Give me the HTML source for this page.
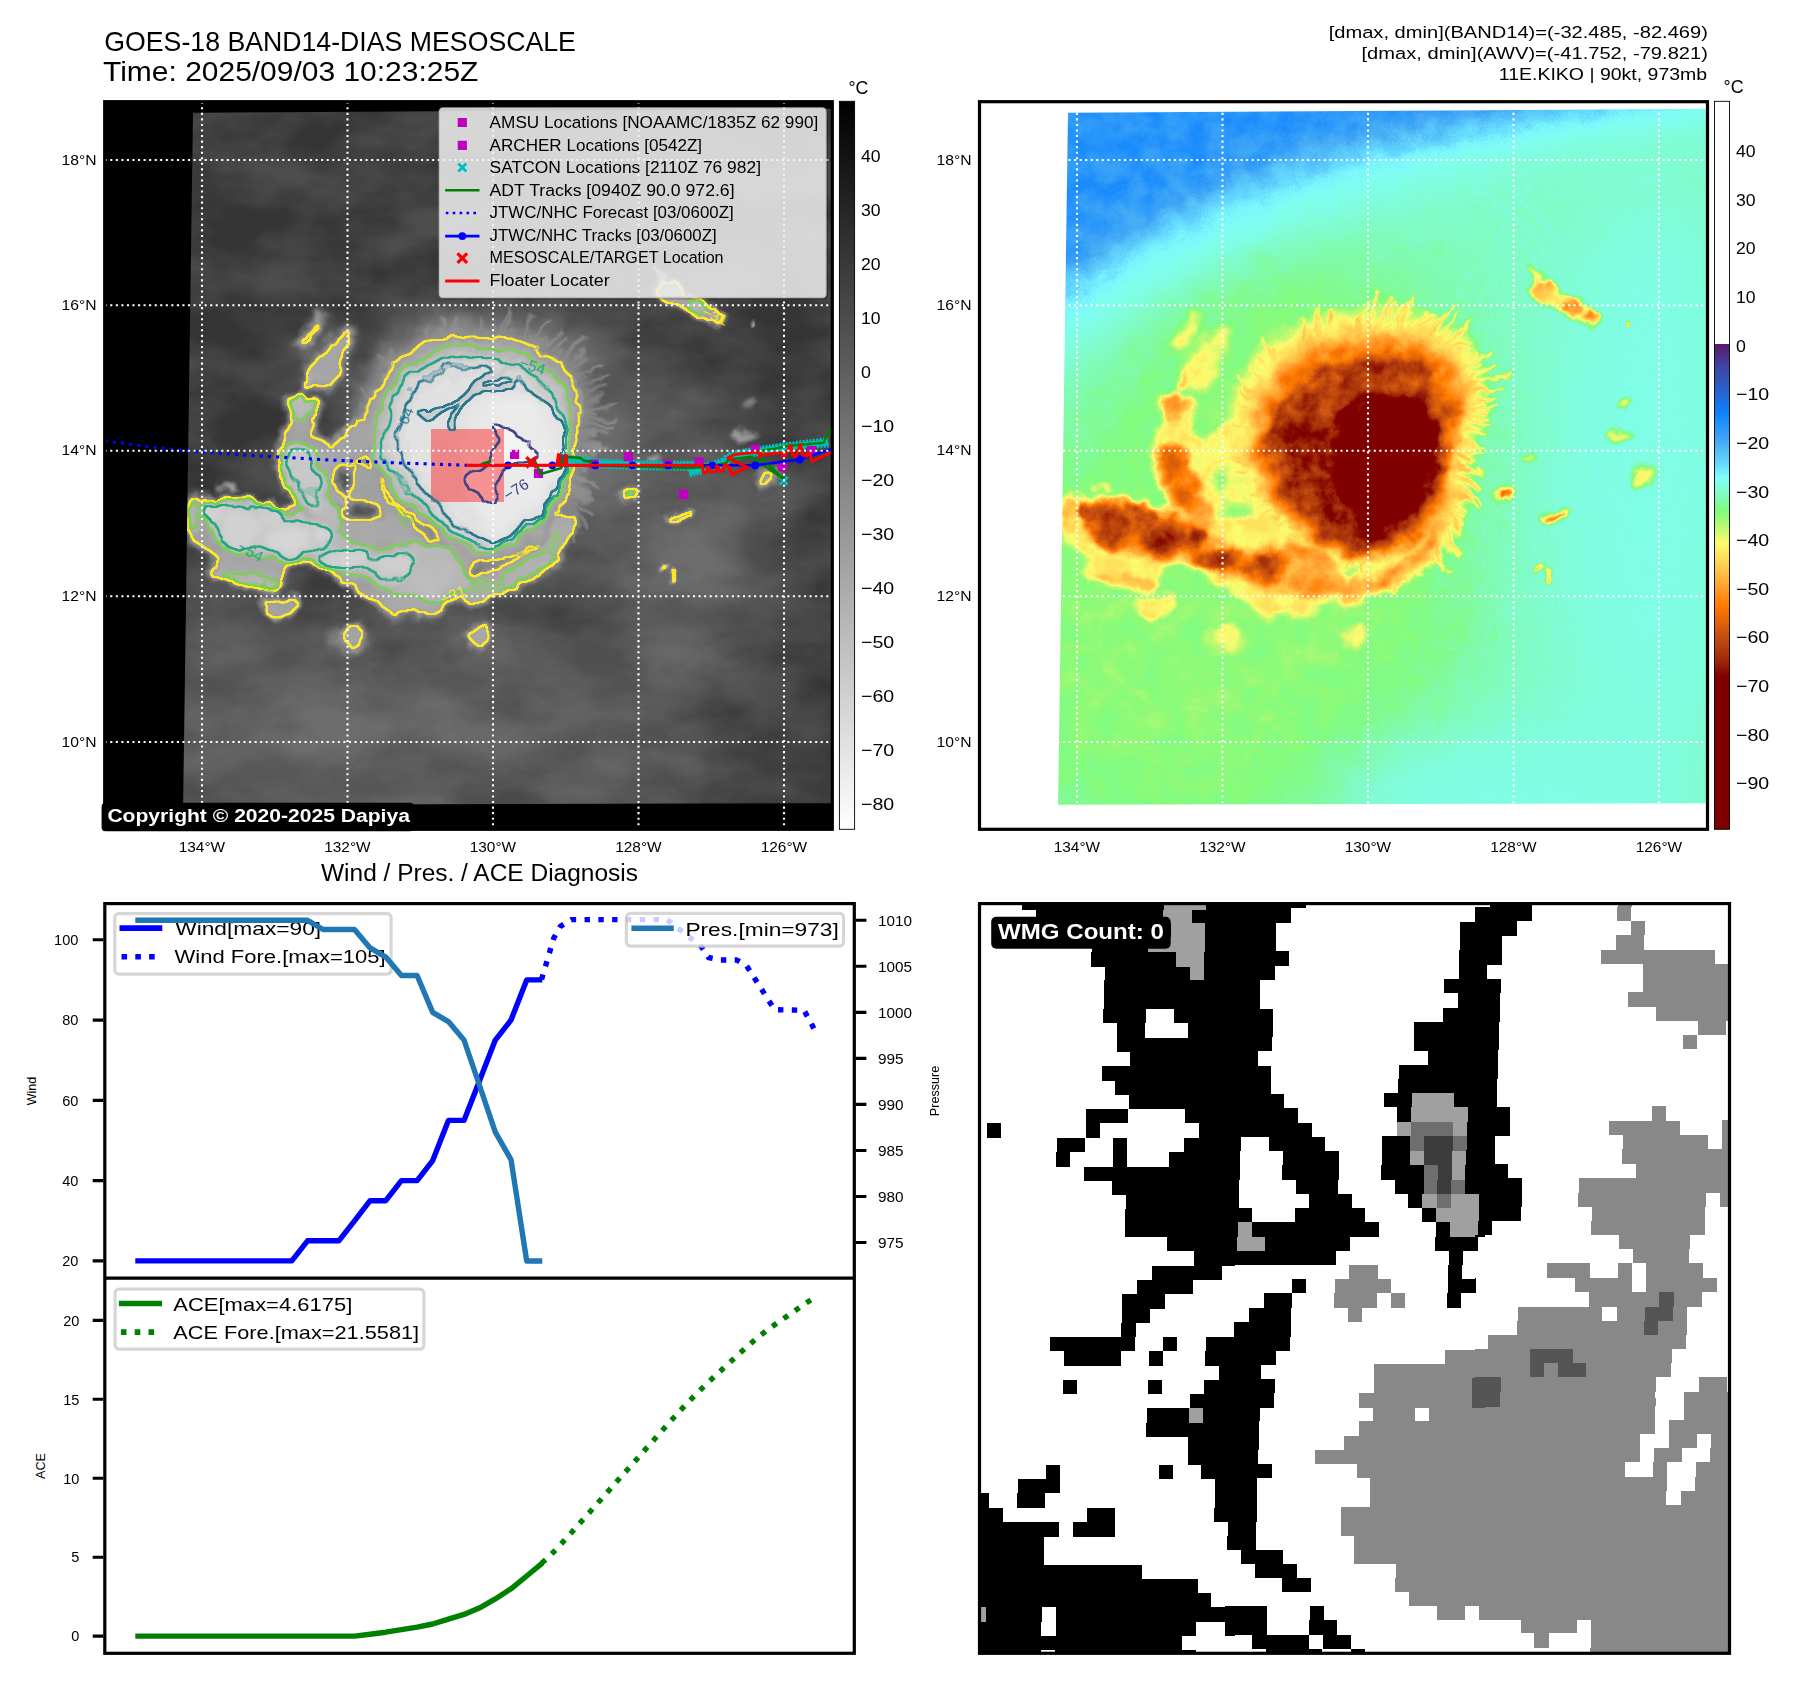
<!DOCTYPE html>
<html><head><meta charset="utf-8"><title>GOES-18 BAND14-DIAS MESOSCALE</title>
<style>html,body{margin:0;padding:0;background:#fff;overflow:hidden}svg{display:block}text{font-family:"Liberation Sans",sans-serif}</style></head><body>
<svg width="1797" height="1690" viewBox="0 0 1797 1690">
<defs><filter id="b1" x="-50%" y="-50%" width="200%" height="200%" color-interpolation-filters="sRGB"><feGaussianBlur stdDeviation="1"/></filter>
<filter id="b1_2" x="-50%" y="-50%" width="200%" height="200%" color-interpolation-filters="sRGB"><feGaussianBlur stdDeviation="1.2"/></filter>
<filter id="b1_5" x="-50%" y="-50%" width="200%" height="200%" color-interpolation-filters="sRGB"><feGaussianBlur stdDeviation="1.5"/></filter>
<filter id="b2" x="-50%" y="-50%" width="200%" height="200%" color-interpolation-filters="sRGB"><feGaussianBlur stdDeviation="2"/></filter>
<filter id="b2_5" x="-50%" y="-50%" width="200%" height="200%" color-interpolation-filters="sRGB"><feGaussianBlur stdDeviation="2.5"/></filter>
<filter id="b3" x="-50%" y="-50%" width="200%" height="200%" color-interpolation-filters="sRGB"><feGaussianBlur stdDeviation="3"/></filter>
<filter id="b4" x="-50%" y="-50%" width="200%" height="200%" color-interpolation-filters="sRGB"><feGaussianBlur stdDeviation="4"/></filter>
<filter id="b6" x="-50%" y="-50%" width="200%" height="200%" color-interpolation-filters="sRGB"><feGaussianBlur stdDeviation="6"/></filter>
<filter id="b7" x="-50%" y="-50%" width="200%" height="200%" color-interpolation-filters="sRGB"><feGaussianBlur stdDeviation="7"/></filter>
<filter id="b12" x="-50%" y="-50%" width="200%" height="200%" color-interpolation-filters="sRGB"><feGaussianBlur stdDeviation="12"/></filter>
<filter id="b20" x="-50%" y="-50%" width="200%" height="200%" color-interpolation-filters="sRGB"><feGaussianBlur stdDeviation="20"/></filter>
<filter id="b30" x="-50%" y="-50%" width="200%" height="200%" color-interpolation-filters="sRGB"><feGaussianBlur stdDeviation="30"/></filter>
<filter id="b40" x="-50%" y="-50%" width="200%" height="200%" color-interpolation-filters="sRGB"><feGaussianBlur stdDeviation="40"/></filter>
<filter id="b60" x="-50%" y="-50%" width="200%" height="200%" color-interpolation-filters="sRGB"><feGaussianBlur stdDeviation="60"/></filter>
<clipPath id="img1"><path d="M193 112.8 L831.5 108.8 L831.5 803.2 L183.1 804.8 Z"/></clipPath>
<clipPath id="ax1"><rect x="104.7" y="101.7" width="727.6" height="727.6"/></clipPath>
<filter id="disp" filterUnits="userSpaceOnUse" x="100" y="98" width="740" height="736" color-interpolation-filters="sRGB"><feTurbulence type="fractalNoise" baseFrequency="0.045" numOctaves="3" seed="2" result="t"/><feDisplacementMap in="SourceGraphic" in2="t" scale="16" xChannelSelector="R" yChannelSelector="G"/></filter>
<filter id="irf" filterUnits="userSpaceOnUse" x="100" y="98" width="740" height="736" color-interpolation-filters="sRGB">
<feTurbulence type="fractalNoise" baseFrequency="0.011 0.02" numOctaves="4" seed="11" result="n"/>
<feColorMatrix in="n" type="matrix" values="2.2 0 0 0 -0.6  2.2 0 0 0 -0.6  2.2 0 0 0 -0.6  0 0 0 0 1" result="ng"/>
<feComposite in="SourceGraphic" in2="ng" operator="arithmetic" k1="-0.13" k2="1.0650" k3="0.13" k4="-0.0650" result="fld"/>
<feGaussianBlur in="fld" stdDeviation="0.8" result="fb"/>
<feColorMatrix in="fb" x="183" y="255" width="610" height="412" type="matrix" values="0 0 0 0 0  0 0 0 0 0  0 0 0 0 0  1 0 0 0 0" result="af"/>
<feComponentTransfer in="af" result="m0"><feFuncA type="linear" slope="120" intercept="-71.500"/></feComponentTransfer>
<feMorphology in="m0" operator="dilate" radius="1" result="d0"/>
<feMorphology in="m0" operator="erode" radius="1" result="e0"/>
<feComposite in="d0" in2="e0" operator="out" result="r0"/>
<feFlood flood-color="#fde725" x="183" y="255" width="610" height="412" result="c0"/>
<feComposite in="c0" in2="r0" operator="in" result="k0"/>
<feComponentTransfer in="af" result="m1"><feFuncA type="linear" slope="120" intercept="-81.278"/></feComponentTransfer>
<feMorphology in="m1" operator="dilate" radius="1" result="d1"/>
<feMorphology in="m1" operator="erode" radius="1" result="e1"/>
<feComposite in="d1" in2="e1" operator="out" result="r1"/>
<feFlood flood-color="#7ad151" x="183" y="255" width="610" height="412" result="c1"/>
<feComposite in="c1" in2="r1" operator="in" result="k1"/>
<feComponentTransfer in="af" result="m2"><feFuncA type="linear" slope="120" intercept="-91.944"/></feComponentTransfer>
<feMorphology in="m2" operator="dilate" radius="1" result="d2"/>
<feMorphology in="m2" operator="erode" radius="1" result="e2"/>
<feComposite in="d2" in2="e2" operator="out" result="r2"/>
<feFlood flood-color="#22a884" x="183" y="255" width="610" height="412" result="c2"/>
<feComposite in="c2" in2="r2" operator="in" result="k2"/>
<feComponentTransfer in="af" result="m3"><feFuncA type="linear" slope="120" intercept="-100.833"/></feComponentTransfer>
<feMorphology in="m3" operator="dilate" radius="1" result="d3"/>
<feMorphology in="m3" operator="erode" radius="1" result="e3"/>
<feComposite in="d3" in2="e3" operator="out" result="r3"/>
<feFlood flood-color="#2a788e" x="183" y="255" width="610" height="412" result="c3"/>
<feComposite in="c3" in2="r3" operator="in" result="k3"/>
<feComponentTransfer in="af" result="m4"><feFuncA type="linear" slope="120" intercept="-111.500"/></feComponentTransfer>
<feMorphology in="m4" operator="dilate" radius="1" result="d4"/>
<feMorphology in="m4" operator="erode" radius="1" result="e4"/>
<feComposite in="d4" in2="e4" operator="out" result="r4"/>
<feFlood flood-color="#414487" x="183" y="255" width="610" height="412" result="c4"/>
<feComposite in="c4" in2="r4" operator="in" result="k4"/>
<feFlood flood-color="#ff0000" flood-opacity="0.4" x="431" y="429.1" width="73" height="72.7" result="pink"/>
<feMerge><feMergeNode in="fld"/><feMergeNode in="pink"/><feMergeNode in="k0"/><feMergeNode in="k1"/><feMergeNode in="k2"/><feMergeNode in="k3"/><feMergeNode in="k4"/></feMerge>
</filter>
<filter id="wvf" filterUnits="userSpaceOnUse" x="100" y="98" width="740" height="736" color-interpolation-filters="sRGB">
<feTurbulence type="fractalNoise" baseFrequency="0.045" numOctaves="4" seed="5" result="n"/>
<feColorMatrix in="n" type="matrix" values="2.2 0 0 0 -0.6  2.2 0 0 0 -0.6  2.2 0 0 0 -0.6  0 0 0 0 1" result="ng"/>
<feComposite in="SourceGraphic" in2="ng" operator="arithmetic" k1="0.26" k2="0.8700" k3="-0.152" k4="0.0760" result="fld"/>
<feComponentTransfer in="fld"><feFuncR type="table" tableValues="1.000 1.000 1.000 1.000 1.000 1.000 1.000 1.000 1.000 1.000 1.000 1.000 1.000 1.000 1.000 1.000 1.000 1.000 1.000 1.000 1.000 1.000 1.000 1.000 1.000 1.000 1.000 1.000 1.000 1.000 1.000 1.000 1.000 1.000 1.000 1.000 1.000 1.000 1.000 1.000 1.000 1.000 1.000 1.000 1.000 1.000 1.000 1.000 1.000 1.000 0.353 0.329 0.306 0.282 0.259 0.235 0.220 0.204 0.188 0.173 0.157 0.127 0.098 0.069 0.039 0.077 0.115 0.153 0.191 0.229 0.267 0.295 0.323 0.351 0.380 0.408 0.445 0.483 0.502 0.502 0.502 0.502 0.502 0.502 0.502 0.537 0.608 0.678 0.749 0.825 0.907 0.988 0.991 0.993 0.996 0.999 1.000 1.000 1.000 1.000 1.000 1.000 1.000 1.000 1.000 0.964 0.928 0.892 0.856 0.820 0.784 0.753 0.722 0.690 0.659 0.627 0.592 0.556 0.520 0.502 0.502 0.502 0.502 0.502 0.502 0.502 0.502 0.502 0.502 0.502 0.502 0.502 0.502 0.502 0.502 0.502"/><feFuncG type="table" tableValues="1.000 1.000 1.000 1.000 1.000 1.000 1.000 1.000 1.000 1.000 1.000 1.000 1.000 1.000 1.000 1.000 1.000 1.000 1.000 1.000 1.000 1.000 1.000 1.000 1.000 1.000 1.000 1.000 1.000 1.000 1.000 1.000 1.000 1.000 1.000 1.000 1.000 1.000 1.000 1.000 1.000 1.000 1.000 1.000 1.000 1.000 1.000 1.000 1.000 1.000 0.102 0.138 0.174 0.210 0.246 0.282 0.304 0.326 0.348 0.370 0.392 0.420 0.447 0.475 0.502 0.529 0.557 0.584 0.612 0.639 0.667 0.706 0.745 0.784 0.824 0.863 0.918 0.973 0.998 0.993 0.988 0.988 0.988 0.988 0.988 0.986 0.982 0.978 0.975 0.976 0.982 0.988 0.950 0.912 0.873 0.835 0.795 0.753 0.711 0.669 0.627 0.590 0.553 0.516 0.478 0.451 0.424 0.396 0.369 0.341 0.314 0.285 0.257 0.229 0.201 0.173 0.123 0.074 0.025 0.000 0.000 0.000 0.000 0.000 0.000 0.000 0.000 0.000 0.000 0.000 0.000 0.000 0.000 0.000 0.000 0.000"/><feFuncB type="table" tableValues="1.000 1.000 1.000 1.000 1.000 1.000 1.000 1.000 1.000 1.000 1.000 1.000 1.000 1.000 1.000 1.000 1.000 1.000 1.000 1.000 1.000 1.000 1.000 1.000 1.000 1.000 1.000 1.000 1.000 1.000 1.000 1.000 1.000 1.000 1.000 1.000 1.000 1.000 1.000 1.000 1.000 1.000 1.000 1.000 1.000 1.000 1.000 1.000 1.000 1.000 0.416 0.464 0.513 0.562 0.610 0.659 0.688 0.717 0.746 0.775 0.804 0.853 0.902 0.951 1.000 0.994 0.988 0.982 0.976 0.971 0.965 0.972 0.979 0.986 0.993 1.000 0.992 0.984 0.952 0.896 0.839 0.759 0.679 0.599 0.519 0.474 0.464 0.454 0.444 0.439 0.439 0.439 0.411 0.383 0.356 0.328 0.300 0.272 0.244 0.216 0.188 0.141 0.094 0.047 0.000 0.010 0.021 0.031 0.042 0.052 0.063 0.056 0.050 0.044 0.038 0.031 0.022 0.013 0.004 0.000 0.000 0.000 0.000 0.000 0.000 0.000 0.000 0.000 0.000 0.000 0.000 0.000 0.000 0.000 0.000 0.000"/></feComponentTransfer>
</filter></defs>
<rect width="1797" height="1690" fill="#fff"/>
<rect x="104.7" y="101.7" width="727.6" height="727.6" fill="#000"/>
<g clip-path="url(#img1)"><g filter="url(#irf)"><g filter="url(#disp)">
<rect x="80" y="78" width="780" height="776" fill="#414141"/>
<g fill="#5b5b5b" filter="url(#b40)"><ellipse cx="330" cy="720" rx="220" ry="100"/><ellipse cx="560" cy="690" rx="170" ry="90"/><ellipse cx="690" cy="520" rx="90" ry="130"/><path d="M170 610H720V830H170Z"/></g>
<g fill="#646464" filter="url(#b30)"><ellipse cx="320" cy="745" rx="160" ry="60"/><ellipse cx="520" cy="660" rx="120" ry="40" transform="rotate(-25 520 660)"/><ellipse cx="690" cy="560" rx="60" ry="90"/></g>
<g fill="#646464" filter="url(#b30)"><ellipse cx="508" cy="445" rx="150" ry="135"/></g>
<g fill="#404040" filter="url(#b30)"><ellipse cx="790" cy="770" rx="70" ry="60"/><ellipse cx="560" cy="610" rx="60" ry="25" transform="rotate(-20 560 610)"/></g>
<g id="clouds_ir">
<g style="mix-blend-mode:lighten" filter="url(#b7)"><path d="M602.2 454.9C601.4 460.0 600.9 464.8 600.2 469.8C599.6 474.7 599.1 479.7 598.3 484.7C597.6 489.7 596.8 494.8 595.6 499.8C594.5 504.9 593.2 510.0 591.4 515.0C589.6 520.0 587.5 525.1 584.8 529.8C582.2 534.5 579.0 539.1 575.6 543.3C572.1 547.5 568.2 551.4 564.1 555.2C560.1 558.9 555.7 562.5 551.1 565.7C546.6 568.8 541.7 571.8 536.7 574.3C531.6 576.8 526.3 579.0 520.9 580.7C515.5 582.4 509.9 583.6 504.2 584.3C498.6 585.0 492.8 585.4 487.2 584.9C481.6 584.4 475.9 583.3 470.5 581.6C465.2 579.9 460.0 577.3 455.1 574.6C450.3 571.9 445.8 568.6 441.5 565.2C437.2 561.9 433.3 558.3 429.6 554.7C425.8 551.2 422.3 547.6 418.7 544.1C415.1 540.7 411.7 537.4 408.0 534.1C404.3 530.8 400.4 527.8 396.5 524.5C392.5 521.2 388.3 518.0 384.2 514.4C380.1 510.7 375.8 506.9 371.8 502.7C367.9 498.4 363.9 493.9 360.4 488.9C357.0 483.9 353.7 478.5 351.1 472.8C348.6 467.2 346.6 461.1 345.2 454.9C343.8 448.7 343.1 442.3 342.7 435.9C342.3 429.4 342.4 422.8 343.0 416.3C343.6 409.7 344.8 403.1 346.4 396.6C348.1 390.1 350.3 383.6 353.0 377.4C355.7 371.2 359.0 365.1 362.7 359.4C366.5 353.7 370.8 348.1 375.5 343.2C380.2 338.2 385.5 333.6 391.1 329.6C396.6 325.6 402.7 322.1 408.8 319.2C415.0 316.2 421.5 313.8 427.9 311.8C434.4 309.8 441.1 308.4 447.6 307.3C454.2 306.2 460.9 305.6 467.5 305.2C474.1 304.8 480.6 304.8 487.2 304.9C493.8 305.0 500.3 305.3 506.8 306.0C513.3 306.6 519.9 307.4 526.4 308.7C532.9 310.0 539.4 311.6 545.7 313.7C552.0 315.9 558.3 318.5 564.1 321.7C570.0 324.9 575.7 328.6 580.8 332.9C585.9 337.2 590.8 342.1 594.7 347.4C598.6 352.8 601.8 358.9 604.3 365.1C606.7 371.3 608.2 378.0 609.1 384.5C610.1 391.0 610.2 397.7 610.1 404.0C609.9 410.3 609.1 416.6 608.2 422.5C607.4 428.4 606.1 434.0 605.1 439.4C604.1 444.8 603.0 449.8 602.2 454.9Z" fill="#555555"/><path d="M599.0 454.9C598.2 459.8 597.8 464.5 597.1 469.4C596.5 474.2 596.1 479.0 595.4 483.9C594.6 488.8 593.9 493.7 592.8 498.7C591.8 503.6 590.5 508.7 588.8 513.6C587.1 518.5 585.1 523.4 582.5 528.1C580.0 532.7 576.9 537.1 573.6 541.3C570.2 545.4 566.4 549.3 562.5 553.0C558.5 556.7 554.3 560.2 549.9 563.4C545.4 566.6 540.7 569.5 535.7 572.1C530.8 574.6 525.6 576.8 520.3 578.5C515.0 580.2 509.5 581.5 504.0 582.2C498.4 583.0 492.7 583.3 487.2 582.9C481.7 582.5 476.0 581.4 470.8 579.7C465.5 578.1 460.3 575.6 455.6 572.9C450.8 570.3 446.3 567.0 442.1 563.8C437.9 560.6 434.0 556.9 430.3 553.5C426.5 550.0 423.1 546.4 419.6 543.1C416.0 539.7 412.6 536.4 408.9 533.2C405.3 529.9 401.5 527.0 397.5 523.7C393.6 520.5 389.5 517.3 385.4 513.7C381.4 510.0 377.2 506.3 373.3 502.1C369.4 497.9 365.5 493.3 362.1 488.4C358.7 483.5 355.5 478.2 353.0 472.6C350.5 467.0 348.6 461.0 347.2 454.9C345.8 448.8 345.1 442.5 344.8 436.2C344.5 429.8 344.6 423.3 345.2 416.8C345.8 410.4 346.9 403.9 348.6 397.5C350.3 391.1 352.4 384.7 355.1 378.7C357.8 372.6 361.1 366.6 364.8 361.0C368.5 355.4 372.7 349.9 377.4 345.1C382.0 340.2 387.2 335.7 392.7 331.8C398.2 327.9 404.2 324.5 410.2 321.6C416.3 318.7 422.7 316.3 429.0 314.4C435.4 312.5 441.9 311.1 448.4 310.1C454.9 309.0 461.4 308.4 467.9 308.1C474.3 307.7 480.8 307.7 487.2 307.9C493.6 308.1 500.0 308.4 506.4 309.1C512.8 309.7 519.2 310.5 525.5 311.8C531.9 313.1 538.2 314.7 544.4 316.8C550.5 319.0 556.7 321.6 562.4 324.7C568.1 327.9 573.7 331.5 578.6 335.7C583.6 340.0 588.3 344.8 592.1 350.0C595.9 355.3 599.0 361.3 601.4 367.3C603.7 373.3 605.1 379.9 606.0 386.3C607.0 392.6 607.0 399.2 606.9 405.3C606.7 411.5 605.8 417.6 605.0 423.3C604.1 429.1 602.8 434.5 601.9 439.8C600.9 445.1 599.8 450.0 599.0 454.9Z" fill="#5a5a5a"/><path d="M595.9 454.9C595.1 459.7 594.6 464.3 594.1 469.0C593.5 473.7 593.1 478.3 592.4 483.1C591.7 487.8 591.1 492.7 590.1 497.5C589.0 502.3 587.9 507.3 586.2 512.1C584.6 516.9 582.7 521.7 580.2 526.3C577.8 530.8 574.8 535.2 571.6 539.3C568.3 543.4 564.7 547.2 560.8 550.9C557.0 554.5 552.9 558.0 548.6 561.2C544.2 564.3 539.6 567.3 534.8 569.8C530.0 572.3 524.9 574.6 519.7 576.3C514.5 578.0 509.1 579.3 503.7 580.1C498.3 580.9 492.6 581.3 487.2 580.9C481.8 580.5 476.2 579.5 471.0 577.9C465.8 576.3 460.7 573.9 456.0 571.3C451.3 568.7 446.9 565.5 442.7 562.3C438.5 559.2 434.7 555.6 431.0 552.2C427.3 548.8 423.9 545.3 420.4 542.0C416.9 538.6 413.5 535.4 409.9 532.2C406.3 529.0 402.5 526.1 398.6 522.9C394.8 519.7 390.7 516.5 386.7 512.9C382.7 509.4 378.6 505.6 374.8 501.5C370.9 497.3 367.1 492.8 363.8 488.0C360.4 483.1 357.3 477.8 354.8 472.3C352.4 466.8 350.5 460.9 349.2 454.9C347.9 448.9 347.2 442.7 346.9 436.4C346.6 430.2 346.7 423.8 347.3 417.4C348.0 411.1 349.1 404.6 350.8 398.4C352.4 392.1 354.6 385.9 357.3 379.9C359.9 373.9 363.2 368.0 366.8 362.5C370.5 357.0 374.7 351.7 379.2 346.9C383.8 342.2 389.0 337.8 394.4 333.9C399.8 330.1 405.7 326.8 411.6 324.0C417.6 321.2 423.8 318.9 430.1 317.0C436.4 315.2 442.8 313.9 449.1 312.8C455.5 311.8 461.9 311.3 468.3 311.0C474.6 310.6 480.9 310.7 487.2 310.9C493.5 311.1 499.7 311.5 506.0 312.1C512.2 312.8 518.5 313.6 524.7 314.9C530.9 316.3 537.1 317.8 543.1 320.0C549.1 322.1 555.1 324.6 560.6 327.8C566.2 330.9 571.6 334.5 576.4 338.6C581.2 342.8 585.8 347.5 589.5 352.6C593.2 357.8 596.2 363.6 598.5 369.5C600.7 375.4 602.1 381.9 602.9 388.1C603.8 394.3 603.9 400.6 603.6 406.7C603.4 412.7 602.6 418.6 601.7 424.2C600.9 429.8 599.6 435.1 598.6 440.2C597.7 445.3 596.6 450.1 595.9 454.9Z" fill="#606060"/><path d="M592.7 454.9C592.0 459.6 591.5 464.0 591.0 468.6C590.4 473.1 590.1 477.7 589.4 482.3C588.8 486.9 588.2 491.6 587.3 496.3C586.3 501.1 585.2 505.9 583.6 510.6C582.1 515.3 580.3 520.1 577.9 524.5C575.6 528.9 572.7 533.2 569.6 537.3C566.5 541.3 562.9 545.1 559.2 548.7C555.5 552.3 551.5 555.8 547.3 558.9C543.0 562.1 538.6 565.0 533.9 567.6C529.2 570.1 524.2 572.3 519.1 574.1C514.1 575.8 508.7 577.2 503.4 578.0C498.1 578.8 492.6 579.2 487.2 578.9C481.8 578.6 476.4 577.6 471.3 576.0C466.1 574.5 461.1 572.2 456.5 569.6C451.8 567.1 447.4 564.0 443.3 560.9C439.2 557.8 435.4 554.3 431.7 551.0C428.0 547.6 424.7 544.2 421.2 540.9C417.7 537.6 414.4 534.4 410.8 531.3C407.2 528.1 403.5 525.2 399.7 522.0C395.9 518.9 391.9 515.7 388.0 512.2C384.0 508.7 380.0 505.0 376.2 500.9C372.5 496.8 368.7 492.3 365.4 487.5C362.2 482.7 359.1 477.5 356.7 472.1C354.3 466.6 352.5 460.8 351.2 454.9C349.9 449.0 349.3 442.9 349.0 436.7C348.7 430.6 348.8 424.2 349.5 418.0C350.2 411.8 351.3 405.4 352.9 399.3C354.6 393.1 356.8 387.0 359.4 381.1C362.1 375.3 365.2 369.5 368.9 364.1C372.5 358.7 376.6 353.5 381.1 348.8C385.7 344.2 390.7 339.9 396.1 336.1C401.4 332.4 407.2 329.1 413.0 326.4C418.9 323.7 425.0 321.5 431.2 319.7C437.3 317.9 443.6 316.6 449.9 315.6C456.1 314.7 462.4 314.2 468.6 313.9C474.9 313.6 481.0 313.7 487.2 313.9C493.4 314.1 499.5 314.5 505.6 315.2C511.7 315.9 517.8 316.8 523.9 318.1C529.9 319.4 536.0 321.0 541.8 323.1C547.6 325.2 553.4 327.7 558.8 330.8C564.3 333.9 569.5 337.4 574.2 341.5C578.9 345.6 583.3 350.2 586.9 355.2C590.5 360.2 593.4 366.0 595.6 371.7C597.7 377.5 599.0 383.8 599.8 389.9C600.7 395.9 600.7 402.1 600.4 408.0C600.2 413.9 599.3 419.6 598.5 425.1C597.6 430.5 596.4 435.7 595.4 440.7C594.4 445.6 593.4 450.2 592.7 454.9Z" fill="#656565"/><path d="M589.5 454.9C588.8 459.4 588.4 463.7 587.9 468.2C587.4 472.6 587.1 477.0 586.5 481.5C585.9 486.0 585.4 490.6 584.5 495.2C583.6 499.8 582.6 504.5 581.1 509.1C579.6 513.7 577.8 518.4 575.6 522.7C573.3 527.1 570.6 531.3 567.6 535.3C564.6 539.2 561.1 543.0 557.5 546.5C553.9 550.1 550.1 553.6 546.0 556.7C541.9 559.8 537.5 562.8 532.9 565.3C528.4 567.8 523.5 570.1 518.5 571.9C513.6 573.6 508.3 575.0 503.1 575.9C497.9 576.7 492.5 577.2 487.2 576.9C481.9 576.6 476.5 575.7 471.5 574.2C466.4 572.7 461.5 570.4 456.9 568.0C452.3 565.5 448.0 562.5 443.9 559.4C439.8 556.4 436.1 553.0 432.5 549.7C428.8 546.5 425.5 543.0 422.0 539.8C418.6 536.6 415.3 533.4 411.8 530.3C408.2 527.2 404.6 524.3 400.8 521.2C397.0 518.1 393.1 515.0 389.2 511.5C385.4 508.0 381.4 504.3 377.7 500.3C374.0 496.2 370.3 491.8 367.1 487.1C363.9 482.3 360.9 477.2 358.5 471.8C356.2 466.5 354.4 460.7 353.2 454.9C352.0 449.1 351.3 443.0 351.1 437.0C350.8 430.9 351.0 424.7 351.7 418.6C352.3 412.5 353.5 406.2 355.1 400.2C356.8 394.2 358.9 388.1 361.6 382.4C364.2 376.6 367.3 370.9 370.9 365.7C374.5 360.4 378.6 355.3 383.0 350.7C387.5 346.2 392.5 341.9 397.7 338.3C403.0 334.6 408.7 331.5 414.4 328.8C420.2 326.2 426.2 324.0 432.3 322.3C438.3 320.5 444.5 319.3 450.6 318.4C456.8 317.5 462.9 317.0 469.0 316.8C475.1 316.5 481.2 316.6 487.2 316.9C493.2 317.2 499.2 317.6 505.2 318.3C511.2 319.0 517.1 319.9 523.0 321.2C528.9 322.5 534.8 324.1 540.5 326.2C546.2 328.3 551.8 330.8 557.1 333.8C562.3 336.9 567.5 340.4 572.0 344.4C576.6 348.4 580.9 352.9 584.3 357.8C587.8 362.7 590.6 368.3 592.7 374.0C594.7 379.6 596.0 385.8 596.7 391.7C597.5 397.5 597.5 403.6 597.2 409.3C597.0 415.0 596.1 420.7 595.2 426.0C594.4 431.2 593.1 436.3 592.2 441.1C591.2 445.9 590.2 450.4 589.5 454.9Z" fill="#6a6a6a"/><path d="M586.4 454.9C585.7 459.3 585.3 463.5 584.8 467.8C584.4 472.1 584.1 476.3 583.5 480.7C583.0 485.1 582.5 489.6 581.7 494.0C580.8 498.5 579.9 503.1 578.5 507.6C577.1 512.1 575.4 516.7 573.3 521.0C571.1 525.2 568.5 529.4 565.6 533.3C562.7 537.2 559.3 540.8 555.9 544.4C552.4 547.9 548.7 551.3 544.7 554.5C540.7 557.6 536.5 560.5 532.0 563.1C527.5 565.6 522.8 567.9 517.9 569.7C513.1 571.4 508.0 572.9 502.8 573.8C497.7 574.6 492.4 575.1 487.2 574.9C482.0 574.7 476.7 573.8 471.7 572.3C466.8 570.9 461.9 568.7 457.3 566.3C452.8 563.9 448.5 561.0 444.5 558.0C440.5 555.0 436.8 551.7 433.2 548.5C429.6 545.3 426.3 541.9 422.9 538.7C419.5 535.5 416.2 532.4 412.7 529.4C409.2 526.3 405.6 523.5 401.9 520.4C398.2 517.3 394.3 514.2 390.5 510.7C386.7 507.3 382.8 503.7 379.1 499.7C375.5 495.6 371.9 491.3 368.8 486.6C365.6 482.0 362.7 476.9 360.4 471.6C358.1 466.3 356.4 460.6 355.2 454.9C354.0 449.2 353.4 443.2 353.2 437.3C352.9 431.3 353.1 425.2 353.8 419.2C354.5 413.1 355.7 407.0 357.3 401.1C358.9 395.2 361.1 389.2 363.7 383.6C366.3 377.9 369.4 372.4 372.9 367.2C376.5 362.1 380.5 357.1 384.9 352.6C389.3 348.1 394.2 344.0 399.4 340.5C404.5 336.9 410.1 333.8 415.8 331.2C421.5 328.6 427.4 326.6 433.4 324.9C439.3 323.2 445.4 322.1 451.4 321.2C457.4 320.3 463.4 319.9 469.4 319.7C475.4 319.5 481.3 319.6 487.2 319.9C493.1 320.2 498.9 320.6 504.8 321.4C510.6 322.1 516.4 323.0 522.2 324.3C527.9 325.7 533.7 327.3 539.2 329.4C544.7 331.5 550.2 333.9 555.3 336.9C560.4 339.9 565.4 343.3 569.8 347.2C574.2 351.1 578.4 355.6 581.7 360.4C585.0 365.2 587.8 370.7 589.8 376.2C591.8 381.7 592.9 387.7 593.6 393.4C594.4 399.2 594.3 405.1 594.0 410.7C593.7 416.2 592.8 421.7 592.0 426.8C591.1 432.0 589.9 436.8 589.0 441.5C588.0 446.2 587.1 450.5 586.4 454.9Z" fill="#707070"/><path d="M583.2 454.9C582.5 459.1 582.2 463.2 581.7 467.3C581.3 471.5 581.0 475.7 580.6 479.9C580.1 484.2 579.7 488.5 578.9 492.9C578.1 497.2 577.2 501.7 575.9 506.1C574.6 510.5 573.0 515.0 571.0 519.2C568.9 523.4 566.4 527.4 563.6 531.3C560.8 535.1 557.6 538.7 554.2 542.2C550.8 545.7 547.2 549.1 543.4 552.2C539.5 555.3 535.4 558.3 531.1 560.8C526.7 563.3 522.1 565.6 517.4 567.4C512.6 569.3 507.6 570.7 502.6 571.6C497.5 572.5 492.3 573.1 487.2 572.9C482.1 572.7 476.9 571.9 472.0 570.5C467.1 569.1 462.3 567.0 457.8 564.7C453.3 562.3 449.1 559.4 445.1 556.5C441.1 553.6 437.5 550.4 433.9 547.2C430.3 544.1 427.1 540.8 423.7 537.6C420.3 534.5 417.1 531.5 413.7 528.4C410.2 525.4 406.6 522.6 403.0 519.5C399.3 516.5 395.5 513.4 391.7 510.0C388.0 506.6 384.2 503.0 380.6 499.1C377.1 495.1 373.5 490.8 370.4 486.2C367.4 481.6 364.5 476.6 362.3 471.3C360.1 466.1 358.4 460.5 357.2 454.9C356.0 449.3 355.5 443.4 355.3 437.5C355.1 431.7 355.3 425.7 356.0 419.7C356.7 413.8 357.8 407.8 359.5 402.0C361.1 396.2 363.2 390.4 365.8 384.8C368.4 379.3 371.5 373.9 375.0 368.8C378.5 363.7 382.4 358.9 386.8 354.5C391.1 350.1 396.0 346.1 401.1 342.6C406.1 339.2 411.6 336.2 417.2 333.7C422.8 331.1 428.6 329.1 434.4 327.5C440.3 325.9 446.2 324.8 452.1 324.0C458.0 323.1 463.9 322.8 469.8 322.6C475.6 322.4 481.4 322.6 487.2 322.9C493.0 323.2 498.7 323.7 504.4 324.5C510.1 325.2 515.8 326.1 521.3 327.5C526.9 328.8 532.5 330.4 537.9 332.5C543.3 334.6 548.6 337.0 553.6 339.9C558.5 342.9 563.4 346.3 567.6 350.1C571.9 353.9 575.9 358.3 579.1 363.0C582.3 367.7 585.0 373.0 586.9 378.4C588.8 383.8 589.9 389.6 590.5 395.2C591.2 400.8 591.1 406.6 590.8 412.0C590.5 417.4 589.6 422.7 588.7 427.7C587.9 432.7 586.6 437.4 585.7 441.9C584.8 446.5 583.9 450.7 583.2 454.9Z" fill="#757575"/><path d="M581.7 454.9C581.1 459.1 580.7 463.0 580.3 467.2C579.8 471.3 579.6 475.3 579.1 479.5C578.7 483.7 578.2 488.0 577.5 492.3C576.7 496.6 575.8 501.0 574.5 505.3C573.2 509.6 571.7 514.1 569.7 518.2C567.6 522.3 565.1 526.3 562.4 530.1C559.6 533.9 556.5 537.4 553.2 540.9C549.9 544.3 546.3 547.7 542.5 550.8C538.7 553.8 534.7 556.7 530.4 559.2C526.1 561.7 521.6 564.0 516.9 565.8C512.2 567.6 507.3 569.1 502.3 570.0C497.4 570.9 492.2 571.4 487.2 571.2C482.2 571.1 477.0 570.2 472.2 568.9C467.4 567.5 462.6 565.4 458.2 563.2C453.8 560.9 449.6 558.0 445.7 555.2C441.7 552.3 438.1 549.1 434.6 546.0C431.1 542.9 427.9 539.7 424.5 536.6C421.2 533.5 418.0 530.5 414.6 527.5C411.2 524.5 407.6 521.7 404.0 518.7C400.4 515.7 396.6 512.7 393.0 509.3C389.3 505.9 385.5 502.4 382.0 498.5C378.5 494.6 374.9 490.3 371.9 485.8C368.9 481.2 366.0 476.3 363.9 471.1C361.7 466.0 360.0 460.5 358.9 454.9C357.7 449.3 357.2 443.5 357.0 437.8C356.8 432.0 357.0 426.0 357.6 420.2C358.3 414.3 359.5 408.4 361.1 402.7C362.7 396.9 364.8 391.2 367.4 385.7C369.9 380.3 373.0 374.9 376.4 369.9C379.9 364.9 383.8 360.1 388.1 355.8C392.4 351.5 397.2 347.5 402.2 344.1C407.2 340.7 412.7 337.8 418.2 335.3C423.7 332.9 429.5 330.9 435.2 329.4C441.0 327.8 446.8 326.7 452.7 326.0C458.5 325.2 464.3 324.8 470.1 324.7C475.8 324.5 481.5 324.7 487.2 325.1C492.9 325.4 498.5 325.9 504.1 326.6C509.7 327.4 515.3 328.3 520.8 329.6C526.3 330.9 531.8 332.5 537.1 334.5C542.3 336.6 547.6 339.0 552.5 341.9C557.3 344.8 562.1 348.1 566.3 351.9C570.5 355.6 574.4 359.9 577.6 364.5C580.8 369.1 583.4 374.4 585.2 379.7C587.1 385.0 588.2 390.7 588.8 396.2C589.5 401.7 589.4 407.4 589.1 412.7C588.8 418.0 587.9 423.2 587.1 428.1C586.3 433.0 585.1 437.7 584.2 442.1C583.3 446.6 582.3 450.7 581.7 454.9Z" fill="#7b7b7b"/><path d="M580.2 454.9C579.6 459.0 579.2 462.9 578.8 467.0C578.4 471.0 578.1 475.0 577.7 479.1C577.2 483.3 576.8 487.5 576.0 491.7C575.3 495.9 574.4 500.3 573.2 504.5C571.9 508.8 570.4 513.1 568.4 517.2C566.4 521.2 563.9 525.2 561.2 528.9C558.5 532.6 555.4 536.2 552.2 539.6C548.9 542.9 545.4 546.3 541.7 549.3C538.0 552.3 534.0 555.2 529.8 557.7C525.6 560.1 521.1 562.4 516.5 564.2C511.9 565.9 507.0 567.4 502.1 568.3C497.2 569.2 492.2 569.7 487.2 569.6C482.2 569.4 477.2 568.6 472.4 567.3C467.6 566.0 463.0 563.9 458.6 561.7C454.2 559.4 450.1 556.6 446.2 553.8C442.4 551.0 438.8 547.8 435.3 544.8C431.8 541.7 428.7 538.5 425.4 535.5C422.1 532.5 418.9 529.5 415.5 526.6C412.2 523.6 408.7 520.9 405.1 517.9C401.5 514.9 397.8 511.9 394.2 508.6C390.5 505.3 386.8 501.8 383.3 497.9C379.9 494.1 376.4 489.9 373.4 485.4C370.4 480.9 367.6 476.0 365.5 470.9C363.3 465.8 361.7 460.4 360.5 454.9C359.4 449.4 358.9 443.7 358.6 438.0C358.4 432.3 358.6 426.4 359.3 420.6C360.0 414.9 361.1 409.0 362.7 403.3C364.3 397.7 366.4 392.0 368.9 386.6C371.4 381.2 374.4 375.9 377.8 371.0C381.3 366.1 385.1 361.3 389.4 357.1C393.6 352.9 398.4 349.0 403.3 345.6C408.3 342.3 413.7 339.4 419.1 337.0C424.6 334.6 430.3 332.7 436.0 331.2C441.7 329.7 447.5 328.7 453.2 328.0C458.9 327.2 464.7 326.9 470.3 326.8C476.0 326.7 481.6 326.9 487.2 327.2C492.8 327.6 498.3 328.0 503.8 328.8C509.3 329.6 514.8 330.4 520.2 331.8C525.6 333.1 531.0 334.6 536.2 336.6C541.4 338.6 546.6 341.0 551.3 343.8C556.1 346.6 560.8 349.9 564.9 353.6C569.0 357.3 573.0 361.5 576.1 366.0C579.2 370.6 581.7 375.8 583.6 380.9C585.4 386.1 586.5 391.8 587.1 397.2C587.8 402.6 587.7 408.2 587.4 413.4C587.1 418.6 586.3 423.7 585.5 428.6C584.7 433.4 583.5 438.0 582.6 442.3C581.7 446.7 580.8 450.8 580.2 454.9Z" fill="#818181"/><path d="M578.7 454.9C578.1 458.9 577.8 462.8 577.3 466.8C576.9 470.7 576.7 474.7 576.2 478.8C575.8 482.8 575.4 486.9 574.6 491.1C573.9 495.3 573.0 499.6 571.8 503.7C570.5 507.9 569.0 512.2 567.1 516.2C565.1 520.2 562.7 524.1 560.0 527.7C557.4 531.4 554.3 534.9 551.1 538.2C547.9 541.6 544.5 544.8 540.8 547.8C537.2 550.8 533.3 553.6 529.1 556.1C525.0 558.5 520.6 560.8 516.0 562.5C511.5 564.3 506.7 565.7 501.9 566.6C497.1 567.5 492.1 568.1 487.2 567.9C482.3 567.7 477.3 567.0 472.6 565.7C467.9 564.4 463.3 562.4 459.0 560.2C454.7 557.9 450.6 555.2 446.8 552.4C443.0 549.7 439.5 546.6 436.0 543.6C432.6 540.6 429.4 537.4 426.2 534.4C422.9 531.4 419.8 528.5 416.5 525.6C413.2 522.7 409.7 520.0 406.2 517.1C402.7 514.1 399.0 511.2 395.4 507.9C391.8 504.6 388.1 501.2 384.7 497.4C381.3 493.5 377.8 489.4 374.9 485.0C372.0 480.5 369.2 475.7 367.1 470.7C364.9 465.7 363.3 460.3 362.2 454.9C361.1 449.5 360.5 443.8 360.3 438.2C360.1 432.6 360.3 426.8 361.0 421.1C361.7 415.4 362.7 409.6 364.3 404.0C365.9 398.4 367.9 392.8 370.4 387.5C372.9 382.2 375.9 376.9 379.3 372.1C382.6 367.2 386.5 362.5 390.7 358.4C394.9 354.2 399.6 350.4 404.5 347.1C409.4 343.8 414.7 341.0 420.1 338.7C425.5 336.4 431.1 334.5 436.7 333.1C442.3 331.6 448.1 330.7 453.7 330.0C459.4 329.3 465.0 329.0 470.6 328.9C476.2 328.8 481.7 329.1 487.2 329.4C492.7 329.7 498.1 330.2 503.5 331.0C508.9 331.7 514.3 332.6 519.6 333.9C524.9 335.2 530.2 336.7 535.3 338.7C540.4 340.6 545.5 342.9 550.2 345.7C554.9 348.5 559.5 351.7 563.6 355.4C567.6 359.0 571.5 363.1 574.5 367.6C577.6 372.0 580.1 377.1 581.9 382.2C583.7 387.3 584.8 392.9 585.4 398.2C586.1 403.5 586.0 408.9 585.7 414.1C585.5 419.2 584.6 424.3 583.8 429.0C583.1 433.7 581.9 438.2 581.1 442.5C580.2 446.9 579.3 450.9 578.7 454.9Z" fill="#878787"/><path d="M577.2 454.9C576.6 458.9 576.3 462.7 575.9 466.6C575.5 470.5 575.2 474.4 574.8 478.4C574.3 482.4 573.9 486.4 573.2 490.5C572.5 494.6 571.6 498.8 570.4 502.9C569.2 507.0 567.7 511.2 565.8 515.2C563.8 519.1 561.5 522.9 558.9 526.6C556.2 530.2 553.3 533.6 550.1 536.9C547.0 540.2 543.6 543.4 540.0 546.4C536.4 549.3 532.5 552.1 528.5 554.5C524.4 556.9 520.1 559.2 515.6 560.9C511.1 562.6 506.4 564.1 501.7 564.9C497.0 565.8 492.0 566.4 487.2 566.2C482.4 566.1 477.5 565.3 472.8 564.1C468.2 562.8 463.6 560.8 459.4 558.6C455.2 556.5 451.1 553.8 447.4 551.1C443.6 548.3 440.1 545.3 436.7 542.3C433.3 539.4 430.2 536.3 427.0 533.3C423.8 530.4 420.7 527.5 417.4 524.7C414.1 521.8 410.7 519.2 407.3 516.2C403.8 513.3 400.1 510.4 396.6 507.2C393.1 504.0 389.4 500.6 386.0 496.8C382.7 493.0 379.3 489.0 376.4 484.6C373.5 480.2 370.7 475.5 368.7 470.5C366.6 465.6 365.0 460.2 363.9 454.9C362.8 449.6 362.2 444.0 362.0 438.4C361.8 432.9 362.0 427.2 362.7 421.5C363.3 415.9 364.4 410.2 365.9 404.7C367.5 399.1 369.5 393.6 372.0 388.4C374.4 383.1 377.4 378.0 380.7 373.2C384.0 368.4 387.8 363.8 392.0 359.7C396.1 355.6 400.8 351.8 405.6 348.6C410.5 345.4 415.8 342.7 421.1 340.4C426.4 338.1 432.0 336.4 437.5 334.9C443.0 333.5 448.7 332.6 454.3 332.0C459.8 331.3 465.4 331.1 470.9 331.0C476.4 331.0 481.8 331.2 487.2 331.6C492.6 331.9 497.9 332.4 503.2 333.2C508.5 333.9 513.8 334.8 519.1 336.0C524.3 337.3 529.5 338.8 534.5 340.7C539.5 342.7 544.5 344.9 549.1 347.7C553.7 350.4 558.3 353.5 562.2 357.1C566.2 360.7 570.0 364.7 573.0 369.1C576.0 373.5 578.5 378.5 580.3 383.5C582.1 388.5 583.1 393.9 583.7 399.2C584.4 404.4 584.3 409.7 584.1 414.8C583.8 419.8 583.0 424.8 582.2 429.4C581.5 434.1 580.3 438.5 579.5 442.7C578.7 447.0 577.8 450.9 577.2 454.9Z" fill="#8d8d8d"/><path d="M575.7 454.9C575.1 458.8 574.8 462.5 574.4 466.4C574.0 470.2 573.8 474.1 573.3 478.0C572.9 481.9 572.5 485.9 571.8 489.9C571.1 494.0 570.2 498.1 569.0 502.1C567.8 506.2 566.4 510.3 564.5 514.2C562.6 518.1 560.2 521.8 557.7 525.4C555.1 528.9 552.2 532.3 549.1 535.6C546.0 538.8 542.7 542.0 539.2 544.9C535.6 547.8 531.8 550.6 527.8 553.0C523.8 555.3 519.6 557.5 515.2 559.2C510.8 561.0 506.1 562.4 501.5 563.3C496.8 564.2 491.9 564.7 487.2 564.6C482.5 564.4 477.6 563.7 473.0 562.5C468.5 561.2 464.0 559.3 459.8 557.1C455.6 555.0 451.7 552.4 447.9 549.7C444.2 547.0 440.8 544.0 437.4 541.1C434.1 538.2 431.0 535.2 427.8 532.3C424.7 529.4 421.6 526.5 418.4 523.7C415.1 520.9 411.8 518.3 408.3 515.4C404.9 512.6 401.3 509.7 397.8 506.5C394.3 503.3 390.7 500.0 387.4 496.2C384.1 492.5 380.7 488.5 377.9 484.2C375.0 479.9 372.3 475.2 370.3 470.3C368.2 465.4 366.6 460.2 365.5 454.9C364.4 449.6 363.9 444.1 363.7 438.6C363.5 433.2 363.7 427.5 364.3 422.0C365.0 416.4 366.0 410.8 367.6 405.3C369.1 399.9 371.1 394.4 373.5 389.3C375.9 384.1 378.8 379.0 382.1 374.3C385.4 369.6 389.2 365.0 393.3 361.0C397.4 356.9 402.0 353.2 406.8 350.1C411.6 346.9 416.8 344.3 422.1 342.1C427.3 339.9 432.8 338.2 438.3 336.8C443.7 335.5 449.3 334.6 454.8 334.0C460.3 333.4 465.8 333.2 471.2 333.1C476.6 333.1 481.9 333.4 487.2 333.7C492.5 334.1 497.7 334.6 502.9 335.3C508.2 336.1 513.4 336.9 518.5 338.2C523.6 339.4 528.7 340.9 533.6 342.8C538.6 344.7 543.5 346.9 548.0 349.6C552.5 352.3 557.0 355.4 560.9 358.9C564.8 362.4 568.5 366.3 571.5 370.6C574.4 375.0 576.9 379.8 578.6 384.8C580.4 389.7 581.4 395.0 582.0 400.1C582.7 405.3 582.6 410.5 582.4 415.5C582.1 420.4 581.3 425.3 580.6 429.9C579.9 434.5 578.8 438.8 577.9 443.0C577.1 447.1 576.3 451.0 575.7 454.9Z" fill="#939393"/></g>
<g fill="#a4a4a4" style="mix-blend-mode:lighten" filter="url(#b3)"><path d="M188.0 516.0C189.9 508.2 193.5 497.5 199.6 494.4C205.6 491.4 214.8 496.6 224.4 497.7C234.1 498.9 249.0 499.7 257.6 501.1C266.1 502.4 268.9 506.0 275.8 506.0C282.7 506.0 289.6 501.1 299.0 501.1C308.4 501.1 323.8 503.5 332.1 506.0C340.4 508.5 341.8 514.3 348.7 516.0C355.6 517.6 366.6 517.4 373.5 516.0C380.4 514.6 383.2 505.5 390.1 507.7C397.0 509.9 406.7 524.0 414.9 529.2C423.2 534.5 431.8 536.4 439.8 539.2C447.8 541.9 457.2 541.4 463.0 545.8C468.8 550.2 474.3 558.2 474.6 565.7C474.9 573.1 469.1 584.2 464.6 590.5C460.2 596.9 453.6 599.6 448.1 603.8C442.6 607.9 441.2 613.2 431.5 615.4C421.8 617.6 400.6 619.8 390.1 617.0C379.6 614.3 376.8 604.6 368.6 598.8C360.3 593.0 349.2 587.8 340.4 582.2C331.6 576.7 323.8 568.2 315.5 565.7C307.3 563.2 296.2 564.6 290.7 567.3C285.2 570.1 284.9 578.4 282.4 582.2C279.9 586.1 281.3 589.7 275.8 590.5C270.3 591.4 257.8 588.9 249.3 587.2C240.7 585.6 231.3 582.5 224.4 580.6C217.5 578.7 209.2 579.5 207.9 575.6C206.5 571.7 217.5 561.8 216.1 557.4C214.8 553.0 204.3 551.9 199.6 549.1C194.9 546.3 189.9 546.3 188.0 540.8C186.0 535.3 186.0 523.7 188.0 516.0Z"/></g>
<g fill="#a4a4a4" style="mix-blend-mode:lighten" filter="url(#b3)"><path d="M275.8 466.3C275.2 458.8 276.6 449.7 279.1 441.4C281.6 433.1 287.4 423.5 290.7 416.6C294.0 409.7 294.0 402.8 299.0 400.0C303.9 397.2 317.7 395.9 320.5 400.0C323.3 404.1 313.6 417.9 315.5 424.9C317.5 431.8 326.6 441.4 332.1 441.4C337.6 441.4 343.2 429.0 348.7 424.9C354.2 420.7 360.3 415.2 365.2 416.6C370.2 417.9 378.5 426.2 378.5 433.1C378.5 440.0 370.2 451.9 365.2 458.0C360.3 464.1 354.2 466.0 348.7 469.6C343.2 473.2 332.1 475.7 332.1 479.5C332.1 483.4 345.9 486.7 348.7 492.8C351.4 498.9 351.4 513.8 348.7 516.0C345.9 518.2 340.4 508.5 332.1 506.0C323.8 503.5 307.3 504.4 299.0 501.1C290.7 497.7 286.3 491.9 282.4 486.1C278.5 480.4 276.3 473.7 275.8 466.3Z"/></g>
<g fill="#a2a2a2" style="mix-blend-mode:lighten" filter="url(#b3)"><path d="M348.7 469.6C352.0 463.5 363.0 460.2 368.6 463.0C374.1 465.7 375.5 477.3 381.8 486.1C388.2 495.0 399.8 508.2 406.7 516.0C413.6 523.7 421.8 528.9 423.2 532.5C424.6 536.1 420.5 540.3 414.9 537.5C409.4 534.7 398.4 521.2 390.1 516.0C381.8 510.7 372.1 508.8 365.2 506.0C358.3 503.3 351.4 505.5 348.7 499.4C345.9 493.3 345.4 475.7 348.7 469.6Z"/></g>
<g fill="#a4a4a4" style="mix-blend-mode:lighten" filter="url(#b2_5)"><path d="M262.5 598.8C267.5 596.3 294.3 595.8 299.0 598.8C303.7 601.8 295.7 614.5 290.7 617.0C285.7 619.5 273.8 616.8 269.1 613.7C264.5 610.7 257.6 601.3 262.5 598.8Z"/></g>
<g fill="#a2a2a2" style="mix-blend-mode:lighten" filter="url(#b2)"><path d="M343.7 625.3C345.9 622.6 356.4 622.8 358.6 625.3C360.8 627.8 359.2 637.5 357.0 640.2C354.7 643.0 347.6 644.4 345.4 641.9C343.2 639.4 341.5 628.1 343.7 625.3Z"/></g>
<g fill="#a2a2a2" style="mix-blend-mode:lighten" filter="url(#b2)"><path d="M221.1 482.8C223.6 482.3 234.1 484.5 236.0 486.1C237.9 487.8 235.2 492.2 232.7 492.8C230.2 493.3 223.0 491.1 221.1 489.5C219.2 487.8 218.6 483.4 221.1 482.8Z"/></g>
<g fill="#a2a2a2" style="mix-blend-mode:lighten" filter="url(#b4)"><path d="M296.0 347.6C297.0 341.8 307.7 324.5 312.5 318.6C317.4 312.8 323.2 310.4 325.0 312.4C326.7 314.5 326.0 324.2 322.9 331.1C319.8 338.0 310.8 351.1 306.3 353.8C301.8 356.6 294.9 353.5 296.0 347.6Z"/></g>
<g fill="#a2a2a2" style="mix-blend-mode:lighten" filter="url(#b4)"><path d="M331.2 635.5C333.3 631.4 352.2 625.8 358.1 627.2C364.0 628.6 368.5 639.6 366.4 643.8C364.3 647.9 351.5 653.4 345.7 652.1C339.8 650.7 329.1 639.6 331.2 635.5Z"/></g>
<g fill="#a2a2a2" style="mix-blend-mode:lighten" filter="url(#b3)"><path d="M469.9 631.4C472.0 626.9 483.1 621.7 486.5 623.1C490.0 624.5 492.7 635.2 490.6 639.6C488.6 644.1 477.5 651.4 474.1 650.0C470.6 648.6 467.9 635.8 469.9 631.4Z"/></g>
<g fill="#a2a2a2" style="mix-blend-mode:lighten" filter="url(#b4)"><path d="M312.5 387.0C307.0 383.9 302.9 374.2 304.3 368.3C305.6 362.5 314.6 358.7 320.8 351.8C327.0 344.9 335.7 330.0 341.5 326.9C347.4 323.8 355.3 327.3 356.0 333.1C356.7 339.0 348.8 353.2 345.7 362.1C342.6 371.1 342.9 382.8 337.4 387.0C331.9 391.1 318.1 390.1 312.5 387.0Z"/></g>
<g style="mix-blend-mode:lighten" filter="url(#b3)"><path d="M563.0 528.0C560.5 532.0 555.2 544.5 548.0 552.0C540.8 559.5 529.7 567.3 520.0 573.0C510.3 578.7 500.0 583.0 490.0 586.0C480.0 589.0 469.7 591.0 460.0 591.0C450.3 591.0 436.7 586.8 432.0 586.0" fill="none" stroke="#aeaeae" stroke-width="26" stroke-linecap="round"/></g>
<g fill="#b5b5b5" style="mix-blend-mode:lighten" filter="url(#b3)"><path d="M202.9 502.7C207.0 498.3 221.7 499.1 232.7 499.4C243.7 499.7 259.5 502.2 269.1 504.4C278.8 506.6 281.6 510.7 290.7 512.7C299.8 514.6 315.5 512.7 323.8 516.0C332.1 519.3 333.5 527.6 340.4 532.5C347.3 537.5 352.8 543.0 365.2 545.8C377.7 548.6 403.9 546.9 414.9 549.1C426.0 551.3 423.5 556.3 431.5 559.0C439.5 561.8 457.5 560.4 463.0 565.7C468.5 570.9 471.3 585.6 464.6 590.5C458.0 595.5 437.0 595.5 423.2 595.5C409.4 595.5 394.2 594.1 381.8 590.5C369.4 586.9 358.3 578.4 348.7 574.0C339.0 569.5 333.5 565.7 323.8 564.0C314.2 562.4 300.4 565.1 290.7 564.0C281.0 562.9 274.1 559.3 265.8 557.4C257.6 555.5 248.7 555.2 241.0 552.4C233.3 549.7 225.0 545.2 219.4 540.8C213.9 536.4 210.6 532.3 207.9 525.9C205.1 519.6 198.7 507.1 202.9 502.7Z"/></g>
<g fill="#b9b9b9" style="mix-blend-mode:lighten" filter="url(#b3)"><path d="M285.7 469.6C287.4 465.7 294.0 462.7 299.0 463.0C303.9 463.2 310.6 466.3 315.5 471.2C320.5 476.2 324.9 485.3 328.8 492.8C332.7 500.2 338.2 509.3 338.7 516.0C339.3 522.6 335.4 532.0 332.1 532.5C328.8 533.1 324.4 523.7 318.9 519.3C313.3 514.9 303.9 511.6 299.0 506.0C294.0 500.5 291.2 492.2 289.0 486.1C286.8 480.1 284.1 473.4 285.7 469.6Z"/></g>
<g fill="#b3b3b3" style="mix-blend-mode:lighten" filter="url(#b3)"><path d="M216.1 574.0C220.3 573.4 238.2 575.9 249.3 577.3C260.3 578.7 278.0 580.0 282.4 582.2C286.8 584.4 281.3 589.7 275.8 590.5C270.3 591.4 257.8 588.9 249.3 587.2C240.7 585.6 229.9 582.8 224.4 580.6C218.9 578.4 212.0 574.5 216.1 574.0Z"/></g>
<g fill="#b9b9b9" style="mix-blend-mode:lighten" filter="url(#b3)"><path d="M287.7 395.3C290.5 391.5 300.1 387.0 304.3 389.1C308.4 391.1 312.9 402.5 312.5 407.7C312.2 412.9 306.3 419.4 302.2 420.1C298.0 420.8 290.1 416.0 287.7 411.8C285.3 407.7 284.9 399.1 287.7 395.3Z"/></g>
<g fill="#b5b5b5" style="mix-blend-mode:lighten" filter="url(#b3)"><path d="M302.2 376.6C303.2 374.9 308.7 373.5 310.5 374.6C312.2 375.6 313.6 381.1 312.5 382.8C311.5 384.6 306.0 385.9 304.3 384.9C302.5 383.9 301.2 378.4 302.2 376.6Z"/></g>
<g fill="#b9b9b9" style="mix-blend-mode:lighten" filter="url(#b3)"><path d="M411.8 544.3C417.1 539.9 430.5 540.9 437.8 541.9C445.1 542.9 453.0 544.9 455.6 550.2C458.2 555.5 456.2 566.9 453.2 573.8C450.2 580.7 444.3 589.6 437.8 591.6C431.3 593.6 419.5 589.6 414.2 585.7C408.9 581.8 406.3 574.9 405.9 568.0C405.5 561.1 406.5 548.6 411.8 544.3Z"/></g>
<g style="mix-blend-mode:lighten" filter="url(#b3)"><path d="M563.0 528.0C560.5 532.0 555.2 544.5 548.0 552.0C540.8 559.5 529.7 567.3 520.0 573.0C510.3 578.7 500.0 583.0 490.0 586.0C480.0 589.0 469.7 591.0 460.0 591.0C450.3 591.0 436.7 586.8 432.0 586.0" fill="none" stroke="#aaaaaa" stroke-width="13" stroke-linecap="round"/></g>
<g fill="#b5b5b5" style="mix-blend-mode:lighten" filter="url(#b3)"><ellipse cx="192" cy="512" rx="8" ry="22"/></g>
<g fill="#cacaca" style="mix-blend-mode:lighten" filter="url(#b3)"><path d="M204.5 509.3C205.9 505.2 217.0 504.9 224.4 504.4C231.9 503.8 241.8 505.5 249.3 506.0C256.7 506.6 263.6 506.0 269.1 507.7C274.7 509.3 277.4 514.0 282.4 516.0C287.4 517.9 292.6 518.5 299.0 519.3C305.3 520.1 315.3 518.7 320.5 520.9C325.8 523.1 329.3 528.4 330.4 532.5C331.6 536.7 330.7 542.5 327.1 545.8C323.5 549.1 315.3 549.9 308.9 552.4C302.6 554.9 295.7 560.7 289.0 560.7C282.4 560.7 275.8 554.4 269.1 552.4C262.5 550.5 255.9 551.0 249.3 549.1C242.6 547.2 234.9 544.1 229.4 540.8C223.9 537.5 220.3 534.5 216.1 529.2C212.0 524.0 203.2 513.5 204.5 509.3Z"/></g>
<g fill="#cacaca" style="mix-blend-mode:lighten" filter="url(#b3)"><path d="M320.5 549.1C324.7 547.4 338.5 551.0 348.7 552.4C358.9 553.8 371.3 557.1 381.8 557.4C392.3 557.7 406.1 552.7 411.6 554.1C417.2 555.5 416.3 561.5 414.9 565.7C413.6 569.8 409.4 576.4 403.3 578.9C397.3 581.4 387.6 582.2 378.5 580.6C369.4 578.9 357.8 572.0 348.7 569.0C339.6 565.9 328.5 565.7 323.8 562.4C319.1 559.0 316.4 550.8 320.5 549.1Z"/></g>
<g fill="#c6c6c6" style="mix-blend-mode:lighten" filter="url(#b3)"><path d="M283.5 449.1C287.0 445.7 298.7 441.5 304.3 445.0C309.8 448.4 313.6 460.8 316.7 469.8C319.8 478.8 323.6 492.3 322.9 498.8C322.2 505.4 317.0 511.2 312.5 509.2C308.1 507.1 300.8 493.6 296.0 486.4C291.1 479.1 285.6 471.9 283.5 465.7C281.5 459.5 280.1 452.6 283.5 449.1Z"/></g>
<g fill="#d4d4d4" style="mix-blend-mode:lighten" filter="url(#b3)"><ellipse cx="214.17139543552997" cy="511.241353601458" rx="10" ry="9"/></g>
<g fill="#d4d4d4" style="mix-blend-mode:lighten" filter="url(#b4)"><ellipse cx="240.05881622002238" cy="527.8093029035331" rx="21" ry="17"/></g>
<g fill="#d2d2d2" style="mix-blend-mode:lighten" filter="url(#b3)"><ellipse cx="271.12372116141324" cy="517.4543345897362" rx="13" ry="9"/></g>
<g fill="#d6d6d6" style="mix-blend-mode:lighten" filter="url(#b4)"><ellipse cx="287.6916704634884" cy="538.1642712173301" rx="21" ry="15"/></g>
<g fill="#d4d4d4" style="mix-blend-mode:lighten" filter="url(#b3)"><ellipse cx="322.89856273039806" cy="536.0932775545707" rx="7" ry="10"/></g>
<g fill="#d2d2d2" style="mix-blend-mode:lighten" filter="url(#b3)"><ellipse cx="349.82148034627016" cy="558.8742078449241" rx="22" ry="9"/></g>
<g fill="#d0d0d0" style="mix-blend-mode:lighten" filter="url(#b3)"><ellipse cx="397.45433458973616" cy="564.0516920018224" rx="18" ry="10"/></g>
<g style="mix-blend-mode:lighten" filter="url(#b2_0)"><path d="M574.2 454.9C573.6 458.7 573.3 462.4 572.9 466.2C572.5 470.0 572.3 473.7 571.9 477.6C571.4 481.4 571.1 485.4 570.3 489.3C569.6 493.3 568.8 497.4 567.6 501.3C566.4 505.3 565.0 509.4 563.2 513.2C561.3 517.0 559.0 520.7 556.5 524.2C554.0 527.7 551.1 531.0 548.1 534.2C545.0 537.4 541.8 540.6 538.3 543.4C534.8 546.3 531.1 549.0 527.2 551.4C523.2 553.8 519.0 555.9 514.7 557.6C510.4 559.3 505.8 560.7 501.2 561.6C496.7 562.5 491.9 563.0 487.2 562.9C482.5 562.8 477.8 562.1 473.3 560.8C468.8 559.6 464.3 557.7 460.2 555.6C456.1 553.6 452.2 551.0 448.5 548.3C444.8 545.7 441.4 542.8 438.1 539.9C434.8 537.0 431.8 534.1 428.7 531.2C425.5 528.3 422.5 525.5 419.3 522.8C416.1 520.0 412.8 517.4 409.4 514.6C406.0 511.8 402.5 509.0 399.0 505.8C395.6 502.7 392.0 499.3 388.7 495.7C385.5 492.0 382.2 488.1 379.4 483.8C376.6 479.5 373.9 474.9 371.9 470.1C369.8 465.3 368.3 460.1 367.2 454.9C366.1 449.7 365.6 444.3 365.4 438.9C365.2 433.5 365.4 427.9 366.0 422.4C366.6 416.9 367.7 411.4 369.2 406.0C370.7 400.6 372.6 395.2 375.0 390.1C377.4 385.0 380.3 380.0 383.5 375.4C386.8 370.7 390.5 366.2 394.6 362.3C398.6 358.3 403.2 354.7 407.9 351.6C412.7 348.5 417.8 345.9 423.0 343.8C428.2 341.6 433.7 340.0 439.1 338.7C444.4 337.4 449.9 336.6 455.3 336.0C460.7 335.4 466.1 335.3 471.4 335.2C476.8 335.2 482.0 335.5 487.2 335.9C492.4 336.3 497.5 336.8 502.7 337.5C507.8 338.2 512.9 339.1 517.9 340.3C522.9 341.5 528.0 343.0 532.8 344.8C537.6 346.7 542.4 348.9 546.9 351.5C551.3 354.2 555.7 357.2 559.5 360.6C563.4 364.1 567.0 367.9 569.9 372.2C572.8 376.4 575.2 381.2 577.0 386.0C578.7 390.8 579.7 396.1 580.3 401.1C581.0 406.1 580.9 411.3 580.7 416.2C580.5 421.0 579.7 425.8 579.0 430.3C578.2 434.8 577.2 439.1 576.4 443.2C575.6 447.3 574.8 451.1 574.2 454.9Z" fill="#999999"/><path d="M572.7 454.9C572.1 458.7 571.7 462.3 571.3 466.0C570.8 469.7 570.5 473.3 569.9 477.1C569.4 480.8 568.9 484.6 568.1 488.4C567.3 492.2 566.4 496.1 565.1 499.9C563.9 503.7 562.4 507.6 560.6 511.2C558.7 514.8 556.5 518.4 554.0 521.7C551.6 525.1 548.8 528.3 545.9 531.4C543.0 534.5 539.9 537.6 536.6 540.4C533.2 543.3 529.7 546.0 525.9 548.3C522.1 550.7 518.1 552.9 513.9 554.6C509.7 556.3 505.3 557.8 500.9 558.7C496.4 559.6 491.7 560.2 487.2 560.1C482.7 560.1 478.0 559.4 473.6 558.2C469.2 557.1 464.9 555.3 460.8 553.2C456.8 551.2 453.0 548.7 449.4 546.2C445.8 543.6 442.5 540.8 439.2 538.0C436.0 535.2 433.0 532.3 429.9 529.5C426.8 526.8 423.9 524.1 420.7 521.4C417.6 518.7 414.3 516.2 410.9 513.4C407.6 510.7 404.0 508.0 400.6 504.9C397.2 501.8 393.6 498.6 390.4 495.0C387.1 491.4 383.8 487.5 381.0 483.3C378.2 479.2 375.6 474.6 373.6 469.9C371.5 465.1 370.0 460.0 368.9 454.9C367.9 449.8 367.4 444.4 367.2 439.1C367.1 433.8 367.3 428.3 368.0 423.0C368.6 417.6 369.7 412.1 371.3 406.9C372.8 401.6 374.8 396.4 377.2 391.4C379.6 386.4 382.4 381.5 385.7 377.0C388.9 372.5 392.5 368.1 396.5 364.2C400.5 360.3 405.0 356.8 409.6 353.8C414.2 350.7 419.3 348.2 424.4 346.1C429.4 343.9 434.8 342.3 440.0 341.0C445.3 339.7 450.7 338.9 456.0 338.3C461.2 337.7 466.5 337.5 471.7 337.5C477.0 337.5 482.1 337.8 487.2 338.1C492.3 338.5 497.3 339.0 502.4 339.8C507.4 340.6 512.4 341.5 517.3 342.7C522.2 344.0 527.1 345.4 531.8 347.3C536.5 349.2 541.1 351.4 545.5 354.0C549.8 356.6 554.0 359.6 557.7 363.0C561.5 366.4 565.0 370.2 567.8 374.3C570.6 378.4 573.0 383.1 574.7 387.7C576.4 392.4 577.5 397.5 578.1 402.4C578.8 407.3 578.8 412.3 578.7 417.0C578.5 421.7 577.8 426.4 577.2 430.8C576.6 435.2 575.6 439.3 574.8 443.4C574.1 447.4 573.3 451.1 572.7 454.9Z" fill="#9e9e9e"/><path d="M571.2 454.9C570.6 458.6 570.2 462.1 569.6 465.8C569.1 469.4 568.6 472.9 568.0 476.5C567.4 480.2 566.7 483.8 565.8 487.5C564.9 491.1 563.9 494.8 562.6 498.4C561.3 502.1 559.8 505.7 558.0 509.2C556.1 512.7 553.9 516.0 551.5 519.2C549.2 522.5 546.5 525.6 543.8 528.6C541.0 531.6 538.0 534.7 534.9 537.4C531.7 540.2 528.3 542.9 524.6 545.3C521.0 547.7 517.1 549.9 513.1 551.6C509.1 553.4 504.8 554.9 500.5 555.8C496.2 556.8 491.6 557.4 487.2 557.4C482.8 557.4 478.2 556.7 473.9 555.6C469.7 554.6 465.4 552.8 461.5 550.8C457.6 548.9 453.8 546.5 450.3 544.0C446.8 541.5 443.5 538.8 440.3 536.1C437.2 533.4 434.2 530.6 431.2 527.9C428.2 525.2 425.3 522.6 422.1 520.0C419.0 517.4 415.8 514.9 412.4 512.3C409.1 509.6 405.6 507.0 402.2 504.0C398.8 501.0 395.3 497.8 392.0 494.3C388.8 490.8 385.5 487.0 382.7 482.9C379.9 478.8 377.3 474.3 375.3 469.6C373.3 465.0 371.7 459.9 370.7 454.9C369.7 449.9 369.2 444.6 369.1 439.4C369.0 434.1 369.2 428.7 369.9 423.5C370.7 418.2 371.8 412.9 373.4 407.7C374.9 402.6 376.9 397.5 379.3 392.6C381.7 387.8 384.6 383.0 387.8 378.6C391.0 374.2 394.5 369.9 398.5 366.2C402.4 362.4 406.7 358.9 411.3 355.9C415.8 353.0 420.7 350.5 425.7 348.3C430.6 346.2 435.8 344.6 441.0 343.3C446.1 342.0 451.4 341.2 456.6 340.6C461.7 340.0 466.9 339.8 472.0 339.8C477.1 339.7 482.2 340.0 487.2 340.4C492.2 340.8 497.1 341.3 502.0 342.1C507.0 342.9 511.8 343.8 516.6 345.1C521.4 346.4 526.2 347.9 530.7 349.8C535.3 351.7 539.8 353.9 544.0 356.5C548.2 359.1 552.3 362.0 555.9 365.4C559.5 368.7 562.9 372.4 565.7 376.4C568.4 380.4 570.7 384.9 572.5 389.5C574.2 394.0 575.2 398.9 576.0 403.7C576.7 408.4 576.8 413.2 576.7 417.8C576.6 422.4 576.0 427.0 575.4 431.3C574.9 435.5 574.0 439.6 573.3 443.6C572.6 447.5 571.8 451.2 571.2 454.9Z" fill="#a3a3a3"/><path d="M569.7 454.9C569.1 458.5 568.6 462.0 568.0 465.5C567.4 469.1 566.8 472.5 566.1 476.0C565.3 479.5 564.5 483.0 563.5 486.5C562.6 490.0 561.5 493.5 560.1 497.0C558.7 500.4 557.2 503.9 555.3 507.2C553.5 510.5 551.4 513.7 549.1 516.8C546.8 519.9 544.3 522.9 541.6 525.8C539.0 528.8 536.2 531.7 533.1 534.5C530.1 537.2 526.9 539.9 523.4 542.2C519.9 544.6 516.2 546.8 512.3 548.6C508.4 550.4 504.3 551.9 500.1 553.0C495.9 554.0 491.5 554.6 487.2 554.6C482.9 554.7 478.5 554.1 474.3 553.1C470.1 552.0 466.0 550.3 462.1 548.5C458.3 546.6 454.6 544.2 451.2 541.8C447.7 539.4 444.6 536.8 441.4 534.1C438.3 531.5 435.5 528.8 432.5 526.2C429.5 523.6 426.6 521.1 423.6 518.5C420.5 516.0 417.3 513.7 414.0 511.1C410.7 508.5 407.2 506.0 403.8 503.1C400.4 500.1 396.9 497.1 393.6 493.7C390.4 490.2 387.1 486.5 384.4 482.5C381.6 478.4 378.9 474.0 377.0 469.4C375.0 464.8 373.5 459.9 372.4 454.9C371.4 449.9 371.0 444.7 370.9 439.6C370.8 434.4 371.2 429.2 371.9 424.0C372.7 418.8 373.9 413.6 375.5 408.6C377.0 403.6 379.1 398.6 381.5 393.9C383.9 389.1 386.7 384.5 389.9 380.2C393.0 375.9 396.6 371.8 400.4 368.1C404.2 364.4 408.5 361.0 412.9 358.1C417.4 355.2 422.2 352.7 427.0 350.6C431.8 348.6 436.9 346.9 441.9 345.6C447.0 344.3 452.1 343.5 457.2 342.9C462.3 342.3 467.3 342.1 472.3 342.0C477.3 342.0 482.3 342.2 487.2 342.6C492.1 343.1 496.9 343.6 501.7 344.4C506.5 345.2 511.3 346.2 516.0 347.5C520.6 348.8 525.3 350.4 529.7 352.3C534.1 354.2 538.5 356.4 542.6 359.0C546.6 361.6 550.6 364.5 554.1 367.7C557.6 371.0 560.9 374.6 563.6 378.5C566.3 382.4 568.5 386.8 570.2 391.2C571.9 395.6 573.0 400.4 573.8 404.9C574.5 409.5 574.7 414.2 574.7 418.7C574.7 423.1 574.2 427.5 573.7 431.7C573.2 435.9 572.4 439.9 571.7 443.8C571.0 447.6 570.3 451.3 569.7 454.9Z" fill="#a9a9a9"/><path d="M568.2 454.9C567.6 458.5 567.0 461.9 566.3 465.3C565.7 468.8 565.0 472.1 564.1 475.5C563.3 478.9 562.4 482.2 561.3 485.6C560.2 488.9 559.0 492.3 557.6 495.5C556.1 498.8 554.6 502.1 552.7 505.2C550.9 508.3 548.8 511.3 546.6 514.3C544.4 517.3 542.0 520.1 539.5 523.0C536.9 525.9 534.3 528.8 531.4 531.5C528.5 534.2 525.4 536.8 522.1 539.2C518.8 541.6 515.2 543.8 511.5 545.6C507.8 547.4 503.8 549.0 499.7 550.1C495.7 551.1 491.4 551.8 487.2 551.9C483.0 552.0 478.7 551.4 474.6 550.5C470.5 549.5 466.5 547.9 462.8 546.1C459.0 544.3 455.5 542.0 452.1 539.7C448.7 537.4 445.6 534.8 442.6 532.2C439.5 529.7 436.7 527.1 433.8 524.5C430.8 522.0 428.0 519.6 425.0 517.1C421.9 514.7 418.7 512.4 415.5 509.9C412.2 507.4 408.7 505.0 405.4 502.1C402.0 499.3 398.5 496.3 395.3 493.0C392.0 489.6 388.8 486.0 386.0 482.0C383.3 478.0 380.6 473.7 378.7 469.2C376.7 464.7 375.2 459.8 374.2 454.9C373.2 450.0 372.8 444.9 372.8 439.8C372.7 434.8 373.1 429.6 373.9 424.5C374.7 419.5 375.9 414.4 377.5 409.5C379.2 404.6 381.2 399.7 383.6 395.1C386.0 390.5 388.9 386.0 392.0 381.8C395.1 377.7 398.6 373.6 402.3 370.0C406.1 366.5 410.3 363.1 414.6 360.3C418.9 357.4 423.6 355.0 428.3 352.9C433.0 350.9 438.0 349.3 442.9 348.0C447.8 346.7 452.8 345.8 457.8 345.2C462.8 344.6 467.7 344.3 472.6 344.3C477.5 344.2 482.4 344.5 487.2 344.9C492.0 345.3 496.8 345.9 501.4 346.7C506.1 347.6 510.8 348.6 515.3 349.9C519.9 351.3 524.4 352.9 528.7 354.8C533.0 356.7 537.2 358.9 541.1 361.5C545.1 364.0 548.9 366.9 552.3 370.1C555.6 373.3 558.8 376.8 561.4 380.7C564.1 384.5 566.3 388.7 568.0 392.9C569.6 397.2 570.8 401.8 571.6 406.2C572.3 410.6 572.6 415.2 572.7 419.5C572.7 423.8 572.3 428.1 571.9 432.2C571.5 436.3 570.8 440.2 570.1 444.0C569.5 447.8 568.8 451.3 568.2 454.9Z" fill="#aeaeae"/><path d="M567.5 454.9C566.9 458.4 566.4 461.8 565.7 465.2C565.0 468.6 564.3 472.0 563.5 475.3C562.7 478.7 561.8 482.0 560.7 485.3C559.6 488.6 558.3 491.9 556.9 495.2C555.5 498.4 553.9 501.6 552.1 504.7C550.3 507.8 548.2 510.7 546.0 513.7C543.8 516.6 541.4 519.5 538.9 522.3C536.4 525.1 533.8 528.0 531.0 530.7C528.1 533.4 525.1 536.0 521.8 538.4C518.5 540.7 515.0 543.0 511.3 544.8C507.6 546.5 503.6 548.1 499.6 549.1C495.6 550.2 491.3 550.9 487.2 550.9C483.1 550.9 478.8 550.4 474.8 549.4C470.7 548.3 466.8 546.7 463.1 544.8C459.4 543.0 455.9 540.7 452.6 538.4C449.3 536.0 446.3 533.4 443.3 530.9C440.4 528.3 437.7 525.7 434.8 523.2C432.0 520.6 429.3 518.2 426.3 515.8C423.3 513.4 420.2 511.2 417.0 508.7C413.9 506.3 410.5 503.9 407.2 501.1C403.9 498.3 400.4 495.4 397.3 492.2C394.1 488.9 390.9 485.3 388.2 481.4C385.4 477.6 382.8 473.3 380.9 468.9C378.9 464.5 377.4 459.7 376.4 454.9C375.5 450.1 375.1 445.1 375.0 440.1C374.9 435.2 375.2 430.1 376.0 425.1C376.7 420.1 377.9 415.1 379.4 410.3C381.0 405.4 383.0 400.6 385.3 396.1C387.6 391.5 390.4 387.1 393.5 383.0C396.5 378.9 400.0 374.9 403.7 371.4C407.4 367.9 411.5 364.6 415.8 361.8C420.1 359.1 424.7 356.7 429.4 354.8C434.0 352.8 438.9 351.3 443.8 350.1C448.6 348.9 453.6 348.1 458.4 347.6C463.3 347.0 468.2 346.9 473.0 346.9C477.8 346.9 482.5 347.2 487.2 347.6C491.9 348.1 496.5 348.7 501.1 349.5C505.6 350.4 510.2 351.4 514.6 352.7C519.0 354.1 523.4 355.6 527.6 357.5C531.7 359.4 535.9 361.5 539.7 364.0C543.5 366.5 547.2 369.3 550.5 372.4C553.8 375.5 556.9 378.9 559.5 382.6C562.1 386.3 564.3 390.4 566.0 394.5C567.7 398.6 568.8 403.0 569.7 407.3C570.5 411.6 570.9 416.0 571.0 420.2C571.2 424.4 570.9 428.6 570.6 432.5C570.3 436.5 569.7 440.4 569.2 444.1C568.6 447.8 568.0 451.4 567.5 454.9Z" fill="#b3b3b3"/><path d="M566.7 454.9C566.2 458.4 565.7 461.8 565.1 465.1C564.4 468.5 563.7 471.9 562.9 475.2C562.1 478.5 561.1 481.8 560.0 485.1C558.9 488.3 557.7 491.6 556.3 494.8C554.8 498.0 553.2 501.1 551.4 504.2C549.6 507.2 547.5 510.2 545.4 513.1C543.2 516.0 540.9 518.8 538.4 521.6C535.9 524.4 533.3 527.3 530.5 529.9C527.7 532.6 524.7 535.2 521.4 537.6C518.2 539.9 514.7 542.1 511.0 543.9C507.4 545.7 503.5 547.2 499.5 548.2C495.5 549.2 491.3 549.9 487.2 549.9C483.1 549.9 478.9 549.3 474.9 548.3C470.9 547.2 467.0 545.5 463.4 543.6C459.8 541.8 456.4 539.4 453.2 537.0C450.0 534.7 447.0 532.0 444.1 529.5C441.3 526.9 438.6 524.3 435.9 521.8C433.1 519.3 430.5 516.8 427.6 514.5C424.7 512.1 421.7 509.9 418.6 507.5C415.5 505.1 412.2 502.8 409.0 500.1C405.7 497.4 402.3 494.5 399.2 491.3C396.1 488.1 393.0 484.7 390.3 480.9C387.6 477.1 385.0 472.9 383.1 468.6C381.2 464.3 379.7 459.6 378.7 454.9C377.7 450.2 377.3 445.3 377.2 440.4C377.1 435.5 377.3 430.5 378.0 425.6C378.7 420.7 379.8 415.8 381.3 411.0C382.8 406.3 384.7 401.5 387.0 397.0C389.3 392.6 391.9 388.2 395.0 384.1C398.0 380.1 401.3 376.2 405.0 372.7C408.7 369.2 412.7 366.1 417.0 363.4C421.2 360.7 425.8 358.4 430.4 356.6C435.0 354.7 439.9 353.3 444.7 352.2C449.4 351.1 454.3 350.4 459.1 350.0C463.9 349.5 468.6 349.4 473.3 349.5C478.0 349.6 482.6 349.9 487.2 350.4C491.8 350.9 496.3 351.5 500.7 352.3C505.1 353.2 509.5 354.2 513.8 355.5C518.1 356.8 522.4 358.4 526.4 360.2C530.5 362.0 534.5 364.1 538.2 366.5C541.9 369.0 545.5 371.7 548.8 374.7C552.0 377.7 555.0 381.0 557.6 384.5C560.1 388.1 562.3 392.0 564.0 396.0C565.7 400.0 566.9 404.2 567.8 408.3C568.7 412.5 569.2 416.7 569.4 420.8C569.7 424.9 569.5 429.0 569.3 432.9C569.1 436.8 568.6 440.6 568.2 444.2C567.8 447.9 567.2 451.4 566.7 454.9Z" fill="#b9b9b9"/><path d="M566.0 454.9C565.5 458.3 565.0 461.7 564.4 465.1C563.8 468.4 563.1 471.7 562.3 475.0C561.4 478.3 560.5 481.6 559.4 484.8C558.3 488.0 557.1 491.3 555.6 494.4C554.2 497.5 552.6 500.7 550.8 503.7C549.0 506.7 546.9 509.6 544.7 512.4C542.6 515.3 540.3 518.1 537.8 520.9C535.4 523.7 532.9 526.5 530.1 529.2C527.3 531.8 524.3 534.4 521.1 536.7C517.9 539.0 514.4 541.3 510.8 543.0C507.2 544.8 503.3 546.3 499.4 547.3C495.4 548.3 491.3 548.9 487.2 548.9C483.1 548.9 479.0 548.2 475.1 547.2C471.1 546.1 467.3 544.3 463.7 542.4C460.2 540.5 456.9 538.1 453.7 535.7C450.6 533.3 447.7 530.7 444.9 528.1C442.1 525.5 439.6 522.9 437.0 520.4C434.3 517.9 431.7 515.5 429.0 513.1C426.2 510.8 423.2 508.7 420.2 506.3C417.1 504.0 413.9 501.7 410.7 499.0C407.6 496.4 404.3 493.6 401.2 490.5C398.2 487.4 395.1 484.0 392.4 480.3C389.8 476.6 387.2 472.5 385.3 468.3C383.4 464.1 381.9 459.5 380.9 454.9C380.0 450.3 379.5 445.5 379.4 440.7C379.2 435.9 379.5 431.0 380.1 426.2C380.7 421.4 381.7 416.5 383.2 411.8C384.6 407.1 386.4 402.4 388.7 398.0C390.9 393.6 393.5 389.3 396.4 385.3C399.4 381.3 402.7 377.4 406.3 374.0C409.9 370.6 414.0 367.5 418.2 364.9C422.4 362.3 426.9 360.2 431.5 358.4C436.0 356.6 440.8 355.3 445.5 354.3C450.2 353.3 455.0 352.7 459.7 352.4C464.4 352.0 469.1 352.0 473.7 352.1C478.3 352.3 482.8 352.6 487.2 353.1C491.6 353.7 496.0 354.3 500.3 355.1C504.6 356.0 508.9 357.0 513.1 358.3C517.2 359.6 521.4 361.1 525.3 362.9C529.3 364.7 533.1 366.7 536.7 369.1C540.4 371.4 543.9 374.1 547.0 377.0C550.2 379.9 553.1 383.1 555.6 386.5C558.1 389.9 560.3 393.7 562.0 397.5C563.7 401.3 565.0 405.4 566.0 409.4C566.9 413.4 567.5 417.5 567.8 421.5C568.2 425.5 568.2 429.4 568.1 433.2C567.9 437.0 567.6 440.8 567.2 444.4C566.9 448.0 566.4 451.5 566.0 454.9Z" fill="#bfbfbf"/><path d="M565.2 454.9C564.8 458.3 564.4 461.7 563.8 465.0C563.2 468.3 562.5 471.6 561.7 474.9C560.8 478.1 559.9 481.4 558.8 484.5C557.7 487.7 556.4 490.9 555.0 494.0C553.5 497.1 551.9 500.2 550.1 503.2C548.3 506.1 546.3 509.0 544.1 511.8C542.0 514.7 539.7 517.4 537.3 520.2C534.9 522.9 532.4 525.8 529.6 528.4C526.9 531.0 523.9 533.6 520.8 535.9C517.6 538.2 514.2 540.4 510.6 542.1C507.0 543.9 503.1 545.4 499.2 546.4C495.3 547.3 491.2 547.9 487.2 547.9C483.2 547.9 479.1 547.2 475.2 546.1C471.3 544.9 467.6 543.1 464.1 541.2C460.6 539.3 457.3 536.8 454.3 534.4C451.2 532.0 448.4 529.3 445.7 526.7C443.0 524.1 440.6 521.5 438.0 519.0C435.4 516.5 433.0 514.1 430.3 511.8C427.6 509.5 424.7 507.4 421.7 505.1C418.8 502.8 415.6 500.6 412.5 498.0C409.4 495.4 406.2 492.7 403.2 489.7C400.2 486.7 397.1 483.3 394.5 479.7C391.9 476.1 389.4 472.2 387.5 468.0C385.6 463.9 384.2 459.4 383.2 454.9C382.2 450.4 381.7 445.7 381.6 441.0C381.4 436.3 381.6 431.5 382.1 426.8C382.7 422.0 383.7 417.2 385.1 412.6C386.4 408.0 388.2 403.3 390.3 399.0C392.5 394.6 395.0 390.3 397.9 386.4C400.8 382.5 404.1 378.7 407.7 375.4C411.2 372.0 415.2 369.0 419.4 366.5C423.5 364.0 428.0 361.9 432.5 360.2C437.0 358.6 441.8 357.3 446.4 356.4C451.0 355.5 455.8 355.0 460.4 354.7C465.0 354.5 469.5 354.6 474.0 354.8C478.5 354.9 482.9 355.4 487.2 355.9C491.5 356.4 495.8 357.1 500.0 357.9C504.2 358.8 508.3 359.8 512.3 361.1C516.4 362.4 520.4 363.8 524.2 365.6C528.0 367.4 531.8 369.3 535.3 371.6C538.8 373.9 542.2 376.4 545.3 379.2C548.3 382.0 551.2 385.1 553.7 388.4C556.1 391.7 558.3 395.4 560.0 399.0C561.7 402.7 563.1 406.6 564.1 410.5C565.1 414.4 565.8 418.3 566.2 422.2C566.7 426.0 566.8 429.9 566.8 433.6C566.8 437.3 566.5 440.9 566.2 444.5C566.0 448.0 565.6 451.5 565.2 454.9Z" fill="#c4c4c4"/><path d="M564.2 454.9C563.9 458.3 563.6 461.6 563.0 464.9C562.5 468.2 561.8 471.4 561.0 474.7C560.2 477.9 559.2 481.1 558.1 484.3C557.0 487.4 555.7 490.5 554.2 493.6C552.7 496.6 551.1 499.6 549.3 502.5C547.5 505.4 545.4 508.2 543.3 511.0C541.2 513.8 538.9 516.5 536.5 519.2C534.1 521.9 531.7 524.6 528.9 527.2C526.2 529.8 523.3 532.3 520.2 534.5C517.1 536.8 513.7 538.9 510.2 540.6C506.6 542.2 502.8 543.7 499.0 544.6C495.2 545.5 491.1 546.0 487.2 545.9C483.3 545.8 479.2 545.0 475.5 543.8C471.7 542.6 468.1 540.8 464.7 538.7C461.4 536.7 458.3 534.2 455.4 531.8C452.5 529.3 449.9 526.5 447.3 523.9C444.8 521.3 442.6 518.7 440.2 516.2C437.8 513.7 435.5 511.4 433.0 509.1C430.5 506.8 427.8 504.8 425.0 502.6C422.3 500.4 419.3 498.2 416.4 495.8C413.5 493.3 410.5 490.7 407.7 487.8C404.8 484.9 402.0 481.8 399.5 478.4C397.0 475.0 394.6 471.2 392.8 467.3C391.0 463.4 389.6 459.2 388.5 454.9C387.5 450.6 387.0 446.2 386.7 441.7C386.3 437.2 386.3 432.6 386.7 428.0C387.1 423.4 387.8 418.7 388.9 414.2C390.1 409.7 391.6 405.1 393.5 400.8C395.4 396.5 397.8 392.2 400.4 388.3C403.1 384.4 406.2 380.7 409.7 377.4C413.1 374.1 416.9 371.1 420.9 368.6C425.0 366.0 429.3 364.0 433.7 362.3C438.1 360.6 442.7 359.4 447.3 358.5C451.8 357.6 456.4 357.1 460.9 356.8C465.4 356.6 469.9 356.7 474.3 356.9C478.7 357.1 483.0 357.6 487.2 358.2C491.4 358.9 495.6 359.6 499.6 360.7C503.6 361.7 507.6 363.0 511.4 364.4C515.3 365.9 519.0 367.6 522.6 369.5C526.1 371.5 529.6 373.6 532.8 376.0C536.0 378.3 539.1 380.9 541.9 383.6C544.7 386.4 547.3 389.3 549.7 392.4C552.0 395.5 554.0 398.9 555.8 402.3C557.5 405.7 559.0 409.2 560.2 412.8C561.4 416.3 562.3 419.9 563.0 423.5C563.7 427.1 564.1 430.7 564.4 434.2C564.6 437.8 564.7 441.3 564.7 444.7C564.6 448.1 564.5 451.5 564.2 454.9Z" fill="#cbcbcb"/><path d="M563.2 454.9C563.1 458.2 562.8 461.5 562.3 464.8C561.8 468.1 561.2 471.3 560.4 474.5C559.5 477.7 558.6 480.9 557.4 484.0C556.2 487.1 554.9 490.2 553.4 493.1C551.9 496.1 550.3 499.1 548.4 501.9C546.6 504.7 544.6 507.5 542.5 510.2C540.4 512.9 538.1 515.6 535.8 518.2C533.4 520.8 531.0 523.5 528.3 526.0C525.6 528.5 522.7 531.0 519.6 533.2C516.5 535.3 513.2 537.4 509.7 539.0C506.3 540.6 502.5 542.0 498.8 542.8C495.0 543.6 491.0 544.1 487.2 543.9C483.4 543.7 479.4 542.9 475.8 541.6C472.2 540.3 468.6 538.4 465.4 536.3C462.2 534.2 459.2 531.6 456.5 529.1C453.7 526.6 451.3 523.8 448.9 521.2C446.6 518.5 444.5 515.8 442.3 513.4C440.1 510.9 438.0 508.6 435.7 506.4C433.4 504.2 430.9 502.2 428.3 500.1C425.8 497.9 423.0 495.9 420.3 493.5C417.6 491.2 414.8 488.7 412.2 486.0C409.5 483.2 406.8 480.3 404.5 477.1C402.1 473.8 399.8 470.3 398.1 466.6C396.3 462.9 394.9 459.0 393.9 454.9C392.8 450.8 392.2 446.6 391.7 442.3C391.3 438.0 391.1 433.6 391.3 429.2C391.5 424.8 391.9 420.2 392.8 415.8C393.7 411.4 395.0 406.9 396.7 402.6C398.4 398.4 400.5 394.1 403.0 390.3C405.5 386.4 408.4 382.6 411.7 379.4C414.9 376.1 418.6 373.1 422.5 370.6C426.4 368.1 430.7 366.0 434.9 364.3C439.2 362.7 443.7 361.4 448.1 360.5C452.5 359.6 457.1 359.1 461.5 358.9C465.9 358.6 470.3 358.8 474.6 359.1C478.9 359.3 483.1 359.8 487.2 360.6C491.3 361.3 495.4 362.2 499.2 363.4C503.1 364.6 506.9 366.1 510.5 367.8C514.2 369.5 517.6 371.4 520.9 373.5C524.2 375.6 527.3 377.9 530.3 380.3C533.2 382.7 536.0 385.3 538.5 388.0C541.1 390.7 543.5 393.5 545.7 396.4C547.8 399.4 549.8 402.4 551.6 405.5C553.4 408.6 554.9 411.8 556.3 415.0C557.6 418.3 558.7 421.6 559.7 424.9C560.6 428.2 561.4 431.5 561.9 434.9C562.5 438.2 562.9 441.6 563.1 444.9C563.3 448.2 563.3 451.6 563.2 454.9Z" fill="#d1d1d1"/><path d="M562.2 454.9C562.2 458.2 562.0 461.5 561.6 464.7C561.2 467.9 560.5 471.2 559.7 474.3C558.9 477.5 557.9 480.6 556.7 483.7C555.5 486.8 554.2 489.8 552.7 492.7C551.1 495.6 549.5 498.5 547.6 501.3C545.8 504.0 543.7 506.7 541.6 509.3C539.5 512.0 537.3 514.6 535.0 517.2C532.7 519.8 530.2 522.4 527.6 524.9C524.9 527.3 522.1 529.7 519.1 531.8C516.0 533.9 512.7 535.9 509.3 537.4C505.9 539.0 502.2 540.3 498.5 541.0C494.9 541.8 490.9 542.2 487.2 541.9C483.5 541.6 479.6 540.7 476.1 539.4C472.6 538.0 469.1 536.0 466.1 533.8C463.0 531.7 460.1 529.0 457.6 526.4C455.0 523.9 452.7 521.0 450.6 518.4C448.4 515.7 446.5 513.0 444.5 510.6C442.5 508.1 440.6 505.9 438.4 503.7C436.3 501.5 434.0 499.6 431.6 497.5C429.3 495.5 426.7 493.5 424.2 491.3C421.7 489.0 419.1 486.7 416.6 484.1C414.2 481.5 411.6 478.8 409.4 475.7C407.2 472.7 405.0 469.4 403.3 465.9C401.6 462.5 400.3 458.7 399.2 454.9C398.1 451.1 397.4 447.1 396.8 443.0C396.3 438.9 395.8 434.7 395.8 430.4C395.8 426.2 396.0 421.7 396.7 417.4C397.4 413.1 398.4 408.7 399.9 404.5C401.3 400.3 403.2 396.1 405.5 392.2C407.8 388.4 410.6 384.6 413.7 381.4C416.8 378.1 420.4 375.2 424.1 372.7C427.8 370.2 432.0 368.1 436.1 366.4C440.3 364.7 444.6 363.5 449.0 362.6C453.3 361.7 457.7 361.2 462.0 361.0C466.3 360.7 470.7 360.9 474.9 361.2C479.1 361.5 483.2 362.1 487.2 362.9C491.2 363.7 495.1 364.8 498.9 366.1C502.6 367.5 506.2 369.2 509.7 371.1C513.1 373.0 516.3 375.2 519.3 377.4C522.3 379.7 525.1 382.1 527.8 384.6C530.4 387.1 532.8 389.8 535.2 392.4C537.5 395.0 539.6 397.7 541.6 400.5C543.7 403.2 545.6 405.9 547.4 408.7C549.2 411.5 550.8 414.4 552.3 417.3C553.9 420.2 555.2 423.2 556.4 426.2C557.6 429.3 558.7 432.4 559.5 435.5C560.4 438.7 561.1 441.9 561.5 445.1C562.0 448.3 562.2 451.6 562.2 454.9Z" fill="#d7d7d7"/><path d="M558.7 454.9C558.7 458.0 558.5 461.1 558.1 464.2C557.7 467.3 557.1 470.4 556.4 473.4C555.6 476.5 554.7 479.5 553.5 482.4C552.4 485.3 551.1 488.2 549.7 491.0C548.3 493.8 546.6 496.5 544.9 499.2C543.1 501.8 541.2 504.3 539.2 506.9C537.2 509.4 535.0 511.9 532.8 514.3C530.6 516.8 528.2 519.3 525.7 521.6C523.1 523.9 520.4 526.2 517.5 528.1C514.6 530.1 511.5 531.9 508.2 533.4C505.0 534.8 501.5 536.0 498.0 536.7C494.5 537.3 490.7 537.7 487.2 537.4C483.7 537.1 480.0 536.2 476.7 534.9C473.3 533.5 470.1 531.5 467.2 529.5C464.3 527.4 461.7 524.8 459.3 522.3C456.9 519.8 454.8 517.1 452.8 514.5C450.7 512.0 449.0 509.4 447.2 507.1C445.3 504.7 443.6 502.6 441.6 500.5C439.6 498.4 437.5 496.7 435.3 494.7C433.1 492.8 430.8 490.9 428.5 488.8C426.2 486.7 423.7 484.6 421.4 482.1C419.1 479.7 416.8 477.1 414.7 474.3C412.7 471.5 410.6 468.4 409.1 465.2C407.5 462.0 406.2 458.5 405.2 454.9C404.2 451.3 403.5 447.6 402.9 443.8C402.4 440.0 402.0 436.0 401.9 432.1C401.9 428.1 402.1 423.9 402.7 419.9C403.3 415.9 404.2 411.7 405.6 407.8C406.9 403.9 408.7 399.9 410.9 396.3C413.0 392.8 415.7 389.3 418.6 386.3C421.6 383.3 425.0 380.7 428.6 378.5C432.2 376.3 436.1 374.6 440.0 373.2C444.0 371.9 448.1 371.0 452.2 370.3C456.2 369.7 460.3 369.5 464.3 369.5C468.3 369.5 472.2 369.8 476.1 370.2C479.9 370.6 483.6 371.2 487.2 371.9C490.8 372.6 494.4 373.4 497.8 374.5C501.2 375.6 504.5 376.9 507.7 378.4C510.9 379.8 513.9 381.5 516.9 383.3C519.8 385.1 522.5 387.1 525.2 389.1C527.8 391.2 530.3 393.4 532.6 395.7C534.9 398.0 537.1 400.4 539.2 402.9C541.2 405.4 543.1 408.0 544.9 410.7C546.6 413.3 548.2 416.0 549.7 418.8C551.1 421.6 552.4 424.5 553.5 427.4C554.6 430.4 555.6 433.3 556.4 436.4C557.1 439.4 557.7 442.5 558.1 445.6C558.5 448.7 558.7 451.8 558.7 454.9Z" fill="#dcdcdc"/><path d="M555.2 454.9C555.2 457.9 555.0 460.8 554.7 463.8C554.3 466.7 553.7 469.7 553.0 472.5C552.3 475.4 551.4 478.3 550.4 481.1C549.3 483.9 548.1 486.6 546.7 489.3C545.4 491.9 543.8 494.5 542.2 497.1C540.5 499.6 538.6 502.0 536.7 504.4C534.8 506.8 532.7 509.1 530.6 511.5C528.4 513.8 526.2 516.1 523.8 518.3C521.4 520.4 518.8 522.6 516.0 524.4C513.2 526.3 510.2 528.0 507.1 529.3C504.0 530.6 500.7 531.7 497.4 532.3C494.1 532.9 490.6 533.2 487.2 532.9C483.8 532.6 480.4 531.7 477.3 530.4C474.1 529.1 471.1 527.1 468.4 525.1C465.7 523.1 463.2 520.6 461.0 518.2C458.8 515.8 456.8 513.1 455.0 510.7C453.1 508.3 451.6 505.8 449.9 503.6C448.2 501.3 446.6 499.3 444.8 497.3C443.0 495.4 441.0 493.7 439.0 491.9C437.0 490.0 434.9 488.3 432.7 486.3C430.6 484.4 428.3 482.4 426.2 480.2C424.1 477.9 421.9 475.5 420.0 472.9C418.1 470.3 416.2 467.4 414.8 464.4C413.3 461.4 412.1 458.2 411.2 454.9C410.3 451.6 409.6 448.1 409.1 444.6C408.6 441.1 408.1 437.4 408.1 433.7C408.0 430.0 408.1 426.1 408.7 422.4C409.2 418.6 410.0 414.7 411.3 411.1C412.6 407.4 414.2 403.8 416.3 400.5C418.3 397.2 420.8 393.9 423.6 391.3C426.4 388.6 429.7 386.2 433.1 384.3C436.5 382.5 440.3 381.1 444.0 380.0C447.7 379.0 451.6 378.4 455.4 378.1C459.2 377.8 463.0 377.9 466.6 378.1C470.3 378.2 473.8 378.8 477.2 379.2C480.7 379.7 484.0 380.3 487.2 380.9C490.4 381.5 493.6 382.1 496.7 382.9C499.8 383.7 502.8 384.6 505.8 385.6C508.7 386.7 511.6 387.9 514.4 389.2C517.2 390.5 520.0 392.0 522.6 393.6C525.2 395.3 527.7 397.1 530.1 399.0C532.4 401.0 534.7 403.1 536.7 405.4C538.7 407.7 540.6 410.1 542.3 412.6C544.1 415.1 545.6 417.7 547.0 420.4C548.4 423.1 549.6 425.8 550.6 428.6C551.6 431.4 552.5 434.3 553.2 437.2C553.9 440.1 554.4 443.1 554.7 446.0C555.0 449.0 555.2 451.9 555.2 454.9Z" fill="#e1e1e1"/></g>
<g style="mix-blend-mode:lighten" filter="url(#b1_2)"><path d="M566.2 455.5L581.8 458.6M566.1 459.3L584.7 467.1M564.6 462.8L584.5 468.5M564.1 467.0L581.6 476.8M563.8 468.7L597.5 488.9M563.1 471.3L581.6 481.1M562.1 475.4L587.4 494.0M561.3 478.1L592.4 502.9M560.6 481.9L578.9 494.7M559.6 484.4L589.8 502.9M558.3 487.4L594.3 515.6M558.0 490.6L577.5 509.8M556.2 493.9L587.4 526.3M554.9 496.2L578.1 524.8M554.0 500.0L568.6 517.0M551.3 503.8L577.8 543.8M550.3 505.0L567.6 532.7M547.5 510.4L563.1 532.9M546.1 511.9L558.6 540.6M544.6 513.5L557.9 542.8M541.5 516.4L554.0 541.2M540.5 519.6L550.0 544.2M537.8 521.8L544.1 546.5M533.8 524.6L540.6 559.4M532.9 528.2L541.5 555.7M528.2 531.0L537.7 558.3M526.6 531.8L529.3 557.4M525.1 535.7L526.4 568.2M519.3 538.2L520.4 573.2M518.0 538.6L517.0 585.7M494.0 548.6L487.8 567.5M483.1 549.8L476.7 567.2M476.6 548.7L471.4 568.1M451.0 537.0L440.3 549.3M446.4 532.1L437.8 541.0M434.6 522.7L423.7 528.9M423.0 512.1L411.2 519.0M416.5 507.9L405.5 513.2M414.8 505.7L399.1 509.4M410.2 506.1L395.1 511.0M407.3 501.5L394.2 503.7M397.3 492.7L380.5 495.0M388.4 483.1L373.4 483.7M387.6 480.0L376.0 478.8M381.4 474.1L366.8 473.2M380.2 465.0L367.9 463.3M380.1 463.8L364.7 459.5M375.2 437.0L360.9 429.6M377.4 415.4L361.9 403.5M380.0 408.7L366.5 395.8M381.3 406.0L362.4 389.5M383.0 400.5L370.5 388.0M390.2 387.6L377.1 373.5M396.6 379.2L378.2 354.9M403.0 372.2L389.7 351.8M405.1 370.2L395.7 354.6M431.2 353.6L426.1 330.5M440.4 351.2L439.4 331.9M444.5 349.5L441.3 328.4M449.1 347.7L443.5 318.1M453.3 348.6L454.1 330.2M459.2 346.9L457.6 319.4M478.8 345.6L485.2 317.9M481.5 347.0L485.2 332.6M487.2 346.9L495.2 322.6M492.7 347.0L509.4 308.5M497.1 348.3L511.0 317.0M500.3 348.6L511.0 312.9M504.6 349.2L513.0 327.9M507.5 349.7L517.7 331.8M514.9 351.9L531.7 313.8M518.0 352.8L529.1 337.5M521.7 354.3L547.3 324.0M527.0 356.2L539.5 341.0M529.8 357.4L548.8 338.1M534.5 360.2L550.6 341.9M536.3 361.1L562.5 330.0M541.4 363.9L567.0 337.4M544.7 366.0L564.3 346.6M549.7 370.7L584.1 337.8M551.1 371.7L584.4 352.1M555.2 377.5L582.0 358.6M558.6 380.7L579.6 370.7M561.6 383.7L602.5 364.0M562.5 384.6L581.4 376.1M564.4 391.7L589.0 377.3M566.1 393.8L609.1 374.7M568.3 396.7L605.7 387.8M568.4 404.7L604.3 396.4M570.2 407.8L600.0 397.5M571.6 410.5L612.8 404.3M569.3 416.7L592.0 411.4M570.6 419.7L597.1 415.3M572.1 423.6L616.0 418.5M572.9 425.7L610.0 426.8M570.0 432.7L605.4 431.5M570.5 434.7L595.7 435.4M567.3 439.1L601.7 444.4M567.9 442.4L606.9 447.7M568.4 446.0L599.8 448.7M566.0 449.9L592.2 452.3M566.2 453.7L587.8 457.7" fill="none" stroke="#888888" stroke-width="3" stroke-linecap="round"/></g>
<g fill="#dbdbdb" style="mix-blend-mode:lighten" filter="url(#b6)"><path d="M416.5 434.2C421.8 429.6 432.5 428.4 440.0 428.0C447.5 427.6 458.3 423.3 461.5 431.8C464.7 440.3 458.0 467.2 459.0 479.0C460.0 490.8 465.0 494.9 467.4 502.8C469.8 510.7 475.3 523.5 473.3 526.5C471.3 529.5 462.5 524.6 455.6 520.6C448.7 516.6 438.9 509.7 432.0 502.8C425.1 495.9 418.0 486.9 414.0 479.0C410.0 471.1 407.6 463.0 408.0 455.5C408.4 448.0 411.2 438.8 416.5 434.2Z"/></g>
<g filter="url(#b1_2)"><path d="M421.6 416.2C425.3 414.9 435.1 413.2 443.8 408.8C452.4 404.3 463.5 396.2 473.3 389.5C483.2 382.9 496.5 372.8 502.9 368.8C509.3 364.9 510.3 366.4 511.8 365.9" fill="none" stroke="#cacaca" stroke-width="4.5" stroke-linecap="round"/><path d="M449.7 433.9C451.2 429.7 453.4 415.9 458.6 408.8C463.7 401.6 471.9 395.2 480.7 391.0C489.6 386.8 506.6 384.8 511.8 383.6" fill="none" stroke="#cacaca" stroke-width="4.5" stroke-linecap="round"/></g>
<g fill="#e6e6e6" style="mix-blend-mode:lighten" filter="url(#b3)"><path d="M518.0 390.0C526.6 391.1 539.0 394.2 546.0 400.0C553.0 405.8 557.2 416.7 560.0 425.0C562.8 433.3 563.7 439.8 563.0 450.0C562.3 460.2 558.8 477.2 556.0 486.0C553.2 494.8 549.8 497.7 546.0 503.0C542.2 508.3 539.8 512.7 533.0 518.0C526.2 523.3 512.7 531.3 505.0 535.0C497.3 538.7 491.3 542.3 487.0 540.0C482.7 537.7 482.3 527.2 479.0 521.0C475.7 514.8 470.3 510.0 467.0 503.0C463.7 496.0 460.5 487.0 459.0 479.0C457.5 471.0 458.2 461.2 458.0 455.0C457.8 448.8 457.4 447.0 458.0 442.0C458.6 437.0 459.0 430.5 461.5 425.0C464.0 419.5 467.5 414.2 473.0 409.0C478.5 403.8 487.1 396.7 494.6 393.5C502.1 390.3 509.4 388.9 518.0 390.0Z"/></g>
<g fill="#eaeaea" style="mix-blend-mode:lighten" filter="url(#b4)"><path d="M515.4 401.0C522.5 401.9 532.7 404.5 538.4 409.5C544.1 414.4 547.6 423.6 549.9 430.7C552.2 437.8 552.9 443.3 552.3 452.0C551.8 460.6 548.9 475.1 546.6 482.6C544.3 490.1 541.5 492.5 538.4 497.0C535.3 501.6 533.3 505.2 527.7 509.8C522.1 514.3 511.1 521.1 504.8 524.2C498.5 527.3 493.6 530.5 490.0 528.5C486.5 526.5 486.2 517.6 483.5 512.3C480.7 507.1 476.4 503.0 473.6 497.0C470.9 491.1 468.3 483.4 467.1 476.6C465.8 469.8 466.4 461.5 466.2 456.2C466.1 451.0 465.8 449.4 466.2 445.2C466.7 440.9 467.1 435.4 469.1 430.7C471.2 426.1 474.0 421.6 478.5 417.1C483.1 412.7 490.1 406.6 496.3 404.0C502.4 401.3 508.4 400.1 515.4 401.0Z"/></g>
<g fill="#f4f4f4" style="mix-blend-mode:lighten" filter="url(#b2)"><path d="M492.6 426.5C496.3 425.5 511.1 429.0 517.7 432.4C524.4 435.9 529.8 443.0 532.5 447.2C535.2 451.4 538.9 454.1 534.0 457.6C529.1 461.0 508.6 463.7 502.9 467.9C497.3 472.1 501.0 476.6 500.0 482.7C499.0 488.9 499.5 502.0 497.0 504.9C494.5 507.9 489.9 502.9 485.2 500.5C480.5 498.0 472.4 493.6 468.9 490.1C465.5 486.7 464.0 483.2 464.5 479.8C465.0 476.3 467.9 471.9 471.9 469.4C475.8 466.9 484.7 467.7 488.1 465.0C491.6 462.3 491.3 457.6 492.6 453.1C493.8 448.7 495.5 442.8 495.5 438.3C495.5 433.9 488.9 427.5 492.6 426.5Z"/></g>
<g fill="#9f9f9f" style="mix-blend-mode:lighten" filter="url(#b2)"><path d="M655.0 268.0C655.5 266.3 660.8 270.0 663.0 272.0C665.2 274.0 665.2 278.0 668.0 280.0C670.8 282.0 677.0 281.3 680.0 284.0C683.0 286.7 682.7 293.7 686.0 296.0C689.3 298.3 695.7 296.3 700.0 298.0C704.3 299.7 708.0 303.3 712.0 306.0C716.0 308.7 721.7 311.3 724.0 314.0C726.3 316.7 727.3 319.7 726.0 322.0C724.7 324.3 720.0 328.0 716.0 328.0C712.0 328.0 706.3 324.0 702.0 322.0C697.7 320.0 693.7 318.7 690.0 316.0C686.3 313.3 684.3 308.0 680.0 306.0C675.7 304.0 668.0 306.3 664.0 304.0C660.0 301.7 656.7 295.7 656.0 292.0C655.3 288.3 660.2 286.0 660.0 282.0C659.8 278.0 654.5 269.7 655.0 268.0Z"/></g>
<g fill="#aaaaaa" style="mix-blend-mode:lighten" filter="url(#b2)"><ellipse cx="669.4" cy="291.7" rx="10" ry="9"/></g>
<g fill="#b2b2b2" style="mix-blend-mode:lighten" filter="url(#b2)"><ellipse cx="697.6" cy="307.5" rx="10" ry="8"/></g>
<g fill="#aaaaaa" style="mix-blend-mode:lighten" filter="url(#b2)"><ellipse cx="716.7" cy="318.7" rx="7" ry="5.5"/></g>
<g fill="#9f9f9f" style="mix-blend-mode:lighten" filter="url(#b1_2)"><ellipse cx="750" cy="324.3" rx="2.5" ry="3.5"/></g>
<g fill="#b5b5b5" style="mix-blend-mode:lighten" filter="url(#b1_5)"><ellipse cx="629" cy="495.2" rx="5" ry="6.5" transform="rotate(20 629 495.2)"/></g>
<g fill="#9f9f9f" style="mix-blend-mode:lighten" filter="url(#b2)"><ellipse cx="629" cy="495" rx="8" ry="9"/></g>
<g fill="#b2b2b2" style="mix-blend-mode:lighten" filter="url(#b1_5)"><ellipse cx="680.7" cy="515.5" rx="11" ry="3.5" transform="rotate(-8 680.7 515.5)"/></g>
<g fill="#9f9f9f" style="mix-blend-mode:lighten" filter="url(#b2)"><ellipse cx="682" cy="515.5" rx="15" ry="5.5" transform="rotate(-8 682 515.5)"/></g>
<g fill="#9d9d9d" style="mix-blend-mode:lighten" filter="url(#b2)"><ellipse cx="653.7" cy="457" rx="5" ry="4"/></g>
<g fill="#848484" style="mix-blend-mode:lighten" filter="url(#b2_5)"><ellipse cx="748" cy="403" rx="9" ry="5"/></g>
<g fill="#9d9d9d" style="mix-blend-mode:lighten" filter="url(#b2)"><ellipse cx="743.7" cy="434.5" rx="11" ry="5" transform="rotate(-15 743.7 434.5)"/></g>
<g fill="#9d9d9d" style="mix-blend-mode:lighten" filter="url(#b3)"><ellipse cx="768.4" cy="476" rx="13" ry="10" transform="rotate(-30 768.4 476)"/></g>
<g fill="#9f9f9f" style="mix-blend-mode:lighten" filter="url(#b1_5)"><ellipse cx="665" cy="570.6" rx="5" ry="3" transform="rotate(-30 665 570.6)"/></g>
<g fill="#a1a1a1" style="mix-blend-mode:lighten" filter="url(#b1_5)"><ellipse cx="672.8" cy="578" rx="3.5" ry="5.5" transform="rotate(20 672.8 578)"/></g>
</g>
</g></g></g>
<rect x="979.5" y="101.7" width="728" height="727.6" fill="#fff"/>
<g transform="translate(875 0)"><g clip-path="url(#img1)"><g filter="url(#wvf)"><g filter="url(#disp)">
<rect x="80" y="78" width="780" height="776" fill="#999999"/>
<g fill="#a1a1a1" filter="url(#b60)"><ellipse cx="330" cy="640" rx="260" ry="220"/><ellipse cx="420" cy="430" rx="180" ry="170"/></g>
<g fill="#959595" filter="url(#b40)"><ellipse cx="775" cy="470" rx="90" ry="280"/><ellipse cx="640" cy="800" rx="190" ry="70"/></g>
<g fill="#949494" filter="url(#b20)"><path d="M150 60L150 380 L300 285 L420 230 L540 190 L680 150 L860 118 L860 60Z"/></g>
<g fill="#909090" filter="url(#b12)"><path d="M150 60L150 335 L285 247 L395 199 L505 162 L634 129 L760 108 L860 98 L860 60Z"/></g>
<g fill="#868686" filter="url(#b12)"><path d="M150 60L150 312 L260 240 L340 200 L420 168 L500 145 L580 128 L700 108 L780 96 L820 60 L860 60Z"/></g>
<g fill="#7f7f7f" filter="url(#b12)"><path d="M150 60L150 285 L248 221 L322 184.5 L395 155 L469 133 L542 118 L640 105 L700 60 L860 60Z"/></g>
<g id="clouds_wv">
<g style="mix-blend-mode:lighten" filter="url(#b2_5)"><path d="M599.2 454.9C598.3 459.9 597.9 464.5 597.5 469.4C597.1 474.3 597.1 479.2 596.8 484.3C596.5 489.3 596.4 494.6 595.8 499.9C595.1 505.1 594.4 510.6 592.9 515.9C591.5 521.2 589.7 526.7 587.1 531.6C584.6 536.5 581.4 541.3 577.7 545.4C574.0 549.6 569.7 553.2 565.2 556.5C560.7 559.8 555.8 562.7 550.8 565.1C545.9 567.5 540.6 569.5 535.3 571.1C530.1 572.6 524.6 573.8 519.3 574.5C513.9 575.3 508.4 575.6 503.1 575.7C497.8 575.8 492.4 575.6 487.2 574.9C482.0 574.2 476.8 573.2 471.8 571.7C466.9 570.1 462.0 568.1 457.5 565.8C452.9 563.5 448.6 560.9 444.4 558.1C440.3 555.4 436.4 552.4 432.6 549.5C428.8 546.5 425.2 543.4 421.6 540.4C418.0 537.3 414.5 534.3 410.8 531.3C407.2 528.2 403.4 525.3 399.5 522.2C395.7 519.0 391.7 515.8 387.8 512.3C383.9 508.8 379.8 505.0 376.1 500.9C372.4 496.8 368.6 492.3 365.4 487.5C362.2 482.7 359.1 477.5 356.8 472.1C354.4 466.6 352.5 460.8 351.2 454.9C349.9 449.0 349.2 442.8 348.8 436.7C348.5 430.5 348.6 424.2 349.2 417.9C349.8 411.6 350.9 405.3 352.4 399.1C354.0 392.9 356.1 386.6 358.6 380.7C361.2 374.7 364.3 368.8 367.8 363.3C371.3 357.7 375.3 352.3 379.7 347.4C384.1 342.5 389.1 337.9 394.3 333.9C399.5 329.8 405.3 326.2 411.1 323.1C416.9 319.9 423.1 317.3 429.3 315.0C435.5 312.8 441.9 311.0 448.3 309.6C454.7 308.1 461.2 307.1 467.6 306.3C474.1 305.6 480.6 305.2 487.2 304.9C493.8 304.6 500.3 304.4 507.0 304.6C513.7 304.7 520.4 304.8 527.2 305.6C534.0 306.3 540.9 307.3 547.6 309.0C554.3 310.8 561.1 312.9 567.5 315.9C573.8 318.8 580.1 322.4 585.5 326.7C591.0 331.0 596.3 336.1 600.3 341.8C604.4 347.4 607.7 354.1 609.9 360.8C612.1 367.5 613.1 374.9 613.6 381.9C614.0 389.0 613.4 396.2 612.5 403.0C611.6 409.7 609.9 416.3 608.3 422.4C606.8 428.5 604.7 434.2 603.2 439.6C601.6 445.0 600.1 449.9 599.2 454.9Z" fill="#a4a4a4"/><path d="M593.2 454.9C592.3 459.6 592.0 464.0 591.6 468.6C591.3 473.3 591.4 477.9 591.2 482.8C591.0 487.6 591.0 492.6 590.4 497.7C589.9 502.7 589.3 508.0 588.0 513.1C586.7 518.2 585.1 523.5 582.7 528.2C580.4 532.9 577.3 537.5 573.8 541.5C570.3 545.5 566.2 549.1 561.9 552.2C557.6 555.4 552.9 558.1 548.1 560.4C543.3 562.7 538.3 564.6 533.3 566.1C528.2 567.6 523.0 568.6 517.9 569.4C512.7 570.1 507.5 570.4 502.4 570.5C497.3 570.6 492.2 570.5 487.2 569.9C482.2 569.3 477.2 568.4 472.4 567.1C467.6 565.8 463.0 564.0 458.5 562.0C454.0 560.0 449.8 557.6 445.7 555.1C441.6 552.7 437.7 549.9 433.9 547.2C430.1 544.4 426.5 541.6 422.9 538.7C419.3 535.8 415.8 532.8 412.2 529.9C408.6 526.9 405.0 524.0 401.3 520.8C397.6 517.6 393.8 514.5 390.2 510.9C386.5 507.4 382.8 503.7 379.3 499.6C375.9 495.5 372.5 491.1 369.6 486.4C366.6 481.7 363.8 476.7 361.7 471.4C359.6 466.2 357.9 460.6 356.7 454.9C355.5 449.2 354.9 443.3 354.6 437.4C354.3 431.5 354.4 425.5 355.0 419.5C355.6 413.5 356.6 407.4 358.1 401.4C359.7 395.5 361.6 389.5 364.1 383.8C366.5 378.1 369.5 372.5 372.9 367.2C376.2 361.9 380.1 356.7 384.3 352.0C388.6 347.3 393.3 343.0 398.4 339.1C403.4 335.3 408.9 331.9 414.5 328.9C420.0 326.0 426.0 323.5 431.9 321.4C437.8 319.3 443.9 317.6 450.1 316.3C456.2 314.9 462.4 314.0 468.6 313.3C474.7 312.5 480.9 312.2 487.2 311.9C493.5 311.6 499.7 311.4 506.1 311.5C512.5 311.5 518.9 311.6 525.4 312.2C531.9 312.9 538.6 313.8 545.0 315.3C551.5 316.9 558.0 318.9 564.1 321.7C570.2 324.5 576.3 327.9 581.5 332.0C586.8 336.1 591.9 340.9 595.7 346.4C599.6 351.8 602.7 358.2 604.8 364.7C606.8 371.1 607.8 378.3 608.1 385.1C608.4 391.9 607.7 398.9 606.7 405.4C605.8 411.9 604.0 418.2 602.4 424.0C600.8 429.9 598.7 435.3 597.1 440.4C595.6 445.6 594.1 450.2 593.2 454.9Z" fill="#a8a8a8"/><path d="M587.2 454.9C586.3 459.3 586.0 463.5 585.8 467.9C585.5 472.3 585.6 476.7 585.5 481.3C585.4 485.8 585.5 490.6 585.1 495.5C584.7 500.3 584.2 505.4 583.1 510.3C582.0 515.2 580.5 520.2 578.3 524.8C576.1 529.4 573.2 533.8 569.9 537.6C566.6 541.5 562.6 544.9 558.6 547.9C554.5 550.9 550.0 553.5 545.4 555.7C540.8 557.9 536.0 559.7 531.2 561.1C526.4 562.5 521.4 563.5 516.5 564.2C511.6 564.9 506.6 565.2 501.7 565.3C496.9 565.5 492.0 565.4 487.2 564.9C482.4 564.4 477.6 563.7 473.0 562.6C468.4 561.5 463.9 559.9 459.5 558.2C455.2 556.4 451.0 554.3 446.9 552.1C442.9 549.9 439.0 547.5 435.2 544.9C431.4 542.4 427.8 539.7 424.2 537.0C420.6 534.2 417.2 531.4 413.7 528.4C410.1 525.5 406.6 522.6 403.1 519.4C399.6 516.3 396.0 513.1 392.6 509.5C389.2 506.0 385.7 502.3 382.6 498.2C379.4 494.2 376.3 489.9 373.7 485.3C371.0 480.7 368.6 475.8 366.6 470.8C364.7 465.7 363.2 460.3 362.2 454.9C361.2 449.5 360.6 443.8 360.4 438.2C360.1 432.6 360.3 426.8 360.8 421.0C361.4 415.3 362.4 409.5 363.9 403.8C365.3 398.1 367.2 392.4 369.5 387.0C371.9 381.5 374.7 376.1 377.9 371.1C381.2 366.0 384.8 361.1 388.9 356.6C393.0 352.2 397.6 348.0 402.4 344.4C407.2 340.7 412.5 337.5 417.8 334.7C423.2 332.0 428.8 329.7 434.5 327.7C440.2 325.7 446.0 324.2 451.8 323.0C457.7 321.7 463.6 320.9 469.5 320.2C475.4 319.5 481.2 319.2 487.2 318.9C493.2 318.6 499.1 318.4 505.2 318.4C511.2 318.4 517.4 318.4 523.6 318.9C529.8 319.5 536.2 320.2 542.4 321.6C548.6 323.1 554.9 324.9 560.8 327.5C566.6 330.1 572.5 333.3 577.5 337.2C582.6 341.1 587.5 345.7 591.1 351.0C594.8 356.2 597.8 362.4 599.7 368.6C601.6 374.8 602.4 381.7 602.6 388.3C602.8 394.8 602.0 401.6 601.0 407.8C599.9 414.0 598.1 420.1 596.4 425.6C594.8 431.2 592.6 436.3 591.1 441.2C589.6 446.1 588.1 450.5 587.2 454.9Z" fill="#acacac"/><path d="M584.2 454.9C583.3 459.2 583.0 463.2 582.6 467.5C582.2 471.7 582.2 475.9 581.9 480.3C581.6 484.7 581.5 489.2 580.9 493.7C580.4 498.3 579.7 503.0 578.5 507.6C577.3 512.2 575.8 517.0 573.7 521.2C571.5 525.5 568.8 529.7 565.7 533.4C562.6 537.1 558.9 540.4 555.1 543.4C551.3 546.4 547.1 549.0 542.9 551.3C538.6 553.6 534.1 555.6 529.6 557.2C525.0 558.8 520.3 560.0 515.6 561.0C510.9 561.9 506.1 562.5 501.4 562.8C496.7 563.1 491.9 563.2 487.2 562.9C482.5 562.6 477.8 562.0 473.2 561.0C468.7 559.9 464.2 558.5 459.9 556.8C455.6 555.2 451.4 553.1 447.4 551.0C443.4 548.8 439.6 546.4 435.8 543.9C432.1 541.4 428.5 538.7 425.0 535.9C421.5 533.2 418.1 530.3 414.7 527.4C411.3 524.4 407.9 521.5 404.6 518.3C401.3 515.1 398.0 511.8 394.8 508.2C391.6 504.7 388.5 501.0 385.7 497.0C382.8 493.0 380.1 488.7 377.7 484.2C375.3 479.8 373.2 475.0 371.5 470.1C369.8 465.2 368.6 460.1 367.7 454.9C366.8 449.7 366.4 444.3 366.3 439.0C366.2 433.6 366.4 428.1 367.1 422.7C367.7 417.3 368.7 411.8 370.2 406.4C371.6 401.1 373.5 395.7 375.8 390.6C378.0 385.4 380.7 380.3 383.8 375.6C386.9 370.8 390.4 366.1 394.2 361.9C398.1 357.7 402.4 353.8 406.9 350.3C411.4 346.8 416.4 343.7 421.4 341.0C426.5 338.3 431.8 336.0 437.1 334.0C442.5 332.1 448.0 330.5 453.5 329.2C459.0 327.9 464.7 327.0 470.3 326.3C475.9 325.6 481.5 325.2 487.2 324.9C492.9 324.6 498.6 324.4 504.4 324.3C510.2 324.3 516.1 324.3 522.0 324.9C528.0 325.4 534.1 326.1 540.0 327.5C545.9 328.9 551.9 330.7 557.5 333.2C563.1 335.7 568.6 338.7 573.5 342.5C578.3 346.2 583.0 350.6 586.5 355.6C590.1 360.5 593.0 366.4 594.9 372.3C596.8 378.2 597.6 384.8 597.9 391.0C598.2 397.2 597.6 403.6 596.7 409.5C595.8 415.5 594.2 421.3 592.7 426.6C591.2 432.0 589.3 436.9 587.9 441.6C586.5 446.4 585.1 450.6 584.2 454.9Z" fill="#b1b1b1"/></g>
<g fill="#aeaeae" style="mix-blend-mode:lighten" filter="url(#b3)"><path d="M188.0 516.0C189.9 508.2 193.5 497.5 199.6 494.4C205.6 491.4 214.8 496.6 224.4 497.7C234.1 498.9 249.0 499.7 257.6 501.1C266.1 502.4 268.9 506.0 275.8 506.0C282.7 506.0 289.6 501.1 299.0 501.1C308.4 501.1 323.8 503.5 332.1 506.0C340.4 508.5 341.8 514.3 348.7 516.0C355.6 517.6 366.6 517.4 373.5 516.0C380.4 514.6 383.2 505.5 390.1 507.7C397.0 509.9 406.7 524.0 414.9 529.2C423.2 534.5 431.8 536.4 439.8 539.2C447.8 541.9 457.2 541.4 463.0 545.8C468.8 550.2 474.3 558.2 474.6 565.7C474.9 573.1 469.1 584.2 464.6 590.5C460.2 596.9 453.6 599.6 448.1 603.8C442.6 607.9 441.2 613.2 431.5 615.4C421.8 617.6 400.6 619.8 390.1 617.0C379.6 614.3 376.8 604.6 368.6 598.8C360.3 593.0 349.2 587.8 340.4 582.2C331.6 576.7 323.8 568.2 315.5 565.7C307.3 563.2 296.2 564.6 290.7 567.3C285.2 570.1 284.9 578.4 282.4 582.2C279.9 586.1 281.3 589.7 275.8 590.5C270.3 591.4 257.8 588.9 249.3 587.2C240.7 585.6 231.3 582.5 224.4 580.6C217.5 578.7 209.2 579.5 207.9 575.6C206.5 571.7 217.5 561.8 216.1 557.4C214.8 553.0 204.3 551.9 199.6 549.1C194.9 546.3 189.9 546.3 188.0 540.8C186.0 535.3 186.0 523.7 188.0 516.0Z"/></g>
<g fill="#aeaeae" style="mix-blend-mode:lighten" filter="url(#b3)"><path d="M275.8 466.3C275.2 458.8 276.6 449.7 279.1 441.4C281.6 433.1 287.4 423.5 290.7 416.6C294.0 409.7 294.0 402.8 299.0 400.0C303.9 397.2 317.7 395.9 320.5 400.0C323.3 404.1 313.6 417.9 315.5 424.9C317.5 431.8 326.6 441.4 332.1 441.4C337.6 441.4 343.2 429.0 348.7 424.9C354.2 420.7 360.3 415.2 365.2 416.6C370.2 417.9 378.5 426.2 378.5 433.1C378.5 440.0 370.2 451.9 365.2 458.0C360.3 464.1 354.2 466.0 348.7 469.6C343.2 473.2 332.1 475.7 332.1 479.5C332.1 483.4 345.9 486.7 348.7 492.8C351.4 498.9 351.4 513.8 348.7 516.0C345.9 518.2 340.4 508.5 332.1 506.0C323.8 503.5 307.3 504.4 299.0 501.1C290.7 497.7 286.3 491.9 282.4 486.1C278.5 480.4 276.3 473.7 275.8 466.3Z"/></g>
<g fill="#acacac" style="mix-blend-mode:lighten" filter="url(#b3)"><path d="M348.7 469.6C352.0 463.5 363.0 460.2 368.6 463.0C374.1 465.7 375.5 477.3 381.8 486.1C388.2 495.0 399.8 508.2 406.7 516.0C413.6 523.7 421.8 528.9 423.2 532.5C424.6 536.1 420.5 540.3 414.9 537.5C409.4 534.7 398.4 521.2 390.1 516.0C381.8 510.7 372.1 508.8 365.2 506.0C358.3 503.3 351.4 505.5 348.7 499.4C345.9 493.3 345.4 475.7 348.7 469.6Z"/></g>
<g fill="#aeaeae" style="mix-blend-mode:lighten" filter="url(#b2_5)"><path d="M262.5 598.8C267.5 596.3 294.3 595.8 299.0 598.8C303.7 601.8 295.7 614.5 290.7 617.0C285.7 619.5 273.8 616.8 269.1 613.7C264.5 610.7 257.6 601.3 262.5 598.8Z"/></g>
<g fill="#acacac" style="mix-blend-mode:lighten" filter="url(#b2)"><path d="M343.7 625.3C345.9 622.6 356.4 622.8 358.6 625.3C360.8 627.8 359.2 637.5 357.0 640.2C354.7 643.0 347.6 644.4 345.4 641.9C343.2 639.4 341.5 628.1 343.7 625.3Z"/></g>
<g fill="#acacac" style="mix-blend-mode:lighten" filter="url(#b2)"><path d="M221.1 482.8C223.6 482.3 234.1 484.5 236.0 486.1C237.9 487.8 235.2 492.2 232.7 492.8C230.2 493.3 223.0 491.1 221.1 489.5C219.2 487.8 218.6 483.4 221.1 482.8Z"/></g>
<g fill="#acacac" style="mix-blend-mode:lighten" filter="url(#b4)"><path d="M296.0 347.6C297.0 341.8 307.7 324.5 312.5 318.6C317.4 312.8 323.2 310.4 325.0 312.4C326.7 314.5 326.0 324.2 322.9 331.1C319.8 338.0 310.8 351.1 306.3 353.8C301.8 356.6 294.9 353.5 296.0 347.6Z"/></g>
<g fill="#acacac" style="mix-blend-mode:lighten" filter="url(#b4)"><path d="M331.2 635.5C333.3 631.4 352.2 625.8 358.1 627.2C364.0 628.6 368.5 639.6 366.4 643.8C364.3 647.9 351.5 653.4 345.7 652.1C339.8 650.7 329.1 639.6 331.2 635.5Z"/></g>
<g fill="#acacac" style="mix-blend-mode:lighten" filter="url(#b3)"><path d="M469.9 631.4C472.0 626.9 483.1 621.7 486.5 623.1C490.0 624.5 492.7 635.2 490.6 639.6C488.6 644.1 477.5 651.4 474.1 650.0C470.6 648.6 467.9 635.8 469.9 631.4Z"/></g>
<g fill="#acacac" style="mix-blend-mode:lighten" filter="url(#b4)"><path d="M312.5 387.0C307.0 383.9 302.9 374.2 304.3 368.3C305.6 362.5 314.6 358.7 320.8 351.8C327.0 344.9 335.7 330.0 341.5 326.9C347.4 323.8 355.3 327.3 356.0 333.1C356.7 339.0 348.8 353.2 345.7 362.1C342.6 371.1 342.9 382.8 337.4 387.0C331.9 391.1 318.1 390.1 312.5 387.0Z"/></g>
<g style="mix-blend-mode:lighten" filter="url(#b3)"><path d="M563.0 528.0C560.5 532.0 555.2 544.5 548.0 552.0C540.8 559.5 529.7 567.3 520.0 573.0C510.3 578.7 500.0 583.0 490.0 586.0C480.0 589.0 469.7 591.0 460.0 591.0C450.3 591.0 436.7 586.8 432.0 586.0" fill="none" stroke="#aeaeae" stroke-width="26" stroke-linecap="round"/></g>
<g fill="#b9b9b9" style="mix-blend-mode:lighten" filter="url(#b3)"><path d="M202.9 502.7C207.0 498.3 221.7 499.1 232.7 499.4C243.7 499.7 259.5 502.2 269.1 504.4C278.8 506.6 281.6 510.7 290.7 512.7C299.8 514.6 315.5 512.7 323.8 516.0C332.1 519.3 333.5 527.6 340.4 532.5C347.3 537.5 352.8 543.0 365.2 545.8C377.7 548.6 403.9 546.9 414.9 549.1C426.0 551.3 423.5 556.3 431.5 559.0C439.5 561.8 457.5 560.4 463.0 565.7C468.5 570.9 471.3 585.6 464.6 590.5C458.0 595.5 437.0 595.5 423.2 595.5C409.4 595.5 394.2 594.1 381.8 590.5C369.4 586.9 358.3 578.4 348.7 574.0C339.0 569.5 333.5 565.7 323.8 564.0C314.2 562.4 300.4 565.1 290.7 564.0C281.0 562.9 274.1 559.3 265.8 557.4C257.6 555.5 248.7 555.2 241.0 552.4C233.3 549.7 225.0 545.2 219.4 540.8C213.9 536.4 210.6 532.3 207.9 525.9C205.1 519.6 198.7 507.1 202.9 502.7Z"/></g>
<g fill="#bdbdbd" style="mix-blend-mode:lighten" filter="url(#b3)"><path d="M285.7 469.6C287.4 465.7 294.0 462.7 299.0 463.0C303.9 463.2 310.6 466.3 315.5 471.2C320.5 476.2 324.9 485.3 328.8 492.8C332.7 500.2 338.2 509.3 338.7 516.0C339.3 522.6 335.4 532.0 332.1 532.5C328.8 533.1 324.4 523.7 318.9 519.3C313.3 514.9 303.9 511.6 299.0 506.0C294.0 500.5 291.2 492.2 289.0 486.1C286.8 480.1 284.1 473.4 285.7 469.6Z"/></g>
<g fill="#b7b7b7" style="mix-blend-mode:lighten" filter="url(#b3)"><path d="M216.1 574.0C220.3 573.4 238.2 575.9 249.3 577.3C260.3 578.7 278.0 580.0 282.4 582.2C286.8 584.4 281.3 589.7 275.8 590.5C270.3 591.4 257.8 588.9 249.3 587.2C240.7 585.6 229.9 582.8 224.4 580.6C218.9 578.4 212.0 574.5 216.1 574.0Z"/></g>
<g fill="#bdbdbd" style="mix-blend-mode:lighten" filter="url(#b3)"><path d="M287.7 395.3C290.5 391.5 300.1 387.0 304.3 389.1C308.4 391.1 312.9 402.5 312.5 407.7C312.2 412.9 306.3 419.4 302.2 420.1C298.0 420.8 290.1 416.0 287.7 411.8C285.3 407.7 284.9 399.1 287.7 395.3Z"/></g>
<g fill="#b9b9b9" style="mix-blend-mode:lighten" filter="url(#b3)"><path d="M302.2 376.6C303.2 374.9 308.7 373.5 310.5 374.6C312.2 375.6 313.6 381.1 312.5 382.8C311.5 384.6 306.0 385.9 304.3 384.9C302.5 383.9 301.2 378.4 302.2 376.6Z"/></g>
<g fill="#bdbdbd" style="mix-blend-mode:lighten" filter="url(#b3)"><path d="M411.8 544.3C417.1 539.9 430.5 540.9 437.8 541.9C445.1 542.9 453.0 544.9 455.6 550.2C458.2 555.5 456.2 566.9 453.2 573.8C450.2 580.7 444.3 589.6 437.8 591.6C431.3 593.6 419.5 589.6 414.2 585.7C408.9 581.8 406.3 574.9 405.9 568.0C405.5 561.1 406.5 548.6 411.8 544.3Z"/></g>
<g style="mix-blend-mode:lighten" filter="url(#b3)"><path d="M563.0 528.0C560.5 532.0 555.2 544.5 548.0 552.0C540.8 559.5 529.7 567.3 520.0 573.0C510.3 578.7 500.0 583.0 490.0 586.0C480.0 589.0 469.7 591.0 460.0 591.0C450.3 591.0 436.7 586.8 432.0 586.0" fill="none" stroke="#bdbdbd" stroke-width="13" stroke-linecap="round"/></g>
<g fill="#b9b9b9" style="mix-blend-mode:lighten" filter="url(#b3)"><ellipse cx="192" cy="512" rx="8" ry="22"/></g>
<g fill="#cacaca" style="mix-blend-mode:lighten" filter="url(#b3)"><path d="M204.5 509.3C205.9 505.2 217.0 504.9 224.4 504.4C231.9 503.8 241.8 505.5 249.3 506.0C256.7 506.6 263.6 506.0 269.1 507.7C274.7 509.3 277.4 514.0 282.4 516.0C287.4 517.9 292.6 518.5 299.0 519.3C305.3 520.1 315.3 518.7 320.5 520.9C325.8 523.1 329.3 528.4 330.4 532.5C331.6 536.7 330.7 542.5 327.1 545.8C323.5 549.1 315.3 549.9 308.9 552.4C302.6 554.9 295.7 560.7 289.0 560.7C282.4 560.7 275.8 554.4 269.1 552.4C262.5 550.5 255.9 551.0 249.3 549.1C242.6 547.2 234.9 544.1 229.4 540.8C223.9 537.5 220.3 534.5 216.1 529.2C212.0 524.0 203.2 513.5 204.5 509.3Z"/></g>
<g fill="#cacaca" style="mix-blend-mode:lighten" filter="url(#b3)"><path d="M320.5 549.1C324.7 547.4 338.5 551.0 348.7 552.4C358.9 553.8 371.3 557.1 381.8 557.4C392.3 557.7 406.1 552.7 411.6 554.1C417.2 555.5 416.3 561.5 414.9 565.7C413.6 569.8 409.4 576.4 403.3 578.9C397.3 581.4 387.6 582.2 378.5 580.6C369.4 578.9 357.8 572.0 348.7 569.0C339.6 565.9 328.5 565.7 323.8 562.4C319.1 559.0 316.4 550.8 320.5 549.1Z"/></g>
<g fill="#c6c6c6" style="mix-blend-mode:lighten" filter="url(#b3)"><path d="M283.5 449.1C287.0 445.7 298.7 441.5 304.3 445.0C309.8 448.4 313.6 460.8 316.7 469.8C319.8 478.8 323.6 492.3 322.9 498.8C322.2 505.4 317.0 511.2 312.5 509.2C308.1 507.1 300.8 493.6 296.0 486.4C291.1 479.1 285.6 471.9 283.5 465.7C281.5 459.5 280.1 452.6 283.5 449.1Z"/></g>
<g fill="#d4d4d4" style="mix-blend-mode:lighten" filter="url(#b3)"><ellipse cx="214.17139543552997" cy="511.241353601458" rx="10" ry="9"/></g>
<g fill="#d4d4d4" style="mix-blend-mode:lighten" filter="url(#b4)"><ellipse cx="240.05881622002238" cy="527.8093029035331" rx="21" ry="17"/></g>
<g fill="#d2d2d2" style="mix-blend-mode:lighten" filter="url(#b3)"><ellipse cx="271.12372116141324" cy="517.4543345897362" rx="13" ry="9"/></g>
<g fill="#d6d6d6" style="mix-blend-mode:lighten" filter="url(#b4)"><ellipse cx="287.6916704634884" cy="538.1642712173301" rx="21" ry="15"/></g>
<g fill="#d4d4d4" style="mix-blend-mode:lighten" filter="url(#b3)"><ellipse cx="322.89856273039806" cy="536.0932775545707" rx="7" ry="10"/></g>
<g fill="#d2d2d2" style="mix-blend-mode:lighten" filter="url(#b3)"><ellipse cx="349.82148034627016" cy="558.8742078449241" rx="22" ry="9"/></g>
<g fill="#d0d0d0" style="mix-blend-mode:lighten" filter="url(#b3)"><ellipse cx="397.45433458973616" cy="564.0516920018224" rx="18" ry="10"/></g>
<g style="mix-blend-mode:lighten" filter="url(#b2_5)"><path d="M581.2 454.9C580.3 459.1 579.9 463.0 579.4 467.0C578.9 471.1 578.7 475.1 578.2 479.3C577.8 483.5 577.5 487.7 576.8 492.0C576.0 496.3 575.2 500.7 574.0 505.0C572.7 509.3 571.1 513.7 569.0 517.7C567.0 521.7 564.3 525.6 561.4 529.1C558.5 532.7 555.1 535.9 551.6 538.8C548.1 541.8 544.3 544.5 540.3 547.0C536.4 549.4 532.2 551.5 528.0 553.3C523.7 555.1 519.2 556.6 514.8 557.8C510.3 558.9 505.7 559.8 501.1 560.3C496.5 560.8 491.8 561.1 487.2 560.9C482.6 560.7 477.9 560.2 473.5 559.3C469.0 558.4 464.5 557.0 460.3 555.5C456.0 553.9 451.9 551.9 447.9 549.8C443.9 547.7 440.1 545.3 436.4 542.8C432.7 540.4 429.2 537.7 425.8 534.9C422.4 532.2 419.1 529.3 415.8 526.3C412.5 523.3 409.3 520.3 406.2 517.1C403.0 513.9 399.9 510.5 397.0 507.0C394.1 503.4 391.3 499.6 388.7 495.7C386.2 491.7 383.8 487.5 381.7 483.2C379.6 478.8 377.8 474.2 376.4 469.5C374.9 464.8 373.9 459.9 373.2 454.9C372.5 449.9 372.2 444.9 372.2 439.8C372.3 434.7 372.6 429.5 373.3 424.4C374.0 419.3 375.1 414.1 376.5 409.0C378.0 404.0 379.8 399.0 382.0 394.1C384.2 389.3 386.7 384.5 389.7 380.1C392.6 375.6 395.9 371.2 399.5 367.2C403.1 363.2 407.2 359.5 411.4 356.2C415.7 352.8 420.3 349.8 425.0 347.2C429.7 344.6 434.7 342.3 439.7 340.3C444.8 338.4 450.0 336.8 455.2 335.5C460.4 334.2 465.7 333.2 471.1 332.4C476.4 331.7 481.8 331.3 487.2 330.9C492.6 330.5 498.1 330.3 503.6 330.3C509.1 330.3 514.8 330.3 520.4 330.8C526.1 331.3 531.9 332.1 537.5 333.4C543.1 334.7 548.9 336.5 554.2 338.9C559.5 341.2 564.8 344.2 569.5 347.7C574.1 351.3 578.5 355.4 582.0 360.1C585.4 364.9 588.2 370.4 590.0 376.0C591.9 381.6 592.9 387.8 593.3 393.7C593.7 399.5 593.2 405.6 592.5 411.3C591.8 417.0 590.3 422.5 589.0 427.6C587.7 432.7 586.0 437.5 584.7 442.1C583.4 446.6 582.1 450.7 581.2 454.9Z" fill="#b5b5b5"/><path d="M579.5 454.9C578.7 459.0 578.2 462.8 577.6 466.8C577.1 470.8 576.7 474.7 576.1 478.7C575.6 482.8 575.1 486.9 574.3 491.0C573.5 495.1 572.6 499.3 571.2 503.4C569.9 507.5 568.3 511.7 566.2 515.5C564.2 519.4 561.6 523.1 558.9 526.6C556.1 530.0 552.8 533.1 549.5 536.1C546.1 539.0 542.5 541.8 538.8 544.3C535.0 546.7 531.1 549.0 527.0 550.9C522.9 552.8 518.6 554.5 514.2 555.7C509.9 557.0 505.4 558.0 500.9 558.7C496.4 559.3 491.7 559.7 487.2 559.6C482.7 559.5 478.1 559.0 473.6 558.1C469.2 557.2 464.8 555.9 460.6 554.3C456.4 552.8 452.3 550.8 448.3 548.7C444.4 546.6 440.7 544.2 437.1 541.7C433.5 539.2 430.1 536.5 426.7 533.7C423.3 531.0 420.1 528.1 417.0 525.1C413.8 522.2 410.7 519.1 407.7 515.9C404.7 512.7 401.7 509.4 399.0 505.8C396.2 502.3 393.5 498.6 391.1 494.7C388.7 490.8 386.5 486.7 384.6 482.4C382.6 478.1 380.9 473.6 379.7 469.1C378.4 464.5 377.4 459.7 376.9 454.9C376.3 450.1 376.1 445.2 376.2 440.3C376.3 435.4 376.7 430.4 377.5 425.5C378.3 420.6 379.4 415.7 380.9 410.9C382.3 406.0 384.1 401.2 386.3 396.6C388.5 392.0 391.0 387.5 393.8 383.2C396.6 379.0 399.8 374.8 403.3 371.0C406.8 367.2 410.6 363.6 414.6 360.3C418.7 357.1 423.1 354.2 427.5 351.6C432.0 349.0 436.8 346.7 441.6 344.7C446.4 342.8 451.3 341.2 456.4 339.8C461.4 338.4 466.5 337.4 471.6 336.6C476.8 335.7 482.0 335.3 487.2 334.9C492.4 334.5 497.7 334.3 503.1 334.2C508.5 334.2 513.9 334.2 519.4 334.7C524.9 335.2 530.5 335.9 536.0 337.2C541.4 338.5 547.0 340.1 552.1 342.4C557.3 344.7 562.4 347.6 566.9 351.0C571.4 354.4 575.8 358.4 579.1 363.0C582.5 367.5 585.2 372.8 587.1 378.2C589.0 383.6 590.0 389.6 590.5 395.3C590.9 401.0 590.6 406.8 590.0 412.3C589.4 417.8 588.1 423.2 586.9 428.2C585.7 433.2 584.1 437.9 582.8 442.3C581.6 446.8 580.4 450.8 579.5 454.9Z" fill="#b9b9b9"/><path d="M577.9 454.9C577.0 458.9 576.5 462.7 575.8 466.6C575.2 470.4 574.7 474.3 574.0 478.2C573.4 482.1 572.8 486.0 571.8 490.0C570.9 493.9 569.9 497.9 568.5 501.8C567.1 505.7 565.5 509.7 563.4 513.4C561.4 517.1 558.9 520.6 556.3 524.0C553.6 527.3 550.5 530.4 547.4 533.3C544.2 536.2 540.8 539.0 537.2 541.6C533.7 544.1 529.9 546.5 526.0 548.5C522.0 550.5 517.9 552.3 513.7 553.7C509.5 555.2 505.1 556.3 500.7 557.1C496.2 557.8 491.7 558.3 487.2 558.2C482.7 558.2 478.2 557.7 473.8 556.9C469.4 556.1 465.0 554.7 460.9 553.2C456.7 551.6 452.7 549.7 448.8 547.6C445.0 545.5 441.3 543.0 437.8 540.5C434.2 538.0 430.9 535.3 427.6 532.6C424.3 529.8 421.2 526.9 418.1 524.0C415.1 521.0 412.1 518.0 409.2 514.8C406.3 511.6 403.5 508.2 400.9 504.7C398.3 501.2 395.8 497.6 393.5 493.7C391.3 489.9 389.2 485.8 387.4 481.6C385.7 477.5 384.1 473.1 383.0 468.6C381.8 464.2 381.0 459.5 380.5 454.9C380.1 450.3 380.0 445.5 380.2 440.8C380.4 436.1 380.9 431.3 381.7 426.6C382.6 421.9 383.7 417.2 385.2 412.7C386.7 408.1 388.5 403.5 390.6 399.2C392.8 394.8 395.2 390.5 398.0 386.4C400.7 382.4 403.7 378.4 407.1 374.8C410.4 371.1 414.0 367.7 417.8 364.5C421.7 361.4 425.8 358.5 430.1 356.0C434.3 353.4 438.8 351.1 443.4 349.2C448.0 347.2 452.7 345.5 457.5 344.1C462.3 342.7 467.2 341.6 472.2 340.7C477.1 339.8 482.1 339.3 487.2 338.9C492.3 338.5 497.4 338.2 502.6 338.1C507.8 338.1 513.1 338.1 518.4 338.5C523.7 339.0 529.1 339.7 534.4 340.9C539.7 342.2 545.1 343.8 550.1 346.0C555.1 348.2 560.1 350.9 564.4 354.2C568.8 357.5 573.0 361.4 576.3 365.8C579.6 370.2 582.3 375.3 584.2 380.5C586.1 385.7 587.1 391.4 587.7 396.9C588.2 402.4 587.9 408.1 587.5 413.4C587.0 418.7 585.8 423.9 584.7 428.8C583.7 433.6 582.2 438.2 581.0 442.5C579.9 446.9 578.7 450.9 577.9 454.9Z" fill="#bdbdbd"/><path d="M576.2 454.9C575.3 458.8 574.8 462.5 574.1 466.3C573.3 470.1 572.7 473.8 572.0 477.6C571.2 481.4 570.4 485.2 569.4 488.9C568.3 492.7 567.2 496.5 565.8 500.3C564.3 504.0 562.6 507.7 560.6 511.2C558.6 514.8 556.2 518.2 553.7 521.4C551.1 524.6 548.2 527.6 545.2 530.5C542.2 533.4 539.1 536.3 535.7 538.9C532.3 541.5 528.7 543.9 525.0 546.1C521.2 548.2 517.2 550.2 513.1 551.7C509.1 553.3 504.8 554.6 500.4 555.5C496.1 556.3 491.6 556.9 487.2 556.9C482.8 556.9 478.3 556.5 473.9 555.7C469.6 554.9 465.3 553.6 461.2 552.0C457.1 550.5 453.1 548.5 449.3 546.4C445.5 544.3 441.9 541.9 438.4 539.4C435.0 536.9 431.7 534.2 428.5 531.4C425.3 528.6 422.3 525.7 419.3 522.8C416.3 519.8 413.4 516.8 410.7 513.6C407.9 510.4 405.3 507.1 402.8 503.6C400.3 500.1 398.0 496.5 395.9 492.7C393.8 488.9 391.9 485.0 390.3 480.9C388.7 476.8 387.3 472.5 386.3 468.2C385.3 463.9 384.6 459.4 384.2 454.9C383.8 450.4 383.8 445.9 384.1 441.3C384.4 436.8 385.0 432.2 385.9 427.8C386.8 423.3 388.0 418.8 389.6 414.5C391.1 410.1 392.9 405.8 395.0 401.7C397.1 397.5 399.5 393.5 402.1 389.6C404.8 385.8 407.7 382.0 410.8 378.5C414.0 375.0 417.4 371.7 421.1 368.7C424.7 365.7 428.6 362.9 432.6 360.3C436.6 357.8 440.9 355.6 445.2 353.6C449.6 351.6 454.1 349.8 458.7 348.4C463.2 346.9 468.0 345.8 472.7 344.9C477.5 343.9 482.3 343.4 487.2 342.9C492.1 342.4 497.0 342.1 502.1 342.1C507.1 342.0 512.2 342.0 517.3 342.4C522.5 342.8 527.7 343.5 532.9 344.7C538.0 345.9 543.2 347.4 548.0 349.6C552.9 351.7 557.7 354.3 561.9 357.5C566.2 360.7 570.2 364.4 573.5 368.6C576.7 372.8 579.4 377.8 581.3 382.7C583.2 387.7 584.3 393.2 584.9 398.5C585.5 403.8 585.3 409.3 585.0 414.4C584.6 419.5 583.6 424.6 582.6 429.3C581.7 434.1 580.3 438.5 579.2 442.8C578.1 447.0 577.1 451.0 576.2 454.9Z" fill="#c1c1c1"/><path d="M574.5 454.9C573.7 458.7 573.2 462.4 572.5 466.1C571.8 469.8 571.2 473.5 570.4 477.2C569.7 480.9 568.9 484.6 567.8 488.3C566.8 492.0 565.6 495.7 564.2 499.3C562.7 503.0 561.1 506.6 559.1 510.1C557.1 513.5 554.8 516.8 552.3 520.0C549.7 523.1 547.0 526.1 544.0 529.0C541.1 531.9 538.0 534.7 534.8 537.3C531.5 539.9 528.0 542.3 524.3 544.5C520.6 546.6 516.7 548.6 512.7 550.2C508.7 551.8 504.5 553.1 500.2 554.0C496.0 554.8 491.6 555.4 487.2 555.4C482.8 555.4 478.4 555.0 474.1 554.2C469.9 553.4 465.6 552.1 461.6 550.5C457.5 549.0 453.6 547.0 449.9 544.9C446.2 542.8 442.7 540.4 439.3 537.9C435.9 535.4 432.7 532.7 429.6 529.9C426.5 527.2 423.6 524.3 420.7 521.4C417.9 518.4 415.1 515.4 412.4 512.3C409.8 509.1 407.2 505.9 404.9 502.4C402.5 499.0 400.3 495.4 398.3 491.7C396.4 488.0 394.6 484.1 393.0 480.1C391.5 476.1 390.3 472.0 389.3 467.8C388.4 463.6 387.8 459.2 387.4 454.9C387.1 450.6 387.2 446.1 387.5 441.8C387.8 437.4 388.4 433.0 389.3 428.7C390.1 424.3 391.3 420.0 392.8 415.8C394.3 411.6 396.0 407.4 398.1 403.4C400.1 399.5 402.4 395.5 405.0 391.8C407.6 388.1 410.4 384.5 413.5 381.2C416.6 377.8 419.9 374.7 423.4 371.8C426.9 368.9 430.7 366.2 434.6 363.9C438.5 361.5 442.6 359.3 446.8 357.5C451.0 355.6 455.4 354.0 459.8 352.7C464.2 351.3 468.7 350.2 473.3 349.4C477.9 348.6 482.5 348.1 487.2 347.6C491.9 347.2 496.6 347.0 501.4 347.0C506.2 346.9 511.1 346.9 516.0 347.4C520.9 347.8 525.9 348.5 530.8 349.7C535.7 350.8 540.6 352.4 545.2 354.4C549.8 356.5 554.4 359.0 558.5 362.0C562.6 365.0 566.5 368.5 569.6 372.5C572.7 376.5 575.3 381.1 577.2 385.8C579.1 390.5 580.3 395.7 581.0 400.7C581.8 405.7 581.8 410.9 581.6 415.8C581.4 420.7 580.6 425.5 579.8 430.1C579.1 434.6 577.9 438.9 577.0 443.1C576.1 447.2 575.2 451.1 574.5 454.9Z" fill="#c4c4c4"/><path d="M572.7 454.9C572.0 458.7 571.6 462.3 570.9 465.9C570.3 469.6 569.7 473.2 568.9 476.8C568.2 480.4 567.3 484.1 566.3 487.7C565.2 491.3 564.1 494.9 562.6 498.4C561.1 502.0 559.5 505.5 557.5 508.9C555.6 512.2 553.3 515.4 550.8 518.5C548.4 521.6 545.7 524.6 542.9 527.4C540.0 530.3 537.0 533.1 533.8 535.7C530.6 538.2 527.2 540.7 523.6 542.9C520.1 545.0 516.2 547.0 512.3 548.6C508.4 550.2 504.2 551.6 500.0 552.4C495.9 553.3 491.5 553.9 487.2 553.9C482.9 553.9 478.5 553.5 474.3 552.7C470.1 551.9 465.9 550.6 462.0 549.0C458.0 547.5 454.2 545.5 450.5 543.4C446.9 541.3 443.5 538.9 440.2 536.4C436.9 533.9 433.8 531.2 430.8 528.4C427.8 525.7 424.9 522.9 422.1 520.0C419.4 517.0 416.7 514.1 414.1 511.0C411.6 507.8 409.2 504.6 406.9 501.2C404.7 497.9 402.6 494.3 400.8 490.7C398.9 487.1 397.2 483.3 395.8 479.4C394.4 475.5 393.2 471.5 392.4 467.4C391.5 463.3 391.0 459.1 390.7 454.9C390.4 450.7 390.5 446.4 390.8 442.2C391.1 438.0 391.7 433.7 392.6 429.6C393.5 425.4 394.6 421.2 396.1 417.1C397.5 413.1 399.2 409.1 401.2 405.2C403.1 401.4 405.4 397.6 407.9 394.1C410.4 390.5 413.2 387.0 416.1 383.8C419.1 380.6 422.4 377.6 425.8 374.9C429.2 372.1 432.9 369.6 436.7 367.4C440.4 365.1 444.4 363.1 448.5 361.4C452.5 359.6 456.7 358.2 460.9 356.9C465.2 355.7 469.5 354.7 473.9 354.0C478.3 353.2 482.7 352.8 487.2 352.4C491.7 352.0 496.2 351.9 500.8 351.9C505.3 351.9 510.0 351.9 514.7 352.4C519.3 352.9 524.1 353.5 528.7 354.7C533.3 355.8 538.0 357.3 542.4 359.3C546.8 361.2 551.2 363.6 555.1 366.5C558.9 369.3 562.7 372.7 565.7 376.4C568.7 380.2 571.3 384.5 573.2 388.9C575.1 393.4 576.3 398.2 577.2 402.9C578.0 407.7 578.2 412.6 578.2 417.2C578.2 421.9 577.6 426.5 577.1 430.8C576.5 435.2 575.6 439.3 574.9 443.4C574.1 447.4 573.4 451.1 572.7 454.9Z" fill="#c8c8c8"/><path d="M571.0 454.9C570.4 458.6 570.0 462.1 569.4 465.7C568.8 469.3 568.2 472.8 567.4 476.4C566.6 479.9 565.8 483.5 564.7 487.0C563.7 490.5 562.5 494.1 561.0 497.5C559.6 501.0 557.9 504.4 556.0 507.7C554.0 510.9 551.8 514.1 549.4 517.1C547.0 520.2 544.4 523.1 541.7 525.9C538.9 528.7 536.0 531.5 532.9 534.1C529.8 536.6 526.5 539.1 523.0 541.3C519.5 543.4 515.7 545.4 511.9 547.0C508.0 548.7 504.0 550.0 499.8 550.9C495.7 551.8 491.4 552.4 487.2 552.4C483.0 552.4 478.7 552.0 474.5 551.2C470.4 550.4 466.3 549.0 462.4 547.5C458.5 545.9 454.7 544.0 451.2 541.9C447.6 539.8 444.2 537.3 441.0 534.9C437.8 532.4 434.8 529.7 431.9 527.0C429.0 524.2 426.2 521.4 423.6 518.5C420.9 515.7 418.3 512.7 415.9 509.6C413.4 506.6 411.1 503.4 409.0 500.0C406.9 496.7 404.9 493.3 403.2 489.7C401.4 486.1 399.9 482.4 398.6 478.6C397.3 474.9 396.2 470.9 395.4 467.0C394.7 463.0 394.2 459.0 393.9 454.9C393.7 450.8 393.8 446.7 394.2 442.7C394.5 438.6 395.1 434.5 395.9 430.4C396.8 426.4 397.9 422.4 399.3 418.5C400.7 414.6 402.4 410.7 404.3 407.0C406.2 403.3 408.4 399.7 410.8 396.3C413.2 392.8 415.9 389.5 418.8 386.5C421.7 383.4 424.8 380.6 428.2 378.0C431.5 375.4 435.0 373.0 438.7 370.9C442.3 368.8 446.2 366.9 450.1 365.3C454.0 363.7 458.0 362.3 462.1 361.2C466.2 360.1 470.3 359.2 474.5 358.5C478.7 357.8 482.9 357.4 487.2 357.1C491.5 356.9 495.8 356.7 500.1 356.8C504.5 356.8 508.9 356.9 513.3 357.4C517.7 357.9 522.3 358.6 526.6 359.7C531.0 360.8 535.5 362.2 539.6 364.1C543.8 366.0 547.9 368.2 551.6 370.9C555.3 373.6 558.9 376.8 561.8 380.3C564.7 383.8 567.2 387.9 569.1 392.0C571.1 396.2 572.4 400.7 573.3 405.2C574.3 409.6 574.7 414.2 574.8 418.6C575.0 423.0 574.7 427.4 574.3 431.6C573.9 435.7 573.2 439.8 572.7 443.6C572.1 447.5 571.5 451.2 571.0 454.9Z" fill="#cccccc"/><path d="M569.2 454.9C568.8 458.5 568.4 462.0 567.8 465.5C567.3 469.0 566.7 472.5 565.9 476.0C565.1 479.5 564.3 482.9 563.2 486.4C562.1 489.8 560.9 493.3 559.4 496.6C558.0 500.0 556.3 503.3 554.4 506.5C552.5 509.7 550.3 512.7 548.0 515.7C545.7 518.7 543.2 521.5 540.5 524.3C537.8 527.1 535.0 529.9 532.0 532.5C528.9 535.0 525.7 537.5 522.3 539.7C518.9 541.8 515.3 543.9 511.5 545.5C507.7 547.1 503.7 548.5 499.6 549.4C495.6 550.3 491.4 550.9 487.2 550.9C483.0 550.9 478.8 550.5 474.7 549.7C470.7 548.9 466.6 547.5 462.8 546.0C459.0 544.4 455.3 542.5 451.8 540.4C448.3 538.3 445.0 535.8 441.9 533.4C438.8 530.9 435.9 528.2 433.0 525.5C430.2 522.8 427.6 520.0 425.0 517.1C422.4 514.3 419.9 511.4 417.6 508.3C415.3 505.3 413.1 502.1 411.1 498.8C409.1 495.6 407.2 492.2 405.6 488.7C404.0 485.2 402.5 481.6 401.3 477.9C400.2 474.2 399.2 470.4 398.5 466.6C397.8 462.7 397.4 458.8 397.2 454.9C397.0 451.0 397.2 447.0 397.5 443.1C397.8 439.2 398.4 435.2 399.3 431.3C400.1 427.5 401.2 423.6 402.5 419.8C403.9 416.1 405.5 412.4 407.4 408.8C409.2 405.2 411.3 401.8 413.7 398.5C416.0 395.2 418.6 392.0 421.4 389.1C424.2 386.2 427.3 383.5 430.5 381.0C433.7 378.6 437.2 376.4 440.7 374.4C444.2 372.4 448.0 370.7 451.7 369.2C455.5 367.7 459.3 366.5 463.2 365.5C467.1 364.4 471.1 363.7 475.1 363.1C479.1 362.5 483.1 362.1 487.2 361.9C491.3 361.7 495.3 361.6 499.5 361.7C503.6 361.7 507.8 361.9 512.0 362.4C516.2 362.9 520.4 363.6 524.6 364.7C528.7 365.8 532.9 367.2 536.8 368.9C540.8 370.7 544.7 372.9 548.2 375.4C551.7 377.9 555.1 380.9 557.9 384.2C560.7 387.5 563.2 391.3 565.1 395.1C567.0 399.0 568.4 403.2 569.5 407.4C570.6 411.5 571.1 415.8 571.4 420.0C571.8 424.2 571.7 428.3 571.5 432.3C571.4 436.3 570.9 440.2 570.5 443.9C570.1 447.7 569.6 451.3 569.2 454.9Z" fill="#d0d0d0"/><path d="M565.7 454.9C565.5 458.3 565.3 461.7 564.8 465.1C564.4 468.5 563.9 471.9 563.2 475.3C562.5 478.6 561.7 482.0 560.6 485.3C559.6 488.6 558.4 491.9 556.9 495.2C555.5 498.4 553.9 501.6 552.1 504.7C550.2 507.7 548.1 510.7 545.9 513.6C543.7 516.5 541.2 519.3 538.7 522.0C536.1 524.7 533.4 527.4 530.5 529.9C527.6 532.4 524.5 534.9 521.2 537.0C517.9 539.1 514.4 541.1 510.7 542.7C507.1 544.3 503.2 545.6 499.3 546.5C495.3 547.3 491.2 547.9 487.2 547.9C483.2 547.9 479.1 547.4 475.1 546.6C471.2 545.7 467.3 544.4 463.6 542.8C460.0 541.2 456.5 539.2 453.1 537.1C449.8 535.0 446.7 532.6 443.8 530.1C440.8 527.7 438.1 525.0 435.4 522.4C432.7 519.8 430.2 517.0 427.8 514.3C425.4 511.5 423.0 508.8 420.7 505.9C418.5 503.0 416.4 500.0 414.4 496.9C412.4 493.8 410.6 490.6 409.0 487.3C407.4 484.0 405.9 480.5 404.8 477.0C403.6 473.5 402.7 469.8 402.1 466.1C401.5 462.4 401.2 458.6 401.2 454.9C401.2 451.2 401.6 447.4 402.2 443.7C402.8 440.0 403.7 436.4 404.8 432.8C405.9 429.3 407.3 425.8 409.0 422.5C410.6 419.2 412.4 416.0 414.5 412.9C416.5 409.9 418.8 407.0 421.2 404.2C423.6 401.5 426.1 398.9 428.9 396.6C431.6 394.2 434.5 392.1 437.5 390.2C440.6 388.3 443.8 386.7 447.0 385.3C450.3 383.9 453.6 382.8 456.9 381.9C460.3 380.9 463.7 380.2 467.0 379.6C470.4 378.9 473.7 378.5 477.1 378.2C480.5 377.8 483.8 377.6 487.2 377.4C490.6 377.2 494.0 377.0 497.5 376.9C501.0 376.7 504.5 376.6 508.1 376.7C511.8 376.9 515.5 377.1 519.2 377.7C522.9 378.3 526.7 379.0 530.3 380.3C533.9 381.5 537.6 383.0 540.9 385.0C544.2 386.9 547.4 389.3 550.1 392.0C552.9 394.7 555.3 397.8 557.3 401.1C559.3 404.4 560.9 408.0 562.2 411.6C563.5 415.2 564.3 419.0 565.0 422.7C565.6 426.4 565.9 430.1 566.1 433.8C566.3 437.4 566.2 441.0 566.2 444.5C566.1 448.0 565.9 451.5 565.7 454.9Z" fill="#d4d4d4"/><path d="M562.2 454.9C562.2 458.2 562.2 461.5 561.9 464.7C561.6 468.0 561.1 471.3 560.5 474.5C559.9 477.8 559.1 481.0 558.1 484.2C557.0 487.4 555.9 490.6 554.5 493.7C553.1 496.8 551.5 499.9 549.7 502.9C547.9 505.8 545.9 508.7 543.8 511.5C541.6 514.3 539.3 517.0 536.9 519.6C534.4 522.3 531.9 524.9 529.1 527.4C526.3 529.8 523.3 532.2 520.1 534.3C516.9 536.4 513.5 538.3 510.0 539.9C506.4 541.4 502.7 542.7 498.9 543.6C495.1 544.4 491.1 544.9 487.2 544.9C483.3 544.9 479.3 544.4 475.5 543.5C471.8 542.6 468.0 541.2 464.5 539.6C461.0 538.0 457.6 536.0 454.5 533.9C451.3 531.8 448.4 529.4 445.6 526.9C442.8 524.5 440.3 521.9 437.8 519.3C435.3 516.7 432.9 514.1 430.6 511.5C428.3 508.8 426.1 506.2 423.9 503.5C421.8 500.7 419.6 497.9 417.7 495.0C415.8 492.1 414.0 489.1 412.4 485.9C410.8 482.7 409.3 479.4 408.2 476.1C407.1 472.7 406.2 469.2 405.7 465.6C405.2 462.1 405.0 458.5 405.2 454.9C405.4 451.3 406.0 447.8 406.9 444.3C407.7 440.9 408.9 437.5 410.4 434.3C411.8 431.1 413.5 428.0 415.4 425.1C417.2 422.3 419.4 419.5 421.6 417.0C423.8 414.5 426.2 412.1 428.6 410.0C431.1 407.8 433.6 405.8 436.3 404.0C438.9 402.2 441.7 400.6 444.6 399.3C447.4 398.1 450.4 397.1 453.3 396.3C456.3 395.5 459.3 394.9 462.2 394.5C465.1 394.1 468.0 393.9 470.8 393.7C473.6 393.4 476.4 393.4 479.1 393.3C481.8 393.1 484.5 393.1 487.2 392.9C489.9 392.7 492.6 392.4 495.5 392.1C498.3 391.8 501.3 391.3 504.3 391.0C507.4 390.8 510.6 390.5 513.8 390.6C517.1 390.7 520.5 390.9 523.8 391.6C527.0 392.2 530.4 393.1 533.5 394.5C536.6 395.9 539.7 397.6 542.4 399.7C545.0 401.8 547.4 404.4 549.5 407.1C551.6 409.8 553.3 412.8 554.8 415.8C556.4 418.9 557.5 422.1 558.5 425.4C559.5 428.6 560.2 431.9 560.7 435.2C561.3 438.5 561.6 441.8 561.8 445.1C562.1 448.4 562.2 451.6 562.2 454.9Z" fill="#d7d7d7"/></g>
<g style="mix-blend-mode:lighten" filter="url(#b1)"><path d="M574.2 455.6L601.0 460.9M574.1 459.7L608.9 474.3M572.4 463.6L593.8 469.7M571.8 468.3L605.7 487.1M571.4 470.1L603.0 489.0M571.0 473.0L604.2 490.6M569.9 477.5L605.7 503.8M569.0 480.5L596.3 502.3M568.8 484.9L600.5 507.0M567.7 487.7L588.3 500.3M566.3 491.0L594.1 512.8M566.4 494.9L588.7 516.8M564.4 498.6L588.3 523.3M562.9 501.1L583.1 525.9M562.2 505.6L583.7 530.5M559.2 509.8L588.5 554.1M558.1 511.2L586.3 556.5M554.9 517.2L583.4 558.6M553.3 518.9L568.9 554.5M551.5 520.7L565.4 551.0M548.1 523.9L572.7 572.5M546.5 526.9L558.2 557.0M543.5 529.3L552.0 562.6M539.1 532.5L546.5 570.3M537.4 535.5L545.3 560.7M532.2 538.5L544.9 574.8M530.5 539.4L533.8 570.7M528.2 542.5L529.7 579.4M522.0 545.1L523.3 587.9M520.6 545.6L519.6 590.6M494.4 554.1L488.4 572.4M482.9 554.8L478.7 566.2M476.1 553.9L471.9 569.3M448.0 543.7L441.9 550.8M442.5 539.4L432.5 549.7M429.3 529.5L417.9 536.0M417.0 517.4L402.6 525.9M411.6 511.6L395.2 519.5M409.9 509.1L394.2 512.9M407.7 507.7L390.2 513.4M404.8 503.0L388.6 505.7M398.0 492.5L374.8 495.5M392.7 481.9L367.5 482.9M391.8 478.9L370.8 476.7M389.0 472.7L362.5 471.1M387.8 464.3L361.1 460.6M387.7 463.2L359.9 455.3M386.5 438.8L358.8 424.5M389.6 419.8L363.5 399.8M392.0 413.8L364.7 387.8M393.1 411.4L367.0 388.6M394.6 406.5L361.3 373.1M400.7 394.9L376.2 368.6M406.5 387.4L383.4 357.1M411.6 380.6L384.9 339.6M413.4 378.8L395.1 348.2M435.4 361.1L425.9 318.0M442.9 356.7L441.0 322.2M446.8 355.1L440.0 311.1M451.1 353.4L442.8 309.5M454.3 351.8L456.3 309.1M460.0 350.1L457.7 309.4M478.8 346.2L485.8 316.4M481.4 345.1L491.5 305.3M487.2 344.9L503.5 295.2M492.8 345.0L508.3 309.4M497.6 343.6L516.6 300.6M500.9 343.9L512.1 306.5M505.4 344.6L522.0 302.3M508.4 345.1L534.8 298.6M517.0 344.4L534.5 304.5M520.3 345.3L538.3 320.4M525.2 343.9L551.3 313.2M531.1 346.1L557.0 314.3M534.2 347.4L569.6 311.4M540.6 347.9L573.6 310.5M542.7 348.9L578.6 306.4M548.4 352.1L585.5 313.7M552.2 354.4L575.1 331.7M559.1 357.9L596.3 322.5M560.7 359.1L592.7 340.3M566.4 364.8L594.2 345.2M570.4 368.4L604.1 352.4M573.9 371.9L615.1 352.1M574.9 373.0L607.4 358.4M577.4 381.0L607.2 363.6M579.3 383.5L620.5 365.2M581.9 386.9L634.5 374.4M581.4 396.7L630.1 385.4M583.5 400.2L613.5 389.9M585.2 403.3L620.7 398.0M581.3 411.1L607.9 404.9M582.8 414.5L621.9 408.1M584.6 419.0L612.7 415.7M585.5 421.5L613.7 422.3M580.7 429.9L602.0 429.1M581.2 432.1L611.3 432.9M576.3 437.4L594.8 440.2M576.9 441.0L602.4 444.5M577.5 445.0L609.0 447.7M574.0 449.4L609.7 452.7M574.2 453.6L592.0 456.8" fill="none" stroke="#b3b3b3" stroke-width="2.6" stroke-linecap="round"/></g>
<g fill="#dbdbdb" style="mix-blend-mode:lighten" filter="url(#b6)"><path d="M416.5 434.2C421.8 429.6 432.5 428.4 440.0 428.0C447.5 427.6 458.3 423.3 461.5 431.8C464.7 440.3 458.0 467.2 459.0 479.0C460.0 490.8 465.0 494.9 467.4 502.8C469.8 510.7 475.3 523.5 473.3 526.5C471.3 529.5 462.5 524.6 455.6 520.6C448.7 516.6 438.9 509.7 432.0 502.8C425.1 495.9 418.0 486.9 414.0 479.0C410.0 471.1 407.6 463.0 408.0 455.5C408.4 448.0 411.2 438.8 416.5 434.2Z"/></g>
<g style="mix-blend-mode:lighten" filter="url(#b3)"><path d="M400.0 448.0C400.4 443.1 399.6 427.2 402.3 418.3C405.1 409.4 410.6 401.4 416.5 394.7C422.4 388.0 430.3 382.5 437.8 378.1C445.3 373.8 453.6 370.6 461.5 368.6C469.4 366.6 477.3 366.5 485.2 366.3C493.1 366.1 500.9 367.5 508.8 367.5C516.7 367.5 524.8 365.7 532.5 366.3C540.2 366.9 551.2 370.2 555.0 371.0" fill="none" stroke="#d7d7d7" stroke-width="7" stroke-linecap="round"/></g>
<g fill="#e6e6e6" style="mix-blend-mode:lighten" filter="url(#b3)"><path d="M518.0 390.0C526.6 391.1 539.0 394.2 546.0 400.0C553.0 405.8 557.2 416.7 560.0 425.0C562.8 433.3 563.7 439.8 563.0 450.0C562.3 460.2 558.8 477.2 556.0 486.0C553.2 494.8 549.8 497.7 546.0 503.0C542.2 508.3 539.8 512.7 533.0 518.0C526.2 523.3 512.7 531.3 505.0 535.0C497.3 538.7 491.3 542.3 487.0 540.0C482.7 537.7 482.3 527.2 479.0 521.0C475.7 514.8 470.3 510.0 467.0 503.0C463.7 496.0 460.5 487.0 459.0 479.0C457.5 471.0 458.2 461.2 458.0 455.0C457.8 448.8 457.4 447.0 458.0 442.0C458.6 437.0 459.0 430.5 461.5 425.0C464.0 419.5 467.5 414.2 473.0 409.0C478.5 403.8 487.1 396.7 494.6 393.5C502.1 390.3 509.4 388.9 518.0 390.0Z"/></g>
<g fill="#f6f6f6" style="mix-blend-mode:lighten" filter="url(#b4)"><path d="M515.4 401.0C522.5 401.9 532.7 404.5 538.4 409.5C544.1 414.4 547.6 423.6 549.9 430.7C552.2 437.8 552.9 443.3 552.3 452.0C551.8 460.6 548.9 475.1 546.6 482.6C544.3 490.1 541.5 492.5 538.4 497.0C535.3 501.6 533.3 505.2 527.7 509.8C522.1 514.3 511.1 521.1 504.8 524.2C498.5 527.3 493.6 530.5 490.0 528.5C486.5 526.5 486.2 517.6 483.5 512.3C480.7 507.1 476.4 503.0 473.6 497.0C470.9 491.1 468.3 483.4 467.1 476.6C465.8 469.8 466.4 461.5 466.2 456.2C466.1 451.0 465.8 449.4 466.2 445.2C466.7 440.9 467.1 435.4 469.1 430.7C471.2 426.1 474.0 421.6 478.5 417.1C483.1 412.7 490.1 406.6 496.3 404.0C502.4 401.3 508.4 400.1 515.4 401.0Z"/></g>
<g fill="#aeaeae" style="mix-blend-mode:lighten" filter="url(#b2)"><path d="M655.0 268.0C655.5 266.3 660.8 270.0 663.0 272.0C665.2 274.0 665.2 278.0 668.0 280.0C670.8 282.0 677.0 281.3 680.0 284.0C683.0 286.7 682.7 293.7 686.0 296.0C689.3 298.3 695.7 296.3 700.0 298.0C704.3 299.7 708.0 303.3 712.0 306.0C716.0 308.7 721.7 311.3 724.0 314.0C726.3 316.7 727.3 319.7 726.0 322.0C724.7 324.3 720.0 328.0 716.0 328.0C712.0 328.0 706.3 324.0 702.0 322.0C697.7 320.0 693.7 318.7 690.0 316.0C686.3 313.3 684.3 308.0 680.0 306.0C675.7 304.0 668.0 306.3 664.0 304.0C660.0 301.7 656.7 295.7 656.0 292.0C655.3 288.3 660.2 286.0 660.0 282.0C659.8 278.0 654.5 269.7 655.0 268.0Z"/></g>
<g fill="#b9b9b9" style="mix-blend-mode:lighten" filter="url(#b2)"><ellipse cx="669.4" cy="291.7" rx="10" ry="9"/></g>
<g fill="#c1c1c1" style="mix-blend-mode:lighten" filter="url(#b2)"><ellipse cx="697.6" cy="307.5" rx="10" ry="8"/></g>
<g fill="#bfbfbf" style="mix-blend-mode:lighten" filter="url(#b2)"><ellipse cx="716.7" cy="318.7" rx="7" ry="5.5"/></g>
<g fill="#b3b3b3" style="mix-blend-mode:lighten" filter="url(#b1_2)"><ellipse cx="750" cy="324.3" rx="2.5" ry="3.5"/></g>
<g fill="#c4c4c4" style="mix-blend-mode:lighten" filter="url(#b1_5)"><ellipse cx="629" cy="495.2" rx="5" ry="6.5" transform="rotate(20 629 495.2)"/></g>
<g fill="#b0b0b0" style="mix-blend-mode:lighten" filter="url(#b2)"><ellipse cx="629" cy="495" rx="8" ry="9"/></g>
<g fill="#bdbdbd" style="mix-blend-mode:lighten" filter="url(#b1_5)"><ellipse cx="680.7" cy="515.5" rx="11" ry="3.5" transform="rotate(-8 680.7 515.5)"/></g>
<g fill="#b0b0b0" style="mix-blend-mode:lighten" filter="url(#b2)"><ellipse cx="682" cy="515.5" rx="15" ry="5.5" transform="rotate(-8 682 515.5)"/></g>
<g fill="#aaaaaa" style="mix-blend-mode:lighten" filter="url(#b2)"><ellipse cx="653.7" cy="457" rx="5" ry="4"/></g>
<g fill="#aaaaaa" style="mix-blend-mode:lighten" filter="url(#b2_5)"><ellipse cx="748" cy="403" rx="9" ry="5"/></g>
<g fill="#acacac" style="mix-blend-mode:lighten" filter="url(#b2)"><ellipse cx="743.7" cy="434.5" rx="11" ry="5" transform="rotate(-15 743.7 434.5)"/></g>
<g fill="#acacac" style="mix-blend-mode:lighten" filter="url(#b3)"><ellipse cx="768.4" cy="476" rx="13" ry="10" transform="rotate(-30 768.4 476)"/></g>
<g fill="#b2b2b2" style="mix-blend-mode:lighten" filter="url(#b1_5)"><ellipse cx="665" cy="570.6" rx="5" ry="3" transform="rotate(-30 665 570.6)"/></g>
<g fill="#b3b3b3" style="mix-blend-mode:lighten" filter="url(#b1_5)"><ellipse cx="672.8" cy="578" rx="3.5" ry="5.5" transform="rotate(20 672.8 578)"/></g>
</g>
</g></g></g></g>
<g clip-path="url(#ax1)">
<text x="409" y="422" font-size="15.5" fill="#2a788e" text-anchor="middle" transform="rotate(-68 409 422)">−64</text>
<text x="531" y="371" font-size="15.5" fill="#22a884" text-anchor="middle" transform="rotate(18 531 371)">−54</text>
<text x="519" y="494" font-size="15.5" fill="#414487" text-anchor="middle" transform="rotate(-32 519 494)">−76</text>
<text x="713" y="321" font-size="15.5" fill="#fde725" text-anchor="middle" transform="rotate(22 713 321)">−31</text>
<text x="455" y="600" font-size="15.5" fill="#fde725" text-anchor="middle" transform="rotate(-22 455 600)">−31</text>
<text x="262" y="590" font-size="15.5" fill="#7ad151" text-anchor="middle" transform="rotate(14 262 590)">−42</text>
<text x="248" y="556" font-size="15.5" fill="#22a884" text-anchor="middle" transform="rotate(30 248 556)">−54</text>
<text x="398" y="519" font-size="15.5" fill="#7ad151" text-anchor="middle" transform="rotate(52 398 519)">−42</text>
<polyline points="568.0,459.5 600.0,463.5 640.0,465.3 702.0,465.8" fill="none" stroke="#00bfbf" stroke-width="10" stroke-dasharray="2.2 1.2"/>
<polyline points="568.0,459.5 600.0,463.5 640.0,465.3 702.0,465.8" fill="none" stroke="#00bfbf" stroke-width="6.5"/>
<polyline points="689.0,472.3 702.3,469.0 724.6,462.3 729.0,456.7 751.3,452.3 784.7,447.3 828.1,442.3" fill="none" stroke="#00bfbf" stroke-width="10" stroke-dasharray="2.2 1.2"/>
<polyline points="689.0,472.3 702.3,469.0 724.6,462.3 729.0,456.7 751.3,452.3 784.7,447.3 828.1,442.3" fill="none" stroke="#00bfbf" stroke-width="6"/>
<path d="M779.6 476.7l8 8m0 -8l-8 8" stroke="#00bfbf" stroke-width="3" fill="none"/>
<path d="M510.0 449.7h9.2v9.2h-9.2zM533.9 468.8h9.2v9.2h-9.2zM558.9 454.4h9.2v9.2h-9.2zM589.5 459.4h9.2v9.2h-9.2zM623.7 452.1h9.2v9.2h-9.2zM663.4 460.0h9.2v9.2h-9.2zM694.4 457.2h9.2v9.2h-9.2zM678.8 489.7h9.2v9.2h-9.2zM750.6 444.4h9.2v9.2h-9.2zM777.9 462.2h9.2v9.2h-9.2zM806.8 446.0h9.2v9.2h-9.2z" fill="#bf00bf"/>
<polyline points="481.0,464.3 491.0,461.0" fill="none" stroke="#008000" stroke-width="2.6"/>
<polyline points="534.6,460.6 540.7,474.0 561.3,467.9 562.4,456.7 580.2,457.9 583.6,460.6 591.4,461.8 600.0,465.6 691.2,467.9 702.3,467.3 725.7,463.4 727.9,460.1 732.4,459.0 751.3,456.7 783.6,479.0 761.3,457.9 756.9,451.2 773.6,449.0 790.3,445.6 823.6,442.8 831.4,426.7" fill="none" stroke="#008000" stroke-width="2.6" stroke-linejoin="round"/>
<polyline points="104.7,441.0 150.0,447.0 200.0,452.0 260.0,456.0 330.0,460.0 400.0,463.0 467.8,465.3" fill="none" stroke="#0000ff" stroke-width="3.1" stroke-dasharray="3.1 5.1"/>
<polyline points="467.8,465.3 755.2,465.3 799.7,459.5 831.4,449.0" fill="none" stroke="#0000ff" stroke-width="2.6"/>
<circle cx="508.1" cy="465.3" r="3.9" fill="#0000ff"/><circle cx="552.4" cy="465.3" r="3.9" fill="#0000ff"/><circle cx="595.3" cy="465.3" r="3.9" fill="#0000ff"/><circle cx="632.5" cy="465.3" r="3.9" fill="#0000ff"/><circle cx="668.4" cy="465.3" r="3.9" fill="#0000ff"/><circle cx="712.3" cy="465.3" r="3.9" fill="#0000ff"/><circle cx="755.2" cy="465.3" r="3.9" fill="#0000ff"/><circle cx="799.7" cy="459.5" r="3.9" fill="#0000ff"/>
<polyline points="466.2,465.3 557.0,465.3 558.5,454.5 559.5,465.3 564.6,465.3 565.8,455.5 566.8,465.3 702.3,465.3 703.4,472.9 706.8,472.3 707.9,466.8 711.2,471.8 715.7,471.2 716.8,465.6 720.1,471.2 722.9,470.7 724.6,464.5 727.9,465.6 731.8,474.6 747.4,467.3 727.9,457.9 734.6,454.5 760.2,451.7 759.6,456.7 762.4,454.5 781.3,452.8 783.6,457.9 790.8,445.6 792.5,454.5 795.8,456.7 800.3,444.5 802.5,454.5 806.9,456.2 809.2,452.3 812.0,461.2 831.4,452.3" fill="none" stroke="#ff0000" stroke-width="3.1" stroke-linejoin="round"/>
<path d="M526.3 457.1l10.4 10.4m0 -10.4l-10.4 10.4" stroke="#ff0000" stroke-width="3.4" fill="none"/>
</g>
<path d="M202.0 101.7V829.3M347.5 101.7V829.3M493.0 101.7V829.3M638.5 101.7V829.3M784.0 101.7V829.3M104.7 160.0H832.3M104.7 305.3H832.3M104.7 450.7H832.3M104.7 596.2H832.3M104.7 742.0H832.3" stroke="#fff" stroke-width="2.1" stroke-dasharray="2.1 3.45" fill="none"/>
<path d="M1077.0 101.7V829.3M1222.5 101.7V829.3M1368.0 101.7V829.3M1513.5 101.7V829.3M1659.0 101.7V829.3M979.7 160.0H1707.3M979.7 305.3H1707.3M979.7 450.7H1707.3M979.7 596.2H1707.3M979.7 742.0H1707.3" stroke="#fff" stroke-width="2.1" stroke-dasharray="2.1 3.45" fill="none"/>
<rect x="441.6" y="110.2" width="386.4" height="189.3" rx="3.5" ry="3.5" fill="#000" fill-opacity="0.25"/>
<rect x="439.5" y="108.1" width="386.4" height="189.3" rx="3.5" ry="3.5" fill="#fff" fill-opacity="0.8" stroke="#ccc" stroke-opacity="0.8" stroke-width="1.6"/>
<path d="M457.7 117.9h9.2v9.2h-9.2zM457.7 140.8h9.2v9.2h-9.2z" fill="#bf00bf"/>
<path d="M458.3 163.6l8 8m0 -8l-8 8" stroke="#00bfbf" stroke-width="2.8" fill="none"/>
<line x1="445.2" x2="479.5" y1="190.3" y2="190.3" stroke="#008000" stroke-width="2.6"/>
<line x1="445.8" x2="479.5" y1="213.0" y2="213.0" stroke="#0000ff" stroke-width="2.6" stroke-dasharray="2.6 4.3"/>
<line x1="445.2" x2="479.5" y1="236.1" y2="236.1" stroke="#0000ff" stroke-width="2.6"/><circle cx="462.3" cy="236.1" r="3.9" fill="#0000ff"/>
<path d="M457.5 253.3l9.6 9.6m0 -9.6l-9.6 9.6" stroke="#ff0000" stroke-width="3.2" fill="none"/>
<line x1="445.2" x2="479.5" y1="281.0" y2="281.0" stroke="#ff0000" stroke-width="3.1"/>
<text x="489.6" y="127.7" font-size="16.9" textLength="328.7" lengthAdjust="spacingAndGlyphs">AMSU Locations [NOAAMC/1835Z 62 990]</text>
<text x="489.6" y="150.6" font-size="16.9" textLength="212.5" lengthAdjust="spacingAndGlyphs">ARCHER Locations [0542Z]</text>
<text x="489.6" y="172.8" font-size="16.9" textLength="271.4" lengthAdjust="spacingAndGlyphs">SATCON Locations [2110Z 76 982]</text>
<text x="489.6" y="195.5" font-size="16.9" textLength="245.0" lengthAdjust="spacingAndGlyphs">ADT Tracks [0940Z 90.0 972.6]</text>
<text x="489.6" y="218.2" font-size="16.9" textLength="244.1" lengthAdjust="spacingAndGlyphs">JTWC/NHC Forecast [03/0600Z]</text>
<text x="489.6" y="241.3" font-size="16.9" textLength="227.0" lengthAdjust="spacingAndGlyphs">JTWC/NHC Tracks [03/0600Z]</text>
<text x="489.6" y="263.3" font-size="16.9" textLength="234.0" lengthAdjust="spacingAndGlyphs">MESOSCALE/TARGET Location</text>
<text x="489.6" y="286.2" font-size="16.9" textLength="120.0" lengthAdjust="spacingAndGlyphs">Floater Locater</text>
<rect x="101.6" y="802.8" width="312.3" height="28.5" rx="4" ry="4" fill="#000"/>
<text x="107.4" y="822.0" font-size="17.6" font-weight="bold" fill="#fff" textLength="302.5" lengthAdjust="spacingAndGlyphs">Copyright © 2020-2025 Dapiya</text>
<rect x="104.7" y="101.7" width="727.6" height="727.6" fill="none" stroke="#000" stroke-width="3.2"/>
<rect x="979.5" y="101.7" width="728" height="727.6" fill="none" stroke="#000" stroke-width="3.2"/>
<linearGradient id="cb1" x1="0" y1="0" x2="0" y2="1"><stop offset="0" stop-color="#000"/><stop offset="1" stop-color="#fff"/></linearGradient>
<linearGradient id="cb2" x1="0" y1="0" x2="0" y2="1"><stop offset="0.0000" stop-color="rgb(255,255,255)"/><stop offset="0.3333" stop-color="rgb(255,255,255)"/><stop offset="0.3333" stop-color="rgb(90,26,106)"/><stop offset="0.3667" stop-color="rgb(60,72,168)"/><stop offset="0.4000" stop-color="rgb(40,100,205)"/><stop offset="0.4267" stop-color="rgb(10,128,255)"/><stop offset="0.4667" stop-color="rgb(68,170,246)"/><stop offset="0.5000" stop-color="rgb(104,220,255)"/><stop offset="0.5167" stop-color="rgb(128,255,250)"/><stop offset="0.5333" stop-color="rgb(128,252,214)"/><stop offset="0.5633" stop-color="rgb(128,252,122)"/><stop offset="0.5900" stop-color="rgb(200,248,112)"/><stop offset="0.6067" stop-color="rgb(252,252,112)"/><stop offset="0.6367" stop-color="rgb(255,208,80)"/><stop offset="0.6667" stop-color="rgb(255,160,48)"/><stop offset="0.6933" stop-color="rgb(255,122,0)"/><stop offset="0.7333" stop-color="rgb(200,80,16)"/><stop offset="0.7667" stop-color="rgb(160,44,8)"/><stop offset="0.7900" stop-color="rgb(128,0,0)"/><stop offset="0.9000" stop-color="rgb(128,0,0)"/><stop offset="1" stop-color="rgb(128,0,0)"/></linearGradient>
<rect x="839.4" y="101.3" width="15.2" height="728" fill="url(#cb1)" stroke="#000" stroke-width="0.9"/>
<rect x="1714.5" y="101.3" width="15" height="728" fill="url(#cb2)" stroke="#000" stroke-width="0.9"/>
<text x="104.3" y="51.4" font-size="27.2" textLength="471.6" lengthAdjust="spacingAndGlyphs">GOES-18 BAND14-DIAS MESOSCALE</text>
<text x="103.0" y="80.9" font-size="27.2" textLength="375.4" lengthAdjust="spacingAndGlyphs">Time: 2025/09/03 10:23:25Z</text>
<text x="1707.9" y="38.4" font-size="17.2" text-anchor="end" textLength="379.2" lengthAdjust="spacingAndGlyphs">[dmax, dmin](BAND14)=(-32.485, -82.469)</text>
<text x="1707.9" y="59.2" font-size="17.2" text-anchor="end" textLength="346.4" lengthAdjust="spacingAndGlyphs">[dmax, dmin](AWV)=(-41.752, -79.821)</text>
<text x="1707.2" y="80.3" font-size="17.2" text-anchor="end" textLength="208.4" lengthAdjust="spacingAndGlyphs">11E.KIKO | 90kt, 973mb</text>
<text x="96.6" y="164.6" font-size="14.6" text-anchor="end" textLength="35.0" lengthAdjust="spacingAndGlyphs">18°N</text>
<text x="96.6" y="309.9" font-size="14.6" text-anchor="end" textLength="35.0" lengthAdjust="spacingAndGlyphs">16°N</text>
<text x="96.6" y="455.3" font-size="14.6" text-anchor="end" textLength="35.0" lengthAdjust="spacingAndGlyphs">14°N</text>
<text x="96.6" y="600.8" font-size="14.6" text-anchor="end" textLength="35.0" lengthAdjust="spacingAndGlyphs">12°N</text>
<text x="96.6" y="746.6" font-size="14.6" text-anchor="end" textLength="35.0" lengthAdjust="spacingAndGlyphs">10°N</text>
<text x="201.9" y="851.8" font-size="14.6" text-anchor="middle" textLength="46.4" lengthAdjust="spacingAndGlyphs">134°W</text>
<text x="347.4" y="851.8" font-size="14.6" text-anchor="middle" textLength="46.4" lengthAdjust="spacingAndGlyphs">132°W</text>
<text x="492.9" y="851.8" font-size="14.6" text-anchor="middle" textLength="46.4" lengthAdjust="spacingAndGlyphs">130°W</text>
<text x="638.4" y="851.8" font-size="14.6" text-anchor="middle" textLength="46.4" lengthAdjust="spacingAndGlyphs">128°W</text>
<text x="783.9" y="851.8" font-size="14.6" text-anchor="middle" textLength="46.4" lengthAdjust="spacingAndGlyphs">126°W</text>
<text x="971.6" y="164.6" font-size="14.6" text-anchor="end" textLength="35.0" lengthAdjust="spacingAndGlyphs">18°N</text>
<text x="971.6" y="309.9" font-size="14.6" text-anchor="end" textLength="35.0" lengthAdjust="spacingAndGlyphs">16°N</text>
<text x="971.6" y="455.3" font-size="14.6" text-anchor="end" textLength="35.0" lengthAdjust="spacingAndGlyphs">14°N</text>
<text x="971.6" y="600.8" font-size="14.6" text-anchor="end" textLength="35.0" lengthAdjust="spacingAndGlyphs">12°N</text>
<text x="971.6" y="746.6" font-size="14.6" text-anchor="end" textLength="35.0" lengthAdjust="spacingAndGlyphs">10°N</text>
<text x="1076.9" y="851.8" font-size="14.6" text-anchor="middle" textLength="46.4" lengthAdjust="spacingAndGlyphs">134°W</text>
<text x="1222.4" y="851.8" font-size="14.6" text-anchor="middle" textLength="46.4" lengthAdjust="spacingAndGlyphs">132°W</text>
<text x="1367.9" y="851.8" font-size="14.6" text-anchor="middle" textLength="46.4" lengthAdjust="spacingAndGlyphs">130°W</text>
<text x="1513.4" y="851.8" font-size="14.6" text-anchor="middle" textLength="46.4" lengthAdjust="spacingAndGlyphs">128°W</text>
<text x="1658.9" y="851.8" font-size="14.6" text-anchor="middle" textLength="46.4" lengthAdjust="spacingAndGlyphs">126°W</text>
<text x="861.0" y="162.2" font-size="17" textLength="19.6" lengthAdjust="spacingAndGlyphs">40</text>
<text x="861.0" y="216.2" font-size="17" textLength="19.6" lengthAdjust="spacingAndGlyphs">30</text>
<text x="861.0" y="270.2" font-size="17" textLength="19.6" lengthAdjust="spacingAndGlyphs">20</text>
<text x="861.0" y="324.2" font-size="17" textLength="19.6" lengthAdjust="spacingAndGlyphs">10</text>
<text x="861.0" y="378.2" font-size="17" textLength="9.9" lengthAdjust="spacingAndGlyphs">0</text>
<text x="861.0" y="432.2" font-size="17" textLength="33.2" lengthAdjust="spacingAndGlyphs">−10</text>
<text x="861.0" y="486.2" font-size="17" textLength="33.2" lengthAdjust="spacingAndGlyphs">−20</text>
<text x="861.0" y="540.2" font-size="17" textLength="33.2" lengthAdjust="spacingAndGlyphs">−30</text>
<text x="861.0" y="594.2" font-size="17" textLength="33.2" lengthAdjust="spacingAndGlyphs">−40</text>
<text x="861.0" y="648.2" font-size="17" textLength="33.2" lengthAdjust="spacingAndGlyphs">−50</text>
<text x="861.0" y="702.2" font-size="17" textLength="33.2" lengthAdjust="spacingAndGlyphs">−60</text>
<text x="861.0" y="756.2" font-size="17" textLength="33.2" lengthAdjust="spacingAndGlyphs">−70</text>
<text x="861.0" y="810.2" font-size="17" textLength="33.2" lengthAdjust="spacingAndGlyphs">−80</text>
<text x="1736.0" y="157.2" font-size="17" textLength="19.6" lengthAdjust="spacingAndGlyphs">40</text>
<text x="1736.0" y="205.8" font-size="17" textLength="19.6" lengthAdjust="spacingAndGlyphs">30</text>
<text x="1736.0" y="254.4" font-size="17" textLength="19.6" lengthAdjust="spacingAndGlyphs">20</text>
<text x="1736.0" y="303.1" font-size="17" textLength="19.6" lengthAdjust="spacingAndGlyphs">10</text>
<text x="1736.0" y="351.7" font-size="17" textLength="9.9" lengthAdjust="spacingAndGlyphs">0</text>
<text x="1736.0" y="400.3" font-size="17" textLength="33.2" lengthAdjust="spacingAndGlyphs">−10</text>
<text x="1736.0" y="448.9" font-size="17" textLength="33.2" lengthAdjust="spacingAndGlyphs">−20</text>
<text x="1736.0" y="497.5" font-size="17" textLength="33.2" lengthAdjust="spacingAndGlyphs">−30</text>
<text x="1736.0" y="546.2" font-size="17" textLength="33.2" lengthAdjust="spacingAndGlyphs">−40</text>
<text x="1736.0" y="594.8" font-size="17" textLength="33.2" lengthAdjust="spacingAndGlyphs">−50</text>
<text x="1736.0" y="643.4" font-size="17" textLength="33.2" lengthAdjust="spacingAndGlyphs">−60</text>
<text x="1736.0" y="692.0" font-size="17" textLength="33.2" lengthAdjust="spacingAndGlyphs">−70</text>
<text x="1736.0" y="740.6" font-size="17" textLength="33.2" lengthAdjust="spacingAndGlyphs">−80</text>
<text x="1736.0" y="789.3" font-size="17" textLength="33.2" lengthAdjust="spacingAndGlyphs">−90</text>
<text x="848.4" y="93.6" font-size="18" textLength="20.0" lengthAdjust="spacingAndGlyphs">°C</text>
<text x="1723.6" y="93.3" font-size="18" textLength="20.0" lengthAdjust="spacingAndGlyphs">°C</text>
<rect x="104.8" y="903.6" width="749.5" height="749.7" fill="#fff"/>
<polyline points="135.3,1260.9 151.0,1260.9 166.6,1260.9 182.3,1260.9 197.9,1260.9 213.6,1260.9 229.2,1260.9 244.9,1260.9 260.5,1260.9 276.2,1260.9 291.8,1260.9 307.5,1240.8 323.1,1240.8 338.8,1240.8 354.5,1220.8 370.1,1200.7 385.8,1200.7 401.4,1180.6 417.1,1180.6 432.7,1160.6 448.4,1120.4 464.0,1120.4 479.7,1080.3 495.3,1040.1 511.0,1020.1 526.7,979.9 542.3,979.9" fill="none" stroke="#0000ff" stroke-width="5.4" stroke-linejoin="round" stroke-linecap="butt"/>
<polyline points="541.5,979.6 553.8,938.0 560.4,926.4 571.4,919.6 666.9,919.6 701.2,946.5 708.5,957.5 720.8,960.0 736.7,960.0 746.5,965.6 774.6,1009.7 804.0,1010.2 817.5,1035.2" fill="none" stroke="#0000ff" stroke-width="5.4" stroke-dasharray="5.4 8.4" stroke-linejoin="round"/>
<rect x="114.8" y="913.7" width="276.3" height="60.4" rx="4" ry="4" fill="#fff" fill-opacity="0.8" stroke="#ccc" stroke-opacity="0.8" stroke-width="3.2"/>
<line x1="119.5" x2="162.3" y1="928.1" y2="928.1" stroke="#0000ff" stroke-width="5.6"/>
<line x1="121.5" x2="162.3" y1="956.8" y2="956.8" stroke="#0000ff" stroke-width="5.6" stroke-dasharray="5.6 8.2"/>
<text x="175.2" y="935.1" font-size="18.2" textLength="146.0" lengthAdjust="spacingAndGlyphs">Wind[max=90]</text>
<text x="174.6" y="963.2" font-size="18.2" textLength="211.0" lengthAdjust="spacingAndGlyphs">Wind Fore.[max=105]</text>
<polyline points="135.3,920.3 151.0,920.3 166.6,920.3 182.3,920.3 197.9,920.3 213.6,920.3 229.2,920.3 244.9,920.3 260.5,920.3 276.2,920.3 291.8,920.3 307.5,920.3 323.1,929.5 338.8,929.5 354.5,929.5 370.1,947.9 385.8,957.1 401.4,975.5 417.1,975.5 432.7,1012.4 448.4,1021.6 464.0,1040.0 479.7,1086.0 495.3,1132.1 511.0,1159.7 526.7,1261.0 542.3,1261.0" fill="none" stroke="#1f77b4" stroke-width="5.4" stroke-linejoin="round"/>
<rect x="626.4" y="913.4" width="217.2" height="32.7" rx="4" ry="4" fill="#fff" fill-opacity="0.8" stroke="#ccc" stroke-opacity="0.8" stroke-width="3.2"/>
<line x1="631.4" x2="673.8" y1="928.2" y2="928.2" stroke="#1f77b4" stroke-width="5.6"/>
<text x="685.4" y="936.0" font-size="18.2" textLength="153.4" lengthAdjust="spacingAndGlyphs">Pres.[min=973]</text>
<polyline points="135.3,1636.1 151.0,1636.1 166.6,1636.1 182.3,1636.1 197.9,1636.1 213.6,1636.1 229.2,1636.1 244.9,1636.1 260.5,1636.1 276.2,1636.1 291.8,1636.1 307.5,1636.1 323.1,1636.1 338.8,1636.1 354.5,1636.1 370.1,1634.2 385.8,1632.2 401.4,1629.7 417.1,1627.2 432.7,1624.0 448.4,1619.2 464.0,1614.4 479.7,1607.8 495.3,1598.9 511.0,1588.8 526.7,1576.0 542.3,1563.2" fill="none" stroke="#008000" stroke-width="5.4" stroke-linejoin="round"/>
<polyline points="541.5,1563.2 546.2,1559.2 550.9,1554.8 555.5,1550.0 560.2,1545.0 564.9,1539.9 569.6,1534.7 574.2,1529.5 578.9,1524.2 583.6,1519.0 588.3,1513.7 593.0,1508.4 597.6,1503.2 602.3,1497.9 607.0,1492.6 611.7,1487.4 616.3,1482.1 621.0,1476.8 625.7,1471.6 630.4,1466.3 635.1,1461.1 639.7,1455.8 644.4,1450.5 649.1,1445.3 653.8,1440.0 658.4,1434.7 663.1,1429.5 667.8,1424.2 672.5,1419.0 677.2,1413.9 681.8,1408.9 686.5,1404.0 691.2,1399.1 695.9,1394.4 700.6,1389.7 705.2,1385.2 709.9,1380.7 714.6,1376.4 719.3,1372.1 723.9,1367.8 728.6,1363.5 733.3,1359.2 738.0,1354.9 742.7,1350.6 747.3,1346.4 752.0,1342.4 756.7,1338.4 761.4,1334.7 766.0,1331.1 770.7,1327.6 775.4,1324.3 780.1,1321.1 784.8,1317.8 789.4,1314.6 794.1,1311.3 798.8,1308.1 803.5,1304.8 808.1,1301.7 812.8,1298.7 817.5,1295.8" fill="none" stroke="#008000" stroke-width="5.4" stroke-dasharray="5.4 8.4" stroke-linejoin="round"/>
<rect x="115.1" y="1289.1" width="308.8" height="60.1" rx="4" ry="4" fill="#fff" fill-opacity="0.8" stroke="#ccc" stroke-opacity="0.8" stroke-width="3.2"/>
<line x1="118.9" x2="162.1" y1="1303.5" y2="1303.5" stroke="#008000" stroke-width="5.6"/>
<line x1="120.9" x2="162.1" y1="1332.1" y2="1332.1" stroke="#008000" stroke-width="5.6" stroke-dasharray="5.6 8.2"/>
<text x="173.3" y="1310.7" font-size="18.2" textLength="179.0" lengthAdjust="spacingAndGlyphs">ACE[max=4.6175]</text>
<text x="173.3" y="1339.1" font-size="18.2" textLength="245.8" lengthAdjust="spacingAndGlyphs">ACE Fore.[max=21.5581]</text>
<rect x="104.8" y="903.6" width="749.5" height="749.7" fill="none" stroke="#000" stroke-width="3.2"/>
<line x1="104.8" x2="854.3" y1="1278.2" y2="1278.2" stroke="#000" stroke-width="3.2"/>
<text x="78.4" y="945.0" font-size="14" text-anchor="end" textLength="24.3" lengthAdjust="spacingAndGlyphs">100</text>
<text x="78.4" y="1025.3" font-size="14" text-anchor="end" textLength="16.2" lengthAdjust="spacingAndGlyphs">80</text>
<text x="78.4" y="1105.6" font-size="14" text-anchor="end" textLength="16.2" lengthAdjust="spacingAndGlyphs">60</text>
<text x="78.4" y="1185.8" font-size="14" text-anchor="end" textLength="16.2" lengthAdjust="spacingAndGlyphs">40</text>
<text x="78.4" y="1266.1" font-size="14" text-anchor="end" textLength="16.2" lengthAdjust="spacingAndGlyphs">20</text>
<text x="79.4" y="1325.6" font-size="14" text-anchor="end" textLength="16.2" lengthAdjust="spacingAndGlyphs">20</text>
<text x="79.4" y="1404.5" font-size="14" text-anchor="end" textLength="16.2" lengthAdjust="spacingAndGlyphs">15</text>
<text x="79.4" y="1483.5" font-size="14" text-anchor="end" textLength="16.2" lengthAdjust="spacingAndGlyphs">10</text>
<text x="79.4" y="1562.4" font-size="14" text-anchor="end" textLength="8.1" lengthAdjust="spacingAndGlyphs">5</text>
<text x="79.4" y="1641.3" font-size="14" text-anchor="end" textLength="8.1" lengthAdjust="spacingAndGlyphs">0</text>
<text x="878.0" y="925.5" font-size="14" textLength="34.0" lengthAdjust="spacingAndGlyphs">1010</text>
<text x="878.0" y="971.5" font-size="14" textLength="34.0" lengthAdjust="spacingAndGlyphs">1005</text>
<text x="878.0" y="1017.6" font-size="14" textLength="34.0" lengthAdjust="spacingAndGlyphs">1000</text>
<text x="878.0" y="1063.6" font-size="14" textLength="25.6" lengthAdjust="spacingAndGlyphs">995</text>
<text x="878.0" y="1109.6" font-size="14" textLength="25.6" lengthAdjust="spacingAndGlyphs">990</text>
<text x="878.0" y="1155.7" font-size="14" textLength="25.6" lengthAdjust="spacingAndGlyphs">985</text>
<text x="878.0" y="1201.7" font-size="14" textLength="25.6" lengthAdjust="spacingAndGlyphs">980</text>
<text x="878.0" y="1247.7" font-size="14" textLength="25.6" lengthAdjust="spacingAndGlyphs">975</text>
<path d="M103.2 939.8h-10.5M103.2 1020.1h-10.5M103.2 1100.4h-10.5M103.2 1180.6h-10.5M103.2 1260.9h-10.5M103.2 1320.4h-10.5M103.2 1399.3h-10.5M103.2 1478.2h-10.5M103.2 1557.2h-10.5M103.2 1636.1h-10.5M855.9 920.3h10.5M855.9 966.3h10.5M855.9 1012.4h10.5M855.9 1058.4h10.5M855.9 1104.4h10.5M855.9 1150.5h10.5M855.9 1196.5h10.5M855.9 1242.5h10.5" stroke="#000" stroke-width="3.1" fill="none"/>
<text x="36.0" y="1091.0" font-size="12.6" text-anchor="middle" transform="rotate(-90 36.0 1091.0)">Wind</text>
<text x="44.5" y="1466.0" font-size="12.6" text-anchor="middle" transform="rotate(-90 44.5 1466.0)">ACE</text>
<text x="938.5" y="1091.0" font-size="12.6" text-anchor="middle" transform="rotate(-90 938.5 1091.0)">Pressure</text>
<text x="479.5" y="881.4" font-size="23" text-anchor="middle" textLength="317.0" lengthAdjust="spacingAndGlyphs">Wind / Pres. / ACE Diagnosis</text>
<clipPath id="ax4"><rect x="979.5" y="903.6" width="750.0" height="749.6999999999999"/></clipPath>
<rect x="979.5" y="903.6" width="750.0" height="749.6999999999999" fill="#fff"/>
<g clip-path="url(#ax4)" shape-rendering="crispEdges">
<path d="M1618.1 904.9H1631.9V906.9H1618.1ZM1616.8 906.9H1630.7V921.1H1616.8ZM1631.2 921.1H1645.0V934.9H1631.2ZM1616.2 934.9H1643.8V949.5H1616.2ZM1601.2 949.5H1714.7V963.8H1601.2ZM1643.0 963.8H1728.8V992.2H1643.0ZM1628.1 992.2H1728.8V1006.5H1628.1ZM1656.2 1006.5H1728.8V1020.8H1656.2ZM1698.1 1020.8H1725.8V1034.6H1698.1ZM1683.2 1035.2H1696.8V1048.8H1683.2ZM1652.2 1106.0H1666.1V1120.8H1652.2ZM1609.2 1120.8H1679.9V1134.9H1609.2ZM1722.2 1120.0H1728.8V1149.1H1722.2ZM1623.0 1134.9H1708.1V1149.1H1623.0ZM1621.9 1149.1H1728.8V1158.0H1621.9ZM1349.3 1264.9H1378.1V1279.2H1349.3ZM1335.0 1279.2H1390.8V1293.4H1335.0ZM1334.2 1293.4H1377.0V1307.7H1334.2ZM1391.2 1293.4H1405.0V1307.7H1391.2ZM1348.1 1307.7H1361.9V1321.8H1348.1ZM1445.3 1350.3H1485.0V1364.2H1445.3ZM1374.2 1364.2H1485.0V1392.9H1374.2ZM1359.2 1392.9H1471.9V1408.0H1359.2ZM1622.4 1149.2H1728.8V1163.7H1622.4ZM1636.2 1163.7H1728.8V1178.3H1636.2ZM1579.3 1178.3H1728.8V1192.6H1579.3ZM1578.1 1192.6H1705.8V1206.5H1578.1ZM1719.9 1192.6H1728.8V1206.5H1719.9ZM1591.9 1206.5H1705.3V1220.6H1591.9ZM1591.2 1220.6H1705.0V1234.9H1591.2ZM1619.2 1234.9H1689.6V1249.1H1619.2ZM1633.2 1249.1H1688.8V1263.4H1633.2ZM1547.3 1263.4H1589.6V1277.7H1547.3ZM1618.4 1263.4H1631.9V1277.7H1618.4ZM1646.1 1263.4H1703.0V1277.7H1646.1ZM1575.3 1277.7H1631.9V1292.2H1575.3ZM1646.1 1277.7H1716.8V1292.2H1646.1ZM1589.2 1292.2H1659.2V1306.5H1589.2ZM1673.9 1292.2H1701.9V1306.5H1673.9ZM1518.1 1306.5H1601.9V1320.6H1518.1ZM1617.0 1306.5H1645.0V1320.6H1617.0ZM1673.2 1306.5H1687.0V1320.6H1673.2ZM1517.3 1320.6H1644.2V1334.9H1517.3ZM1658.1 1320.6H1686.5V1334.9H1658.1ZM1488.1 1334.9H1685.8V1348.8H1488.1ZM1475.0 1348.8H1530.1V1363.1H1475.0ZM1572.7 1348.8H1671.6V1363.1H1572.7ZM1475.0 1363.1H1530.1V1377.2H1475.0ZM1543.9 1363.1H1558.1V1377.2H1543.9ZM1586.1 1363.1H1670.7V1377.2H1586.1ZM1500.8 1377.2H1655.8V1391.8H1500.8ZM1699.3 1377.2H1727.0V1391.8H1699.3ZM1499.9 1391.8H1655.3V1406.5H1499.9ZM1684.2 1391.8H1728.8V1406.5H1684.2ZM1475.0 1406.5H1655.0V1408.0H1475.0ZM1684.2 1406.5H1728.8V1408.0H1684.2ZM1359.2 1398.0H1471.9V1407.5H1359.2ZM1373.2 1407.5H1415.0V1421.4H1373.2ZM1429.3 1407.5H1485.0V1421.4H1429.3ZM1358.5 1421.4H1485.0V1435.7H1358.5ZM1344.2 1435.7H1485.0V1450.0H1344.2ZM1315.0 1450.0H1485.0V1464.2H1315.0ZM1357.0 1464.2H1485.0V1478.3H1357.0ZM1370.1 1478.3H1485.0V1506.9H1370.1ZM1341.2 1506.9H1485.0V1521.5H1341.2ZM1341.2 1521.5H1485.0V1535.7H1341.2ZM1354.2 1535.7H1485.0V1550.0H1354.2ZM1354.2 1550.0H1485.0V1563.8H1354.2ZM1396.1 1563.8H1485.0V1578.0H1396.1ZM1395.0 1578.0H1485.0V1591.8H1395.0ZM1409.2 1591.8H1485.0V1606.0H1409.2ZM1437.3 1606.0H1464.7V1620.3H1437.3ZM1479.2 1606.0H1485.0V1620.3H1479.2ZM1475.0 1398.0H1655.8V1405.7H1475.0ZM1684.2 1398.0H1728.8V1405.7H1684.2ZM1475.0 1405.7H1655.0V1419.8H1475.0ZM1684.2 1405.7H1728.8V1419.8H1684.2ZM1475.0 1419.8H1655.0V1434.2H1475.0ZM1669.2 1419.8H1728.8V1434.2H1669.2ZM1475.0 1434.2H1640.1V1448.0H1475.0ZM1669.2 1434.2H1696.8V1448.0H1669.2ZM1711.2 1434.2H1728.8V1448.0H1711.2ZM1475.0 1448.0H1640.1V1462.3H1475.0ZM1653.9 1448.0H1681.9V1462.3H1653.9ZM1710.4 1448.0H1728.8V1462.3H1710.4ZM1475.0 1462.3H1625.0V1476.8H1475.0ZM1653.2 1462.3H1667.0V1476.8H1653.2ZM1696.2 1462.3H1728.8V1476.8H1696.2ZM1475.0 1476.8H1667.0V1490.8H1475.0ZM1695.0 1476.8H1728.8V1490.8H1695.0ZM1475.0 1490.8H1666.1V1504.9H1475.0ZM1681.2 1490.8H1728.8V1504.9H1681.2ZM1475.0 1504.9H1728.8V1605.7H1475.0ZM1479.2 1605.7H1728.8V1619.5H1479.2ZM1521.2 1619.5H1576.8V1633.4H1521.2ZM1591.2 1619.5H1728.8V1633.4H1591.2ZM1534.2 1633.4H1548.8V1647.5H1534.2ZM1591.2 1633.4H1728.8V1647.5H1591.2ZM1590.1 1647.5H1728.8V1653.4H1590.1Z" fill="#888888"/>
<path d="M1163.9 904.9H1205.8V909.5H1163.9ZM1163.0 909.5H1191.9V923.4H1163.0ZM1170.7 923.4H1205.0V937.2H1170.7ZM1148.1 937.2H1205.0V951.8H1148.1ZM1175.8 951.8H1204.2V966.5H1175.8ZM1190.1 966.5H1204.2V980.3H1190.1ZM1411.9 1093.4H1453.9V1107.2H1411.9ZM1411.2 1107.2H1468.1V1121.8H1411.2ZM1397.0 1121.8H1411.2V1136.2H1397.0ZM1453.0 1121.8H1466.8V1136.2H1453.0ZM1410.1 1150.3H1423.9V1158.0H1410.1ZM1451.9 1150.3H1466.2V1158.0H1451.9ZM1410.1 1151.1H1423.9V1164.9H1410.1ZM1451.9 1151.1H1466.2V1164.9H1451.9ZM1451.9 1164.9H1465.3V1179.5H1451.9ZM1422.2 1193.7H1437.0V1208.0H1422.2ZM1450.8 1193.7H1478.8V1208.0H1450.8ZM1436.1 1208.0H1478.8V1222.2H1436.1ZM1238.1 1222.2H1251.9V1236.5H1238.1ZM1449.9 1222.2H1478.1V1236.5H1449.9ZM1237.0 1236.5H1265.0V1250.8H1237.0ZM1475.0 1192.6H1478.8V1206.5H1475.0ZM1475.0 1206.5H1478.8V1220.6H1475.0ZM1475.0 1220.6H1478.1V1234.9H1475.0ZM1189.2 1408.0H1203.0V1422.6H1189.2ZM979.6 1607.2H986.1V1621.8H979.6Z" fill="#a0a0a0"/>
<path d="M1411.2 1121.8H1453.0V1136.2H1411.2ZM1410.4 1136.2H1423.9V1150.3H1410.4ZM1453.0 1136.2H1466.8V1150.3H1453.0ZM1410.4 1148.0H1423.9V1151.1H1410.4ZM1453.0 1148.0H1466.8V1151.1H1453.0ZM1423.5 1164.9H1438.1V1179.5H1423.5ZM1423.5 1179.5H1437.3V1193.7H1423.5ZM1451.2 1179.5H1464.7V1193.7H1451.2ZM1437.0 1193.7H1450.8V1208.0H1437.0Z" fill="#6e6e6e"/>
<path d="M1471.9 1378.0H1485.0V1408.0H1471.9ZM1659.2 1292.2H1673.9V1306.5H1659.2ZM1645.0 1306.5H1673.2V1320.6H1645.0ZM1644.2 1320.6H1658.1V1334.9H1644.2ZM1530.1 1348.8H1572.7V1363.1H1530.1ZM1530.1 1363.1H1543.9V1377.2H1530.1ZM1558.1 1363.1H1586.1V1377.2H1558.1ZM1475.0 1377.2H1500.8V1391.8H1475.0ZM1475.0 1391.8H1499.9V1406.5H1475.0ZM1471.9 1398.0H1485.0V1406.5H1471.9ZM1475.0 1398.0H1499.9V1406.5H1475.0Z" fill="#555555"/>
<path d="M1423.9 1136.2H1453.0V1150.3H1423.9ZM1423.9 1150.3H1451.9V1158.0H1423.9ZM1423.9 1148.0H1453.0V1151.1H1423.9ZM1423.9 1151.1H1451.9V1164.9H1423.9ZM1438.1 1164.9H1451.9V1179.5H1438.1ZM1437.3 1179.5H1451.2V1193.7H1437.3Z" fill="#3c3c3c"/>
<path d="M1021.9 904.9H1163.9V909.5H1021.9ZM1205.8 904.9H1235.0V909.5H1205.8ZM1036.1 909.5H1163.0V923.4H1036.1ZM1191.9 909.5H1235.0V923.4H1191.9ZM1091.9 923.4H1170.7V937.2H1091.9ZM1205.0 923.4H1235.0V937.2H1205.0ZM1091.9 937.2H1148.1V951.8H1091.9ZM1205.0 937.2H1235.0V951.8H1205.0ZM1091.2 951.8H1175.8V966.5H1091.2ZM1204.2 951.8H1235.0V966.5H1204.2ZM1105.0 966.5H1190.1V980.3H1105.0ZM1204.2 966.5H1235.0V980.3H1204.2ZM1103.9 980.3H1235.0V1008.8H1103.9ZM1103.0 1008.8H1145.8V1023.4H1103.0ZM1173.9 1008.8H1235.0V1023.4H1173.9ZM1116.8 1023.4H1145.0V1038.0H1116.8ZM1188.1 1023.4H1235.0V1038.0H1188.1ZM1116.8 1038.0H1235.0V1051.8H1116.8ZM1130.1 1051.8H1235.0V1066.0H1130.1ZM1101.9 1066.0H1235.0V1080.8H1101.9ZM1115.0 1080.8H1235.0V1094.9H1115.0ZM1128.8 1094.9H1235.0V1109.1H1128.8ZM1086.1 1109.1H1128.1V1122.9H1086.1ZM1185.0 1109.1H1235.0V1122.9H1185.0ZM987.0 1122.9H1000.8V1137.7H987.0ZM1086.1 1122.9H1099.9V1137.7H1086.1ZM1198.8 1122.9H1235.0V1137.7H1198.8ZM1057.3 1137.7H1085.0V1151.8H1057.3ZM1113.2 1137.7H1127.0V1151.8H1113.2ZM1183.9 1137.7H1235.0V1151.8H1183.9ZM1056.1 1151.8H1070.1V1158.0H1056.1ZM1113.2 1151.8H1127.0V1158.0H1113.2ZM1168.8 1151.8H1235.0V1158.0H1168.8ZM1225.0 904.9H1306.1V908.0H1225.0ZM1225.0 908.0H1291.2V922.6H1225.0ZM1225.0 922.6H1276.1V951.1H1225.0ZM1225.0 951.1H1288.8V965.7H1225.0ZM1225.0 965.7H1275.0V979.8H1225.0ZM1225.0 979.8H1260.1V1008.8H1225.0ZM1225.0 1008.8H1273.0V1036.5H1225.0ZM1225.0 1036.5H1271.9V1051.1H1225.0ZM1225.0 1051.1H1258.1V1065.7H1225.0ZM1225.0 1065.7H1270.8V1094.2H1225.0ZM1225.0 1094.2H1283.9V1108.0H1225.0ZM1225.0 1108.0H1298.1V1122.6H1225.0ZM1225.0 1122.6H1311.9V1136.8H1225.0ZM1225.0 1136.8H1240.8V1151.1H1225.0ZM1269.2 1136.8H1325.0V1151.1H1269.2ZM1225.0 1151.1H1239.9V1158.0H1225.0ZM1283.2 1151.1H1339.2V1158.0H1283.2ZM1475.0 907.2H1485.0V921.8H1475.0ZM1459.9 921.8H1485.0V950.3H1459.9ZM1459.2 950.3H1485.0V979.1H1459.2ZM1444.2 979.1H1485.0V992.9H1444.2ZM1458.1 992.9H1485.0V1008.0H1458.1ZM1443.2 1008.0H1485.0V1021.8H1443.2ZM1414.2 1021.8H1485.0V1051.1H1414.2ZM1428.1 1051.1H1485.0V1064.9H1428.1ZM1399.2 1064.9H1485.0V1078.8H1399.2ZM1398.1 1078.8H1485.0V1093.4H1398.1ZM1384.2 1093.4H1411.9V1107.2H1384.2ZM1453.9 1093.4H1485.0V1107.2H1453.9ZM1397.0 1107.2H1411.2V1121.8H1397.0ZM1468.1 1107.2H1485.0V1121.8H1468.1ZM1466.8 1121.8H1485.0V1136.2H1466.8ZM1381.9 1136.2H1410.4V1150.3H1381.9ZM1466.8 1136.2H1485.0V1150.3H1466.8ZM1381.9 1150.3H1410.1V1158.0H1381.9ZM1466.2 1150.3H1485.0V1158.0H1466.2ZM1489.9 904.9H1531.9V906.9H1489.9ZM1475.0 906.9H1531.9V921.1H1475.0ZM1475.0 921.1H1516.8V935.7H1475.0ZM1475.0 935.7H1501.9V964.9H1475.0ZM1475.0 964.9H1487.0V979.1H1475.0ZM1475.0 979.1H1500.8V992.9H1475.0ZM1475.0 992.9H1499.9V1021.8H1475.0ZM1475.0 1021.8H1498.8V1050.3H1475.0ZM1475.0 1050.3H1498.1V1078.8H1475.0ZM1475.0 1078.8H1497.0V1106.9H1475.0ZM1475.0 1106.9H1510.1V1135.7H1475.0ZM1475.0 1135.7H1495.0V1158.0H1475.0ZM1057.3 1148.0H1085.0V1151.8H1057.3ZM1113.2 1148.0H1127.0V1151.8H1113.2ZM1183.9 1148.0H1235.0V1151.8H1183.9ZM1056.1 1151.8H1070.1V1166.5H1056.1ZM1113.2 1151.8H1127.0V1166.5H1113.2ZM1168.8 1151.8H1235.0V1166.5H1168.8ZM1084.2 1166.5H1235.0V1180.6H1084.2ZM1111.9 1180.6H1235.0V1194.9H1111.9ZM1126.1 1194.9H1235.0V1208.8H1126.1ZM1125.0 1208.8H1235.0V1236.9H1125.0ZM1167.0 1236.9H1235.0V1251.4H1167.0ZM1194.2 1251.4H1235.0V1265.7H1194.2ZM1152.2 1265.7H1221.9V1279.8H1152.2ZM1137.3 1279.8H1193.2V1294.2H1137.3ZM1122.4 1294.2H1165.0V1308.5H1122.4ZM1122.4 1308.5H1149.9V1322.6H1122.4ZM1121.2 1322.6H1135.8V1336.9H1121.2ZM1234.2 1322.6H1235.0V1336.9H1234.2ZM1050.1 1336.9H1135.0V1351.1H1050.1ZM1163.0 1336.9H1177.0V1351.1H1163.0ZM1206.1 1336.9H1235.0V1351.1H1206.1ZM1063.9 1351.1H1120.8V1365.7H1063.9ZM1149.2 1351.1H1163.0V1365.7H1149.2ZM1205.3 1351.1H1235.0V1365.7H1205.3ZM1219.2 1365.7H1235.0V1380.0H1219.2ZM1063.0 1380.0H1076.8V1394.2H1063.0ZM1148.1 1380.0H1161.9V1394.2H1148.1ZM1204.2 1380.0H1235.0V1394.2H1204.2ZM1190.1 1394.2H1235.0V1408.0H1190.1ZM1225.0 1148.0H1240.8V1151.1H1225.0ZM1269.2 1148.0H1325.0V1151.1H1269.2ZM1381.9 1148.0H1410.4V1151.1H1381.9ZM1466.8 1148.0H1485.0V1151.1H1466.8ZM1225.0 1151.1H1239.9V1164.9H1225.0ZM1283.2 1151.1H1339.2V1164.9H1283.2ZM1381.9 1151.1H1410.1V1164.9H1381.9ZM1466.2 1151.1H1485.0V1164.9H1466.2ZM1225.0 1164.9H1239.6V1179.5H1225.0ZM1281.9 1164.9H1339.2V1179.5H1281.9ZM1381.2 1164.9H1423.5V1179.5H1381.2ZM1465.3 1164.9H1485.0V1179.5H1465.3ZM1225.0 1179.5H1238.8V1193.7H1225.0ZM1296.1 1179.5H1338.1V1193.7H1296.1ZM1395.0 1179.5H1423.5V1193.7H1395.0ZM1464.7 1179.5H1485.0V1193.7H1464.7ZM1225.0 1193.7H1238.8V1208.0H1225.0ZM1309.2 1193.7H1351.9V1208.0H1309.2ZM1408.1 1193.7H1422.2V1208.0H1408.1ZM1478.8 1193.7H1485.0V1208.0H1478.8ZM1225.0 1208.0H1251.9V1222.2H1225.0ZM1295.0 1208.0H1365.0V1222.2H1295.0ZM1422.2 1208.0H1436.1V1222.2H1422.2ZM1478.8 1208.0H1485.0V1222.2H1478.8ZM1225.0 1222.2H1238.1V1236.5H1225.0ZM1251.9 1222.2H1378.8V1236.5H1251.9ZM1436.1 1222.2H1449.9V1236.5H1436.1ZM1478.1 1222.2H1485.0V1236.5H1478.1ZM1225.0 1236.5H1237.0V1250.8H1225.0ZM1265.0 1236.5H1349.9V1250.8H1265.0ZM1435.0 1236.5H1478.1V1250.8H1435.0ZM1225.0 1250.8H1335.8V1264.9H1225.0ZM1448.8 1250.8H1462.7V1264.9H1448.8ZM1448.4 1264.9H1461.9V1279.2H1448.4ZM1292.2 1279.2H1306.1V1293.4H1292.2ZM1448.4 1279.2H1476.1V1293.4H1448.4ZM1264.2 1293.4H1291.9V1307.7H1264.2ZM1447.0 1293.4H1460.8V1307.7H1447.0ZM1249.2 1307.7H1291.2V1321.8H1249.2ZM1233.9 1321.8H1290.8V1336.5H1233.9ZM1225.0 1336.5H1289.9V1350.8H1225.0ZM1225.0 1350.8H1275.8V1364.6H1225.0ZM1225.0 1364.6H1261.2V1378.8H1225.0ZM1225.0 1378.8H1275.0V1392.9H1225.0ZM1225.0 1392.9H1274.2V1408.0H1225.0ZM1475.0 1148.0H1495.0V1149.2H1475.0ZM1475.0 1149.2H1495.0V1163.7H1475.0ZM1475.0 1163.7H1507.8V1178.3H1475.0ZM1475.0 1178.3H1521.9V1192.6H1475.0ZM1478.8 1192.6H1521.9V1206.5H1478.8ZM1478.8 1206.5H1520.8V1220.6H1478.8ZM1478.1 1220.6H1491.9V1234.9H1478.1ZM1475.0 1234.9H1477.8V1249.1H1475.0ZM1475.0 1277.7H1475.8V1292.2H1475.0ZM1190.1 1398.0H1235.0V1408.0H1190.1ZM1147.0 1408.0H1189.2V1422.6H1147.0ZM1203.0 1408.0H1235.0V1422.6H1203.0ZM1146.1 1422.6H1235.0V1436.5H1146.1ZM1188.1 1436.5H1235.0V1464.9H1188.1ZM1046.1 1464.9H1059.9V1479.1H1046.1ZM1159.2 1464.9H1173.0V1479.1H1159.2ZM1201.2 1464.9H1235.0V1479.1H1201.2ZM1018.1 1479.1H1059.9V1493.4H1018.1ZM1215.0 1479.1H1235.0V1493.4H1215.0ZM979.6 1493.4H988.8V1508.0H979.6ZM1017.3 1493.4H1045.0V1508.0H1017.3ZM1215.0 1493.4H1235.0V1508.0H1215.0ZM979.6 1508.0H1003.0V1522.3H979.6ZM1087.3 1508.0H1115.0V1522.3H1087.3ZM1214.2 1508.0H1235.0V1522.3H1214.2ZM979.6 1522.3H1058.8V1536.5H979.6ZM1073.2 1522.3H1115.0V1536.5H1073.2ZM1228.1 1522.3H1235.0V1536.5H1228.1ZM979.6 1536.5H1043.9V1550.3H979.6ZM1227.0 1536.5H1235.0V1550.3H1227.0ZM979.6 1550.3H1043.9V1564.9H979.6ZM979.6 1564.9H1141.9V1579.1H979.6ZM979.6 1579.1H1197.8V1593.1H979.6ZM979.6 1593.1H1210.8V1607.2H979.6ZM986.1 1607.2H1041.9V1621.8H986.1ZM1056.1 1607.2H1235.0V1621.8H1056.1ZM979.6 1621.8H1041.2V1636.2H979.6ZM1056.1 1621.8H1196.1V1636.2H1056.1ZM1225.0 1621.8H1235.0V1636.2H1225.0ZM979.6 1636.2H1181.9V1650.3H979.6ZM979.6 1650.3H1041.2V1653.4H979.6ZM1055.0 1650.3H1196.1V1653.4H1055.0ZM1225.0 1398.0H1274.2V1407.5H1225.0ZM1225.0 1407.5H1260.1V1421.4H1225.0ZM1225.0 1421.4H1259.2V1435.7H1225.0ZM1225.0 1435.7H1258.8V1450.0H1225.0ZM1225.0 1450.0H1258.1V1464.2H1225.0ZM1225.0 1464.2H1271.9V1478.3H1225.0ZM1225.0 1478.3H1257.0V1506.9H1225.0ZM1225.0 1506.9H1257.0V1521.5H1225.0ZM1228.1 1521.5H1255.8V1535.7H1228.1ZM1226.8 1535.7H1255.8V1550.0H1226.8ZM1241.2 1550.0H1283.2V1563.8H1241.2ZM1255.3 1563.8H1297.0V1578.0H1255.3ZM1282.2 1578.0H1311.2V1591.8H1282.2ZM1225.0 1606.0H1266.8V1620.3H1225.0ZM1310.1 1606.0H1323.9V1620.3H1310.1ZM1225.0 1620.3H1266.8V1634.9H1225.0ZM1309.3 1620.3H1337.0V1634.9H1309.3ZM1252.4 1634.9H1308.8V1649.1H1252.4ZM1323.2 1634.9H1351.2V1649.1H1323.2ZM1266.2 1649.1H1322.2V1653.4H1266.2ZM1351.2 1649.1H1365.0V1653.4H1351.2Z" fill="#000"/>
</g>
<rect x="991.2" y="916.8" width="179.5" height="32" rx="5" ry="5" fill="#000"/>
<text x="998.1" y="939.3" font-size="21.8" font-weight="bold" fill="#fff" textLength="165.8" lengthAdjust="spacingAndGlyphs">WMG Count: 0</text>
<rect x="979.5" y="903.6" width="750.0" height="749.6999999999999" fill="none" stroke="#000" stroke-width="3.2"/>
</svg></body></html>
